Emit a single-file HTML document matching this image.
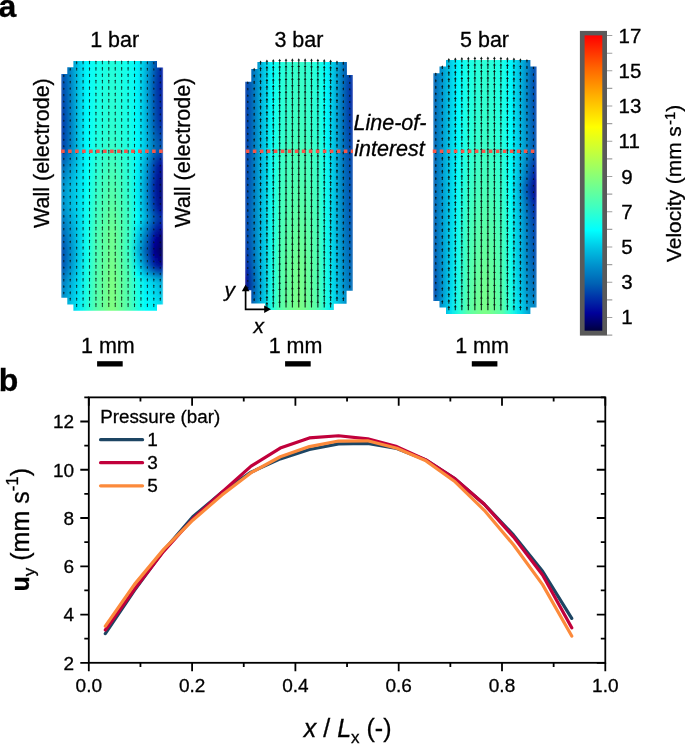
<!DOCTYPE html><html><head><meta charset="utf-8"><style>html,body{margin:0;padding:0;background:#fff;width:685px;height:744px;overflow:hidden}svg{display:block;will-change:transform}text{font-family:"Liberation Sans",sans-serif;fill:#000;stroke:#000;stroke-width:.3px}</style></head><body>
<svg width="685" height="744" viewBox="0 0 685 744">
<defs>
<clipPath id="cp1"><polygon points="73.4,61 157,61 157,67.4 163.2,67.4 163.2,304.4 157,304.4 157,310.8 73.4,310.8 73.4,304.5 67.3,304.5 67.3,297.8 61.1,297.8 61.1,74 67.3,74 67.3,67.2 73.4,67.2"/></clipPath>
<clipPath id="cp2"><polygon points="257.4,62.1 346.9,62.1 346.9,75 353,75 353,290.8 346.6,290.8 346.6,303.7 333.8,303.7 333.8,309.9 265,309.9 265,303.5 251.3,303.5 251.3,290.3 245,290.3 245,81.8 251.3,81.8 251.3,69 257.4,69"/></clipPath>
<clipPath id="cp3"><polygon points="446,60.1 530.4,60.1 530.4,66.5 536.8,66.5 536.8,307.6 530.4,307.6 530.4,314 446,314 446,307.6 439.5,307.6 439.5,300.9 433.1,300.9 433.1,73.2 439.5,73.2 439.5,66.5 446,66.5"/></clipPath>
<filter id="bl" x="-10%" y="-10%" width="120%" height="120%"><feGaussianBlur stdDeviation="1.2 2"/></filter>
<linearGradient id="gp10"><stop offset="0" stop-color="#004eaf"/><stop offset="0.08" stop-color="#0080c4"/><stop offset="0.17" stop-color="#00c7e5"/><stop offset="0.25" stop-color="#00f8fc"/><stop offset="0.33" stop-color="#0efff1"/><stop offset="0.42" stop-color="#1affe6"/><stop offset="0.5" stop-color="#24ffdc"/><stop offset="0.58" stop-color="#1affe6"/><stop offset="0.67" stop-color="#0dfff2"/><stop offset="0.75" stop-color="#00f4fa"/><stop offset="0.83" stop-color="#00b7de"/><stop offset="0.92" stop-color="#005cb3"/><stop offset="1" stop-color="#0018a1"/></linearGradient>
<linearGradient id="gp11"><stop offset="0" stop-color="#004eaf"/><stop offset="0.08" stop-color="#0080c4"/><stop offset="0.17" stop-color="#00c7e5"/><stop offset="0.25" stop-color="#00f8fc"/><stop offset="0.33" stop-color="#0efff1"/><stop offset="0.42" stop-color="#1affe5"/><stop offset="0.5" stop-color="#24ffdc"/><stop offset="0.58" stop-color="#1affe5"/><stop offset="0.67" stop-color="#0dfff2"/><stop offset="0.75" stop-color="#00f4fa"/><stop offset="0.83" stop-color="#00b7de"/><stop offset="0.92" stop-color="#005bb2"/><stop offset="1" stop-color="#0018a1"/></linearGradient>
<linearGradient id="gp12"><stop offset="0" stop-color="#004caf"/><stop offset="0.08" stop-color="#007fc3"/><stop offset="0.17" stop-color="#00c6e5"/><stop offset="0.25" stop-color="#00f8fc"/><stop offset="0.33" stop-color="#0ffff1"/><stop offset="0.42" stop-color="#1bffe5"/><stop offset="0.5" stop-color="#25ffdb"/><stop offset="0.58" stop-color="#1bffe5"/><stop offset="0.67" stop-color="#0efff1"/><stop offset="0.75" stop-color="#00f3fa"/><stop offset="0.83" stop-color="#00b6dd"/><stop offset="0.92" stop-color="#0059b2"/><stop offset="1" stop-color="#0017a1"/></linearGradient>
<linearGradient id="gp13"><stop offset="0" stop-color="#004aae"/><stop offset="0.08" stop-color="#007ec3"/><stop offset="0.17" stop-color="#00c6e5"/><stop offset="0.25" stop-color="#00f8fc"/><stop offset="0.33" stop-color="#0ffff0"/><stop offset="0.42" stop-color="#1bffe4"/><stop offset="0.5" stop-color="#25ffda"/><stop offset="0.58" stop-color="#1bffe4"/><stop offset="0.67" stop-color="#0efff1"/><stop offset="0.75" stop-color="#00f3fa"/><stop offset="0.83" stop-color="#00b5dd"/><stop offset="0.92" stop-color="#0057b1"/><stop offset="1" stop-color="#0016a1"/></linearGradient>
<linearGradient id="gp14"><stop offset="0" stop-color="#0048ae"/><stop offset="0.08" stop-color="#007dc2"/><stop offset="0.17" stop-color="#00c5e5"/><stop offset="0.25" stop-color="#00f9fc"/><stop offset="0.33" stop-color="#10fff0"/><stop offset="0.42" stop-color="#1cffe4"/><stop offset="0.5" stop-color="#26ffda"/><stop offset="0.58" stop-color="#1cffe4"/><stop offset="0.67" stop-color="#0ffff0"/><stop offset="0.75" stop-color="#00f3f9"/><stop offset="0.83" stop-color="#00b3dc"/><stop offset="0.92" stop-color="#0054b1"/><stop offset="1" stop-color="#0016a0"/></linearGradient>
<linearGradient id="gp15"><stop offset="0" stop-color="#0047ad"/><stop offset="0.08" stop-color="#007cc1"/><stop offset="0.17" stop-color="#00c5e4"/><stop offset="0.25" stop-color="#00f9fc"/><stop offset="0.33" stop-color="#10ffef"/><stop offset="0.42" stop-color="#1cffe3"/><stop offset="0.5" stop-color="#26ffd9"/><stop offset="0.58" stop-color="#1cffe3"/><stop offset="0.67" stop-color="#0ffff0"/><stop offset="0.75" stop-color="#00f3f9"/><stop offset="0.83" stop-color="#00b2dc"/><stop offset="0.92" stop-color="#0052b0"/><stop offset="1" stop-color="#0015a0"/></linearGradient>
<linearGradient id="gp16"><stop offset="0" stop-color="#0045ad"/><stop offset="0.08" stop-color="#007bc1"/><stop offset="0.17" stop-color="#00c5e4"/><stop offset="0.25" stop-color="#00f9fc"/><stop offset="0.33" stop-color="#11ffef"/><stop offset="0.42" stop-color="#1dffe2"/><stop offset="0.5" stop-color="#27ffd9"/><stop offset="0.58" stop-color="#1dffe2"/><stop offset="0.67" stop-color="#10ffef"/><stop offset="0.75" stop-color="#00f2f9"/><stop offset="0.83" stop-color="#00b1db"/><stop offset="0.92" stop-color="#0050b0"/><stop offset="1" stop-color="#0014a0"/></linearGradient>
<linearGradient id="gp17"><stop offset="0" stop-color="#0043ad"/><stop offset="0.08" stop-color="#007ac0"/><stop offset="0.17" stop-color="#00c4e4"/><stop offset="0.25" stop-color="#00f9fc"/><stop offset="0.33" stop-color="#11ffee"/><stop offset="0.42" stop-color="#1effe2"/><stop offset="0.5" stop-color="#28ffd8"/><stop offset="0.58" stop-color="#1effe2"/><stop offset="0.67" stop-color="#10ffef"/><stop offset="0.75" stop-color="#00f2f9"/><stop offset="0.83" stop-color="#00b0db"/><stop offset="0.92" stop-color="#004daf"/><stop offset="1" stop-color="#0014a0"/></linearGradient>
<linearGradient id="gp18"><stop offset="0" stop-color="#0041ac"/><stop offset="0.08" stop-color="#0078c0"/><stop offset="0.17" stop-color="#00c4e4"/><stop offset="0.25" stop-color="#00fafc"/><stop offset="0.33" stop-color="#12ffed"/><stop offset="0.42" stop-color="#1effe1"/><stop offset="0.5" stop-color="#28ffd7"/><stop offset="0.58" stop-color="#1effe1"/><stop offset="0.67" stop-color="#11ffee"/><stop offset="0.75" stop-color="#00f2f9"/><stop offset="0.83" stop-color="#00afda"/><stop offset="0.92" stop-color="#004bae"/><stop offset="1" stop-color="#00139f"/></linearGradient>
<linearGradient id="gp19"><stop offset="0" stop-color="#003fac"/><stop offset="0.08" stop-color="#0077bf"/><stop offset="0.17" stop-color="#00c3e4"/><stop offset="0.25" stop-color="#00fafd"/><stop offset="0.33" stop-color="#12ffed"/><stop offset="0.42" stop-color="#1fffe1"/><stop offset="0.5" stop-color="#29ffd7"/><stop offset="0.58" stop-color="#1fffe1"/><stop offset="0.67" stop-color="#11ffee"/><stop offset="0.75" stop-color="#00f2f9"/><stop offset="0.83" stop-color="#00aeda"/><stop offset="0.92" stop-color="#0049ae"/><stop offset="1" stop-color="#00129f"/></linearGradient>
<linearGradient id="gp110"><stop offset="0" stop-color="#003eab"/><stop offset="0.08" stop-color="#0077bf"/><stop offset="0.17" stop-color="#00c3e4"/><stop offset="0.25" stop-color="#00fafd"/><stop offset="0.33" stop-color="#13ffed"/><stop offset="0.42" stop-color="#1fffe0"/><stop offset="0.5" stop-color="#29ffd6"/><stop offset="0.58" stop-color="#1fffe0"/><stop offset="0.67" stop-color="#12ffee"/><stop offset="0.75" stop-color="#00f2f9"/><stop offset="0.83" stop-color="#00aeda"/><stop offset="0.92" stop-color="#0049ae"/><stop offset="1" stop-color="#00139f"/></linearGradient>
<linearGradient id="gp111"><stop offset="0" stop-color="#003dab"/><stop offset="0.08" stop-color="#0076be"/><stop offset="0.17" stop-color="#00c3e4"/><stop offset="0.25" stop-color="#00fafd"/><stop offset="0.33" stop-color="#13ffec"/><stop offset="0.42" stop-color="#20ffe0"/><stop offset="0.5" stop-color="#2affd6"/><stop offset="0.58" stop-color="#20ffe0"/><stop offset="0.67" stop-color="#12ffed"/><stop offset="0.75" stop-color="#00f2f9"/><stop offset="0.83" stop-color="#00aeda"/><stop offset="0.92" stop-color="#004aae"/><stop offset="1" stop-color="#0014a0"/></linearGradient>
<linearGradient id="gp112"><stop offset="0" stop-color="#003cab"/><stop offset="0.08" stop-color="#0075be"/><stop offset="0.17" stop-color="#00c3e3"/><stop offset="0.25" stop-color="#00fafd"/><stop offset="0.33" stop-color="#14ffec"/><stop offset="0.42" stop-color="#20ffdf"/><stop offset="0.5" stop-color="#2affd6"/><stop offset="0.58" stop-color="#20ffdf"/><stop offset="0.67" stop-color="#13ffed"/><stop offset="0.75" stop-color="#00f3f9"/><stop offset="0.83" stop-color="#00afda"/><stop offset="0.92" stop-color="#004aae"/><stop offset="1" stop-color="#0015a0"/></linearGradient>
<linearGradient id="gp113"><stop offset="0" stop-color="#003aaa"/><stop offset="0.08" stop-color="#0074be"/><stop offset="0.17" stop-color="#00c3e3"/><stop offset="0.25" stop-color="#00fafd"/><stop offset="0.33" stop-color="#14ffeb"/><stop offset="0.42" stop-color="#21ffdf"/><stop offset="0.5" stop-color="#2bffd5"/><stop offset="0.58" stop-color="#21ffdf"/><stop offset="0.67" stop-color="#13ffec"/><stop offset="0.75" stop-color="#00f3fa"/><stop offset="0.83" stop-color="#00b0db"/><stop offset="0.92" stop-color="#004baf"/><stop offset="1" stop-color="#0016a0"/></linearGradient>
<linearGradient id="gp114"><stop offset="0" stop-color="#0039aa"/><stop offset="0.08" stop-color="#0074bd"/><stop offset="0.17" stop-color="#00c2e3"/><stop offset="0.25" stop-color="#00fbfd"/><stop offset="0.33" stop-color="#14ffeb"/><stop offset="0.42" stop-color="#21ffdf"/><stop offset="0.5" stop-color="#2bffd5"/><stop offset="0.58" stop-color="#21ffdf"/><stop offset="0.67" stop-color="#13ffec"/><stop offset="0.75" stop-color="#00f4fa"/><stop offset="0.83" stop-color="#00b0db"/><stop offset="0.92" stop-color="#004caf"/><stop offset="1" stop-color="#0017a1"/></linearGradient>
<linearGradient id="gp115"><stop offset="0" stop-color="#0038aa"/><stop offset="0.08" stop-color="#0073bd"/><stop offset="0.17" stop-color="#00c2e3"/><stop offset="0.25" stop-color="#00fbfd"/><stop offset="0.33" stop-color="#15ffeb"/><stop offset="0.42" stop-color="#21ffde"/><stop offset="0.5" stop-color="#2bffd4"/><stop offset="0.58" stop-color="#21ffde"/><stop offset="0.67" stop-color="#14ffec"/><stop offset="0.75" stop-color="#00f4fa"/><stop offset="0.83" stop-color="#00b1db"/><stop offset="0.92" stop-color="#004daf"/><stop offset="1" stop-color="#0018a1"/></linearGradient>
<linearGradient id="gp116"><stop offset="0" stop-color="#0037aa"/><stop offset="0.08" stop-color="#0072bd"/><stop offset="0.17" stop-color="#00c2e3"/><stop offset="0.25" stop-color="#00fbfd"/><stop offset="0.33" stop-color="#15ffea"/><stop offset="0.42" stop-color="#22ffde"/><stop offset="0.5" stop-color="#2cffd4"/><stop offset="0.58" stop-color="#22ffde"/><stop offset="0.67" stop-color="#14ffeb"/><stop offset="0.75" stop-color="#00f5fa"/><stop offset="0.83" stop-color="#00b1db"/><stop offset="0.92" stop-color="#004eaf"/><stop offset="1" stop-color="#0019a1"/></linearGradient>
<linearGradient id="gp117"><stop offset="0" stop-color="#0036a9"/><stop offset="0.08" stop-color="#0072bc"/><stop offset="0.17" stop-color="#00c2e3"/><stop offset="0.25" stop-color="#00fbfd"/><stop offset="0.33" stop-color="#15ffea"/><stop offset="0.42" stop-color="#22ffdd"/><stop offset="0.5" stop-color="#2cffd4"/><stop offset="0.58" stop-color="#22ffdd"/><stop offset="0.67" stop-color="#15ffeb"/><stop offset="0.75" stop-color="#00f5fb"/><stop offset="0.83" stop-color="#00b2dc"/><stop offset="0.92" stop-color="#004eaf"/><stop offset="1" stop-color="#001aa1"/></linearGradient>
<linearGradient id="gp118"><stop offset="0" stop-color="#0034a9"/><stop offset="0.08" stop-color="#0071bc"/><stop offset="0.17" stop-color="#00c1e3"/><stop offset="0.25" stop-color="#00fbfd"/><stop offset="0.33" stop-color="#16ffea"/><stop offset="0.42" stop-color="#23ffdd"/><stop offset="0.5" stop-color="#2dffd3"/><stop offset="0.58" stop-color="#23ffdd"/><stop offset="0.67" stop-color="#15ffea"/><stop offset="0.75" stop-color="#00f6fb"/><stop offset="0.83" stop-color="#00b2dc"/><stop offset="0.92" stop-color="#004faf"/><stop offset="1" stop-color="#001aa2"/></linearGradient>
<linearGradient id="gp119"><stop offset="0" stop-color="#0033a9"/><stop offset="0.08" stop-color="#0070bb"/><stop offset="0.17" stop-color="#00c1e3"/><stop offset="0.25" stop-color="#00fbfd"/><stop offset="0.33" stop-color="#16ffe9"/><stop offset="0.42" stop-color="#23ffdd"/><stop offset="0.5" stop-color="#2dffd3"/><stop offset="0.58" stop-color="#23ffdd"/><stop offset="0.67" stop-color="#15ffea"/><stop offset="0.75" stop-color="#00f6fb"/><stop offset="0.83" stop-color="#00b3dc"/><stop offset="0.92" stop-color="#0050b0"/><stop offset="1" stop-color="#001ba2"/></linearGradient>
<linearGradient id="gp120"><stop offset="0" stop-color="#0032a8"/><stop offset="0.08" stop-color="#006fbb"/><stop offset="0.17" stop-color="#00c1e3"/><stop offset="0.25" stop-color="#00fcfd"/><stop offset="0.33" stop-color="#16ffe9"/><stop offset="0.42" stop-color="#23ffdc"/><stop offset="0.5" stop-color="#2dffd2"/><stop offset="0.58" stop-color="#23ffdc"/><stop offset="0.67" stop-color="#16ffea"/><stop offset="0.75" stop-color="#00f7fb"/><stop offset="0.83" stop-color="#00b3dc"/><stop offset="0.92" stop-color="#0051b0"/><stop offset="1" stop-color="#001ca2"/></linearGradient>
<linearGradient id="gp121"><stop offset="0" stop-color="#0031a8"/><stop offset="0.08" stop-color="#006fbb"/><stop offset="0.17" stop-color="#00c1e2"/><stop offset="0.25" stop-color="#00fcfe"/><stop offset="0.33" stop-color="#17ffe9"/><stop offset="0.42" stop-color="#24ffdc"/><stop offset="0.5" stop-color="#2effd2"/><stop offset="0.58" stop-color="#24ffdc"/><stop offset="0.67" stop-color="#16ffe9"/><stop offset="0.75" stop-color="#00f7fc"/><stop offset="0.83" stop-color="#00b4dd"/><stop offset="0.92" stop-color="#0052b0"/><stop offset="1" stop-color="#001da3"/></linearGradient>
<linearGradient id="gp122"><stop offset="0" stop-color="#0030a8"/><stop offset="0.08" stop-color="#006eba"/><stop offset="0.17" stop-color="#00c1e2"/><stop offset="0.25" stop-color="#00fcfe"/><stop offset="0.33" stop-color="#17ffe8"/><stop offset="0.42" stop-color="#24ffdb"/><stop offset="0.5" stop-color="#2effd1"/><stop offset="0.58" stop-color="#24ffdb"/><stop offset="0.67" stop-color="#17ffe9"/><stop offset="0.75" stop-color="#00f8fc"/><stop offset="0.83" stop-color="#00b5dd"/><stop offset="0.92" stop-color="#0053b0"/><stop offset="1" stop-color="#0020a3"/></linearGradient>
<linearGradient id="gp123"><stop offset="0" stop-color="#0031a8"/><stop offset="0.08" stop-color="#006fbb"/><stop offset="0.17" stop-color="#00c1e3"/><stop offset="0.25" stop-color="#00fcfe"/><stop offset="0.33" stop-color="#18ffe8"/><stop offset="0.42" stop-color="#25ffda"/><stop offset="0.5" stop-color="#30ffd0"/><stop offset="0.58" stop-color="#25ffda"/><stop offset="0.67" stop-color="#17ffe8"/><stop offset="0.75" stop-color="#00f9fc"/><stop offset="0.83" stop-color="#00b6de"/><stop offset="0.92" stop-color="#0057b1"/><stop offset="1" stop-color="#0027a5"/></linearGradient>
<linearGradient id="gp124"><stop offset="0" stop-color="#0031a8"/><stop offset="0.08" stop-color="#0070bb"/><stop offset="0.17" stop-color="#00c1e3"/><stop offset="0.25" stop-color="#00fcfe"/><stop offset="0.33" stop-color="#18ffe7"/><stop offset="0.42" stop-color="#26ffd9"/><stop offset="0.5" stop-color="#31ffcf"/><stop offset="0.58" stop-color="#26ffd9"/><stop offset="0.67" stop-color="#18ffe7"/><stop offset="0.75" stop-color="#00fafc"/><stop offset="0.83" stop-color="#00b8de"/><stop offset="0.92" stop-color="#005ab2"/><stop offset="1" stop-color="#002da7"/></linearGradient>
<linearGradient id="gp125"><stop offset="0" stop-color="#0032a8"/><stop offset="0.08" stop-color="#0070bb"/><stop offset="0.17" stop-color="#00c1e3"/><stop offset="0.25" stop-color="#00fdfe"/><stop offset="0.33" stop-color="#19ffe6"/><stop offset="0.42" stop-color="#27ffd8"/><stop offset="0.5" stop-color="#32ffce"/><stop offset="0.58" stop-color="#27ffd8"/><stop offset="0.67" stop-color="#19ffe7"/><stop offset="0.75" stop-color="#00fafd"/><stop offset="0.83" stop-color="#00b9df"/><stop offset="0.92" stop-color="#005eb3"/><stop offset="1" stop-color="#0033a9"/></linearGradient>
<linearGradient id="gp126"><stop offset="0" stop-color="#0033a9"/><stop offset="0.08" stop-color="#0071bc"/><stop offset="0.17" stop-color="#00c1e3"/><stop offset="0.25" stop-color="#00fdfe"/><stop offset="0.33" stop-color="#19ffe6"/><stop offset="0.42" stop-color="#28ffd8"/><stop offset="0.5" stop-color="#34ffcc"/><stop offset="0.58" stop-color="#28ffd8"/><stop offset="0.67" stop-color="#19ffe6"/><stop offset="0.75" stop-color="#00fbfd"/><stop offset="0.83" stop-color="#00bbe0"/><stop offset="0.92" stop-color="#0062b4"/><stop offset="1" stop-color="#0039aa"/></linearGradient>
<linearGradient id="gp127"><stop offset="0" stop-color="#0033a9"/><stop offset="0.08" stop-color="#0071bc"/><stop offset="0.17" stop-color="#00c1e3"/><stop offset="0.25" stop-color="#00fdfe"/><stop offset="0.33" stop-color="#1affe5"/><stop offset="0.42" stop-color="#29ffd7"/><stop offset="0.5" stop-color="#35ffcb"/><stop offset="0.58" stop-color="#29ffd7"/><stop offset="0.67" stop-color="#1affe6"/><stop offset="0.75" stop-color="#00fcfe"/><stop offset="0.83" stop-color="#00bce0"/><stop offset="0.92" stop-color="#0065b6"/><stop offset="1" stop-color="#003eab"/></linearGradient>
<linearGradient id="gp128"><stop offset="0" stop-color="#0034a9"/><stop offset="0.08" stop-color="#0072bc"/><stop offset="0.17" stop-color="#00c2e3"/><stop offset="0.25" stop-color="#00fdfe"/><stop offset="0.33" stop-color="#1bffe5"/><stop offset="0.42" stop-color="#2affd6"/><stop offset="0.5" stop-color="#36ffca"/><stop offset="0.58" stop-color="#2affd6"/><stop offset="0.67" stop-color="#1affe5"/><stop offset="0.75" stop-color="#00fdfe"/><stop offset="0.83" stop-color="#00bee1"/><stop offset="0.92" stop-color="#0068b7"/><stop offset="1" stop-color="#0044ad"/></linearGradient>
<linearGradient id="gp129"><stop offset="0" stop-color="#0034a9"/><stop offset="0.08" stop-color="#0072bc"/><stop offset="0.17" stop-color="#00c2e3"/><stop offset="0.25" stop-color="#00fefe"/><stop offset="0.33" stop-color="#1bffe4"/><stop offset="0.42" stop-color="#2bffd5"/><stop offset="0.5" stop-color="#37ffc9"/><stop offset="0.58" stop-color="#2bffd5"/><stop offset="0.67" stop-color="#1bffe4"/><stop offset="0.75" stop-color="#00fdfe"/><stop offset="0.83" stop-color="#00bfe2"/><stop offset="0.92" stop-color="#006cb9"/><stop offset="1" stop-color="#0049ae"/></linearGradient>
<linearGradient id="gp130"><stop offset="0" stop-color="#0036a9"/><stop offset="0.08" stop-color="#0074bd"/><stop offset="0.17" stop-color="#00c2e3"/><stop offset="0.25" stop-color="#00feff"/><stop offset="0.33" stop-color="#1cffe4"/><stop offset="0.42" stop-color="#2cffd4"/><stop offset="0.5" stop-color="#39ffc7"/><stop offset="0.58" stop-color="#2cffd4"/><stop offset="0.67" stop-color="#1cffe4"/><stop offset="0.75" stop-color="#00fefe"/><stop offset="0.83" stop-color="#00c0e2"/><stop offset="0.92" stop-color="#006dba"/><stop offset="1" stop-color="#004caf"/></linearGradient>
<linearGradient id="gp131"><stop offset="0" stop-color="#003eab"/><stop offset="0.08" stop-color="#0079c0"/><stop offset="0.17" stop-color="#00c4e4"/><stop offset="0.25" stop-color="#00ffff"/><stop offset="0.33" stop-color="#1dffe2"/><stop offset="0.42" stop-color="#2effd2"/><stop offset="0.5" stop-color="#3bffc5"/><stop offset="0.58" stop-color="#2effd2"/><stop offset="0.67" stop-color="#1dffe3"/><stop offset="0.75" stop-color="#00fcfd"/><stop offset="0.83" stop-color="#00badf"/><stop offset="0.92" stop-color="#0064b5"/><stop offset="1" stop-color="#003fac"/></linearGradient>
<linearGradient id="gp132"><stop offset="0" stop-color="#0045ad"/><stop offset="0.08" stop-color="#007ec3"/><stop offset="0.17" stop-color="#00c6e5"/><stop offset="0.25" stop-color="#00ffff"/><stop offset="0.33" stop-color="#1fffe1"/><stop offset="0.42" stop-color="#30ffd0"/><stop offset="0.5" stop-color="#3effc2"/><stop offset="0.58" stop-color="#30ffd0"/><stop offset="0.67" stop-color="#1effe1"/><stop offset="0.75" stop-color="#00f9fc"/><stop offset="0.83" stop-color="#00b5dd"/><stop offset="0.92" stop-color="#005ab2"/><stop offset="1" stop-color="#0033a9"/></linearGradient>
<linearGradient id="gp133"><stop offset="0" stop-color="#004daf"/><stop offset="0.08" stop-color="#0083c5"/><stop offset="0.17" stop-color="#00c8e6"/><stop offset="0.25" stop-color="#01fffe"/><stop offset="0.33" stop-color="#20ffdf"/><stop offset="0.42" stop-color="#32ffce"/><stop offset="0.5" stop-color="#40ffc0"/><stop offset="0.58" stop-color="#32ffce"/><stop offset="0.67" stop-color="#1fffe0"/><stop offset="0.75" stop-color="#00f7fc"/><stop offset="0.83" stop-color="#00afdb"/><stop offset="0.92" stop-color="#0050b0"/><stop offset="1" stop-color="#0024a5"/></linearGradient>
<linearGradient id="gp134"><stop offset="0" stop-color="#0054b1"/><stop offset="0.08" stop-color="#0088c8"/><stop offset="0.17" stop-color="#00cae7"/><stop offset="0.25" stop-color="#02fffe"/><stop offset="0.33" stop-color="#22ffde"/><stop offset="0.42" stop-color="#34ffcc"/><stop offset="0.5" stop-color="#42ffbe"/><stop offset="0.58" stop-color="#34ffcc"/><stop offset="0.67" stop-color="#20ffdf"/><stop offset="0.75" stop-color="#00f5fb"/><stop offset="0.83" stop-color="#00aad8"/><stop offset="0.92" stop-color="#0046ad"/><stop offset="1" stop-color="#0015a0"/></linearGradient>
<linearGradient id="gp135"><stop offset="0" stop-color="#005cb3"/><stop offset="0.08" stop-color="#008ecb"/><stop offset="0.17" stop-color="#00cce8"/><stop offset="0.25" stop-color="#02fffd"/><stop offset="0.33" stop-color="#23ffdc"/><stop offset="0.42" stop-color="#36ffca"/><stop offset="0.5" stop-color="#44ffbc"/><stop offset="0.58" stop-color="#36ffca"/><stop offset="0.67" stop-color="#21ffde"/><stop offset="0.75" stop-color="#00f3fa"/><stop offset="0.83" stop-color="#00a5d6"/><stop offset="0.92" stop-color="#003dab"/><stop offset="1" stop-color="#00069c"/></linearGradient>
<linearGradient id="gp136"><stop offset="0" stop-color="#0063b4"/><stop offset="0.08" stop-color="#0093cd"/><stop offset="0.17" stop-color="#00cee9"/><stop offset="0.25" stop-color="#03fffc"/><stop offset="0.33" stop-color="#25ffdb"/><stop offset="0.42" stop-color="#38ffc8"/><stop offset="0.5" stop-color="#46ffba"/><stop offset="0.58" stop-color="#38ffc8"/><stop offset="0.67" stop-color="#23ffdd"/><stop offset="0.75" stop-color="#00f1f9"/><stop offset="0.83" stop-color="#00a0d3"/><stop offset="0.92" stop-color="#0034a9"/><stop offset="1" stop-color="#000090"/></linearGradient>
<linearGradient id="gp137"><stop offset="0" stop-color="#0068b7"/><stop offset="0.08" stop-color="#0098d0"/><stop offset="0.17" stop-color="#00cfe9"/><stop offset="0.25" stop-color="#03fffc"/><stop offset="0.33" stop-color="#26ffd9"/><stop offset="0.42" stop-color="#3affc6"/><stop offset="0.5" stop-color="#48ffb8"/><stop offset="0.58" stop-color="#3affc6"/><stop offset="0.67" stop-color="#23ffdd"/><stop offset="0.75" stop-color="#00f0f8"/><stop offset="0.83" stop-color="#009ed2"/><stop offset="0.92" stop-color="#0031a8"/><stop offset="1" stop-color="#00008b"/></linearGradient>
<linearGradient id="gp138"><stop offset="0" stop-color="#006eba"/><stop offset="0.08" stop-color="#009cd2"/><stop offset="0.17" stop-color="#00d1ea"/><stop offset="0.25" stop-color="#04fffb"/><stop offset="0.33" stop-color="#28ffd8"/><stop offset="0.42" stop-color="#3cffc4"/><stop offset="0.5" stop-color="#4affb6"/><stop offset="0.58" stop-color="#3bffc5"/><stop offset="0.67" stop-color="#24ffdc"/><stop offset="0.75" stop-color="#00f0f8"/><stop offset="0.83" stop-color="#009cd1"/><stop offset="0.92" stop-color="#002ea7"/><stop offset="1" stop-color="#000087"/></linearGradient>
<linearGradient id="gp139"><stop offset="0" stop-color="#0073bd"/><stop offset="0.08" stop-color="#00a1d4"/><stop offset="0.17" stop-color="#00d3eb"/><stop offset="0.25" stop-color="#04fffb"/><stop offset="0.33" stop-color="#29ffd7"/><stop offset="0.42" stop-color="#3effc2"/><stop offset="0.5" stop-color="#4cffb4"/><stop offset="0.58" stop-color="#3dffc3"/><stop offset="0.67" stop-color="#24ffdc"/><stop offset="0.75" stop-color="#00eff7"/><stop offset="0.83" stop-color="#009ad1"/><stop offset="0.92" stop-color="#002aa6"/><stop offset="1" stop-color="#000083"/></linearGradient>
<linearGradient id="gp140"><stop offset="0" stop-color="#0079c0"/><stop offset="0.08" stop-color="#00a5d6"/><stop offset="0.17" stop-color="#00d4eb"/><stop offset="0.25" stop-color="#05fffa"/><stop offset="0.33" stop-color="#2affd5"/><stop offset="0.42" stop-color="#40ffc0"/><stop offset="0.5" stop-color="#4effb2"/><stop offset="0.58" stop-color="#3effc2"/><stop offset="0.67" stop-color="#25ffdb"/><stop offset="0.75" stop-color="#00eef7"/><stop offset="0.83" stop-color="#0098d0"/><stop offset="0.92" stop-color="#0027a5"/><stop offset="1" stop-color="#00007e"/></linearGradient>
<linearGradient id="gp141"><stop offset="0" stop-color="#007fc3"/><stop offset="0.08" stop-color="#00aad8"/><stop offset="0.17" stop-color="#00d6ec"/><stop offset="0.25" stop-color="#05fffa"/><stop offset="0.33" stop-color="#2cffd4"/><stop offset="0.42" stop-color="#41ffbf"/><stop offset="0.5" stop-color="#4fffb1"/><stop offset="0.58" stop-color="#40ffc0"/><stop offset="0.67" stop-color="#25ffdb"/><stop offset="0.75" stop-color="#00edf7"/><stop offset="0.83" stop-color="#0096cf"/><stop offset="0.92" stop-color="#0023a4"/><stop offset="1" stop-color="#00007a"/></linearGradient>
<linearGradient id="gp142"><stop offset="0" stop-color="#0084c6"/><stop offset="0.08" stop-color="#00aeda"/><stop offset="0.17" stop-color="#00d7ed"/><stop offset="0.25" stop-color="#06fff9"/><stop offset="0.33" stop-color="#2dffd3"/><stop offset="0.42" stop-color="#43ffbd"/><stop offset="0.5" stop-color="#51ffaf"/><stop offset="0.58" stop-color="#41ffbf"/><stop offset="0.67" stop-color="#26ffda"/><stop offset="0.75" stop-color="#00ecf6"/><stop offset="0.83" stop-color="#0094ce"/><stop offset="0.92" stop-color="#001fa3"/><stop offset="1" stop-color="#000076"/></linearGradient>
<linearGradient id="gp143"><stop offset="0" stop-color="#0087c7"/><stop offset="0.08" stop-color="#00b1db"/><stop offset="0.17" stop-color="#00d8ed"/><stop offset="0.25" stop-color="#06fff9"/><stop offset="0.33" stop-color="#2effd1"/><stop offset="0.42" stop-color="#44ffbc"/><stop offset="0.5" stop-color="#53ffad"/><stop offset="0.58" stop-color="#42ffbe"/><stop offset="0.67" stop-color="#27ffd9"/><stop offset="0.75" stop-color="#00ecf6"/><stop offset="0.83" stop-color="#0093ce"/><stop offset="0.92" stop-color="#001fa3"/><stop offset="1" stop-color="#000074"/></linearGradient>
<linearGradient id="gp144"><stop offset="0" stop-color="#0087c7"/><stop offset="0.08" stop-color="#00b1db"/><stop offset="0.17" stop-color="#00d8ed"/><stop offset="0.25" stop-color="#07fff8"/><stop offset="0.33" stop-color="#30ffd0"/><stop offset="0.42" stop-color="#46ffba"/><stop offset="0.5" stop-color="#55ffab"/><stop offset="0.58" stop-color="#44ffbc"/><stop offset="0.67" stop-color="#28ffd8"/><stop offset="0.75" stop-color="#00edf7"/><stop offset="0.83" stop-color="#0094ce"/><stop offset="0.92" stop-color="#0020a3"/><stop offset="1" stop-color="#000076"/></linearGradient>
<linearGradient id="gp145"><stop offset="0" stop-color="#0087c7"/><stop offset="0.08" stop-color="#00b1db"/><stop offset="0.17" stop-color="#00d8ed"/><stop offset="0.25" stop-color="#07fff8"/><stop offset="0.33" stop-color="#31ffcf"/><stop offset="0.42" stop-color="#47ffb9"/><stop offset="0.5" stop-color="#56ffaa"/><stop offset="0.58" stop-color="#45ffbb"/><stop offset="0.67" stop-color="#29ffd6"/><stop offset="0.75" stop-color="#00eef7"/><stop offset="0.83" stop-color="#0095ce"/><stop offset="0.92" stop-color="#0022a4"/><stop offset="1" stop-color="#000077"/></linearGradient>
<linearGradient id="gp146"><stop offset="0" stop-color="#0087c7"/><stop offset="0.08" stop-color="#00b1db"/><stop offset="0.17" stop-color="#00d8ed"/><stop offset="0.25" stop-color="#08fff7"/><stop offset="0.33" stop-color="#33ffcd"/><stop offset="0.42" stop-color="#49ffb7"/><stop offset="0.5" stop-color="#58ffa8"/><stop offset="0.58" stop-color="#46ffba"/><stop offset="0.67" stop-color="#2bffd5"/><stop offset="0.75" stop-color="#00f0f8"/><stop offset="0.83" stop-color="#0096cf"/><stop offset="0.92" stop-color="#0024a4"/><stop offset="1" stop-color="#000078"/></linearGradient>
<linearGradient id="gp147"><stop offset="0" stop-color="#0087c7"/><stop offset="0.08" stop-color="#00b1db"/><stop offset="0.17" stop-color="#00d8ed"/><stop offset="0.25" stop-color="#08fff7"/><stop offset="0.33" stop-color="#34ffcc"/><stop offset="0.42" stop-color="#4affb6"/><stop offset="0.5" stop-color="#5affa6"/><stop offset="0.58" stop-color="#48ffb8"/><stop offset="0.67" stop-color="#2cffd3"/><stop offset="0.75" stop-color="#00f1f9"/><stop offset="0.83" stop-color="#0097cf"/><stop offset="0.92" stop-color="#0026a5"/><stop offset="1" stop-color="#00007a"/></linearGradient>
<linearGradient id="gp148"><stop offset="0" stop-color="#0087c7"/><stop offset="0.08" stop-color="#00b1db"/><stop offset="0.17" stop-color="#00d8ed"/><stop offset="0.25" stop-color="#09fff6"/><stop offset="0.33" stop-color="#35ffcb"/><stop offset="0.42" stop-color="#4cffb4"/><stop offset="0.5" stop-color="#5cffa4"/><stop offset="0.58" stop-color="#49ffb7"/><stop offset="0.67" stop-color="#2effd2"/><stop offset="0.75" stop-color="#00f2f9"/><stop offset="0.83" stop-color="#0098d0"/><stop offset="0.92" stop-color="#0027a5"/><stop offset="1" stop-color="#00007b"/></linearGradient>
<linearGradient id="gp149"><stop offset="0" stop-color="#0087c7"/><stop offset="0.08" stop-color="#00b1db"/><stop offset="0.17" stop-color="#00d8ed"/><stop offset="0.25" stop-color="#09fff6"/><stop offset="0.33" stop-color="#37ffc9"/><stop offset="0.42" stop-color="#4dffb3"/><stop offset="0.5" stop-color="#5effa2"/><stop offset="0.58" stop-color="#4bffb5"/><stop offset="0.67" stop-color="#2fffd0"/><stop offset="0.75" stop-color="#00f3fa"/><stop offset="0.83" stop-color="#0099d0"/><stop offset="0.92" stop-color="#0029a6"/><stop offset="1" stop-color="#00007d"/></linearGradient>
<linearGradient id="gp150"><stop offset="0" stop-color="#0083c5"/><stop offset="0.08" stop-color="#00adda"/><stop offset="0.17" stop-color="#00d7ed"/><stop offset="0.25" stop-color="#0afff5"/><stop offset="0.33" stop-color="#38ffc8"/><stop offset="0.42" stop-color="#4fffb1"/><stop offset="0.5" stop-color="#60ffa0"/><stop offset="0.58" stop-color="#4cffb4"/><stop offset="0.67" stop-color="#31ffcf"/><stop offset="0.75" stop-color="#00f6fb"/><stop offset="0.83" stop-color="#009dd2"/><stop offset="0.92" stop-color="#0033a9"/><stop offset="1" stop-color="#00008f"/></linearGradient>
<linearGradient id="gp151"><stop offset="0" stop-color="#007ec3"/><stop offset="0.08" stop-color="#00aad8"/><stop offset="0.17" stop-color="#00d6ec"/><stop offset="0.25" stop-color="#0afff5"/><stop offset="0.33" stop-color="#39ffc7"/><stop offset="0.42" stop-color="#50ffb0"/><stop offset="0.5" stop-color="#62ff9e"/><stop offset="0.58" stop-color="#4effb2"/><stop offset="0.67" stop-color="#32ffce"/><stop offset="0.75" stop-color="#00f8fc"/><stop offset="0.83" stop-color="#00a2d4"/><stop offset="0.92" stop-color="#003dab"/><stop offset="1" stop-color="#00079c"/></linearGradient>
<linearGradient id="gp152"><stop offset="0" stop-color="#007ac0"/><stop offset="0.08" stop-color="#00a6d6"/><stop offset="0.17" stop-color="#00d4eb"/><stop offset="0.25" stop-color="#0bfff5"/><stop offset="0.33" stop-color="#3affc6"/><stop offset="0.42" stop-color="#51ffaf"/><stop offset="0.5" stop-color="#64ff9c"/><stop offset="0.58" stop-color="#4fffb1"/><stop offset="0.67" stop-color="#34ffcc"/><stop offset="0.75" stop-color="#00fbfd"/><stop offset="0.83" stop-color="#00a7d7"/><stop offset="0.92" stop-color="#0046ad"/><stop offset="1" stop-color="#0014a0"/></linearGradient>
<linearGradient id="gp153"><stop offset="0" stop-color="#0075be"/><stop offset="0.08" stop-color="#00a2d4"/><stop offset="0.17" stop-color="#00d3eb"/><stop offset="0.25" stop-color="#0bfff4"/><stop offset="0.33" stop-color="#3bffc5"/><stop offset="0.42" stop-color="#53ffad"/><stop offset="0.5" stop-color="#66ff9a"/><stop offset="0.58" stop-color="#51ffaf"/><stop offset="0.67" stop-color="#35ffcb"/><stop offset="0.75" stop-color="#00fefe"/><stop offset="0.83" stop-color="#00acd9"/><stop offset="0.92" stop-color="#0050b0"/><stop offset="1" stop-color="#0022a4"/></linearGradient>
<linearGradient id="gp154"><stop offset="0" stop-color="#0071bc"/><stop offset="0.08" stop-color="#009fd3"/><stop offset="0.17" stop-color="#00d2ea"/><stop offset="0.25" stop-color="#0cfff4"/><stop offset="0.33" stop-color="#3dffc3"/><stop offset="0.42" stop-color="#54ffac"/><stop offset="0.5" stop-color="#68ff98"/><stop offset="0.58" stop-color="#52ffae"/><stop offset="0.67" stop-color="#35ffcb"/><stop offset="0.75" stop-color="#00f8fc"/><stop offset="0.83" stop-color="#00a4d5"/><stop offset="0.92" stop-color="#0049ae"/><stop offset="1" stop-color="#001ba2"/></linearGradient>
<linearGradient id="gp155"><stop offset="0" stop-color="#006cb9"/><stop offset="0.08" stop-color="#009bd1"/><stop offset="0.17" stop-color="#00d1ea"/><stop offset="0.25" stop-color="#0cfff3"/><stop offset="0.33" stop-color="#3effc2"/><stop offset="0.42" stop-color="#56ffaa"/><stop offset="0.5" stop-color="#6aff96"/><stop offset="0.58" stop-color="#53ffad"/><stop offset="0.67" stop-color="#35ffcb"/><stop offset="0.75" stop-color="#00f1f8"/><stop offset="0.83" stop-color="#009ad1"/><stop offset="0.92" stop-color="#003eab"/><stop offset="1" stop-color="#00109f"/></linearGradient>
<linearGradient id="gp156"><stop offset="0" stop-color="#0067b7"/><stop offset="0.08" stop-color="#0098d0"/><stop offset="0.17" stop-color="#00d0e9"/><stop offset="0.25" stop-color="#0dfff2"/><stop offset="0.33" stop-color="#40ffc0"/><stop offset="0.42" stop-color="#58ffa8"/><stop offset="0.5" stop-color="#6cff94"/><stop offset="0.58" stop-color="#54ffac"/><stop offset="0.67" stop-color="#34ffcb"/><stop offset="0.75" stop-color="#00e9f5"/><stop offset="0.83" stop-color="#0090cc"/><stop offset="0.92" stop-color="#0033a9"/><stop offset="1" stop-color="#00059b"/></linearGradient>
<linearGradient id="gp157"><stop offset="0" stop-color="#0063b4"/><stop offset="0.08" stop-color="#0095ce"/><stop offset="0.17" stop-color="#00cee9"/><stop offset="0.25" stop-color="#0dfff2"/><stop offset="0.33" stop-color="#41ffbf"/><stop offset="0.42" stop-color="#59ffa7"/><stop offset="0.5" stop-color="#6eff92"/><stop offset="0.58" stop-color="#56ffaa"/><stop offset="0.67" stop-color="#34ffcc"/><stop offset="0.75" stop-color="#00e2f2"/><stop offset="0.83" stop-color="#0087c7"/><stop offset="0.92" stop-color="#0027a5"/><stop offset="1" stop-color="#000090"/></linearGradient>
<linearGradient id="gp158"><stop offset="0" stop-color="#005eb3"/><stop offset="0.08" stop-color="#0091cd"/><stop offset="0.17" stop-color="#00cde8"/><stop offset="0.25" stop-color="#0efff1"/><stop offset="0.33" stop-color="#42ffbe"/><stop offset="0.42" stop-color="#5bffa5"/><stop offset="0.5" stop-color="#70ff90"/><stop offset="0.58" stop-color="#57ffa9"/><stop offset="0.67" stop-color="#34ffcc"/><stop offset="0.75" stop-color="#00dbef"/><stop offset="0.83" stop-color="#007fc3"/><stop offset="0.92" stop-color="#001aa2"/><stop offset="1" stop-color="#00007e"/></linearGradient>
<linearGradient id="gp159"><stop offset="0" stop-color="#0059b2"/><stop offset="0.08" stop-color="#008ecb"/><stop offset="0.17" stop-color="#00cce8"/><stop offset="0.25" stop-color="#0efff1"/><stop offset="0.33" stop-color="#43ffbd"/><stop offset="0.42" stop-color="#5dffa3"/><stop offset="0.5" stop-color="#72ff8e"/><stop offset="0.58" stop-color="#58ffa8"/><stop offset="0.67" stop-color="#34ffcc"/><stop offset="0.75" stop-color="#00d4eb"/><stop offset="0.83" stop-color="#0076be"/><stop offset="0.92" stop-color="#000d9e"/><stop offset="1" stop-color="#00006d"/></linearGradient>
<linearGradient id="gp160"><stop offset="0" stop-color="#0055b1"/><stop offset="0.08" stop-color="#008bca"/><stop offset="0.17" stop-color="#00cbe7"/><stop offset="0.25" stop-color="#0ffff1"/><stop offset="0.33" stop-color="#44ffbc"/><stop offset="0.42" stop-color="#5dffa3"/><stop offset="0.5" stop-color="#72ff8e"/><stop offset="0.58" stop-color="#58ffa8"/><stop offset="0.67" stop-color="#33ffcd"/><stop offset="0.75" stop-color="#00cee9"/><stop offset="0.83" stop-color="#0070bb"/><stop offset="0.92" stop-color="#00079c"/><stop offset="1" stop-color="#000066"/></linearGradient>
<linearGradient id="gp161"><stop offset="0" stop-color="#0051b0"/><stop offset="0.08" stop-color="#0089c8"/><stop offset="0.17" stop-color="#00cae7"/><stop offset="0.25" stop-color="#0ffff1"/><stop offset="0.33" stop-color="#44ffbc"/><stop offset="0.42" stop-color="#5dffa3"/><stop offset="0.5" stop-color="#72ff8e"/><stop offset="0.58" stop-color="#58ffa8"/><stop offset="0.67" stop-color="#32ffce"/><stop offset="0.75" stop-color="#00c9e6"/><stop offset="0.83" stop-color="#006bb9"/><stop offset="0.92" stop-color="#00029b"/><stop offset="1" stop-color="#000061"/></linearGradient>
<linearGradient id="gp162"><stop offset="0" stop-color="#004daf"/><stop offset="0.08" stop-color="#0086c7"/><stop offset="0.17" stop-color="#00c9e6"/><stop offset="0.25" stop-color="#0ffff1"/><stop offset="0.33" stop-color="#44ffbc"/><stop offset="0.42" stop-color="#5dffa3"/><stop offset="0.5" stop-color="#72ff8e"/><stop offset="0.58" stop-color="#58ffa8"/><stop offset="0.67" stop-color="#32ffce"/><stop offset="0.75" stop-color="#00c4e4"/><stop offset="0.83" stop-color="#0066b6"/><stop offset="0.92" stop-color="#000095"/><stop offset="1" stop-color="#00005c"/></linearGradient>
<linearGradient id="gp163"><stop offset="0" stop-color="#0049ae"/><stop offset="0.08" stop-color="#0083c5"/><stop offset="0.17" stop-color="#00c8e6"/><stop offset="0.25" stop-color="#0ffff1"/><stop offset="0.33" stop-color="#44ffbc"/><stop offset="0.42" stop-color="#5dffa3"/><stop offset="0.5" stop-color="#72ff8e"/><stop offset="0.58" stop-color="#58ffa8"/><stop offset="0.67" stop-color="#31ffcf"/><stop offset="0.75" stop-color="#00c0e2"/><stop offset="0.83" stop-color="#0061b4"/><stop offset="0.92" stop-color="#00008d"/><stop offset="1" stop-color="#000057"/></linearGradient>
<linearGradient id="gp164"><stop offset="0" stop-color="#0045ad"/><stop offset="0.08" stop-color="#0081c4"/><stop offset="0.17" stop-color="#00c7e5"/><stop offset="0.25" stop-color="#0ffff1"/><stop offset="0.33" stop-color="#44ffbc"/><stop offset="0.42" stop-color="#5dffa3"/><stop offset="0.5" stop-color="#72ff8e"/><stop offset="0.58" stop-color="#58ffa8"/><stop offset="0.67" stop-color="#30ffd0"/><stop offset="0.75" stop-color="#00bce0"/><stop offset="0.83" stop-color="#005bb2"/><stop offset="0.92" stop-color="#000086"/><stop offset="1" stop-color="#000053"/></linearGradient>
<linearGradient id="gp165"><stop offset="0" stop-color="#0045ad"/><stop offset="0.08" stop-color="#0081c4"/><stop offset="0.17" stop-color="#00c8e6"/><stop offset="0.25" stop-color="#0ffff0"/><stop offset="0.33" stop-color="#44ffbc"/><stop offset="0.42" stop-color="#5effa2"/><stop offset="0.5" stop-color="#73ff8d"/><stop offset="0.58" stop-color="#5affa6"/><stop offset="0.67" stop-color="#32ffcd"/><stop offset="0.75" stop-color="#00c1e2"/><stop offset="0.83" stop-color="#0061b4"/><stop offset="0.92" stop-color="#000090"/><stop offset="1" stop-color="#00005b"/></linearGradient>
<linearGradient id="gp166"><stop offset="0" stop-color="#0046ad"/><stop offset="0.08" stop-color="#0082c5"/><stop offset="0.17" stop-color="#00c9e6"/><stop offset="0.25" stop-color="#10ffef"/><stop offset="0.33" stop-color="#45ffbb"/><stop offset="0.42" stop-color="#5fffa1"/><stop offset="0.5" stop-color="#74ff8c"/><stop offset="0.58" stop-color="#5bffa5"/><stop offset="0.67" stop-color="#35ffcb"/><stop offset="0.75" stop-color="#00c7e6"/><stop offset="0.83" stop-color="#0068b7"/><stop offset="0.92" stop-color="#00029b"/><stop offset="1" stop-color="#000065"/></linearGradient>
<linearGradient id="gp167"><stop offset="0" stop-color="#0047ad"/><stop offset="0.08" stop-color="#0083c5"/><stop offset="0.17" stop-color="#00cae7"/><stop offset="0.25" stop-color="#11ffee"/><stop offset="0.33" stop-color="#46ffba"/><stop offset="0.42" stop-color="#60ffa0"/><stop offset="0.5" stop-color="#75ff8b"/><stop offset="0.58" stop-color="#5cffa4"/><stop offset="0.67" stop-color="#38ffc8"/><stop offset="0.75" stop-color="#00cfe9"/><stop offset="0.83" stop-color="#006fbb"/><stop offset="0.92" stop-color="#000a9d"/><stop offset="1" stop-color="#000070"/></linearGradient>
<linearGradient id="gp168"><stop offset="0" stop-color="#0048ae"/><stop offset="0.08" stop-color="#0084c6"/><stop offset="0.17" stop-color="#00cce7"/><stop offset="0.25" stop-color="#12ffed"/><stop offset="0.33" stop-color="#47ffb9"/><stop offset="0.42" stop-color="#61ff9f"/><stop offset="0.5" stop-color="#77ff89"/><stop offset="0.58" stop-color="#5effa2"/><stop offset="0.67" stop-color="#3bffc5"/><stop offset="0.75" stop-color="#00d6ec"/><stop offset="0.83" stop-color="#0076bf"/><stop offset="0.92" stop-color="#00139f"/><stop offset="1" stop-color="#00007a"/></linearGradient>
<linearGradient id="gp169"><stop offset="0" stop-color="#0049ae"/><stop offset="0.08" stop-color="#0085c6"/><stop offset="0.17" stop-color="#00cde8"/><stop offset="0.25" stop-color="#13ffec"/><stop offset="0.33" stop-color="#47ffb9"/><stop offset="0.42" stop-color="#62ff9e"/><stop offset="0.5" stop-color="#78ff88"/><stop offset="0.58" stop-color="#5fffa1"/><stop offset="0.67" stop-color="#3dffc3"/><stop offset="0.75" stop-color="#00def0"/><stop offset="0.83" stop-color="#007dc2"/><stop offset="0.92" stop-color="#001ba2"/><stop offset="1" stop-color="#000085"/></linearGradient>
<linearGradient id="gp170"><stop offset="0" stop-color="#0050b0"/><stop offset="0.08" stop-color="#0089c8"/><stop offset="0.17" stop-color="#00cfe9"/><stop offset="0.25" stop-color="#14ffeb"/><stop offset="0.33" stop-color="#48ffb8"/><stop offset="0.42" stop-color="#63ff9d"/><stop offset="0.5" stop-color="#79ff87"/><stop offset="0.58" stop-color="#60ffa0"/><stop offset="0.67" stop-color="#40ffc0"/><stop offset="0.75" stop-color="#00e9f5"/><stop offset="0.83" stop-color="#008ecb"/><stop offset="0.92" stop-color="#003cab"/><stop offset="1" stop-color="#0016a0"/></linearGradient>
<linearGradient id="gp171"><stop offset="0" stop-color="#0058b2"/><stop offset="0.08" stop-color="#008fcb"/><stop offset="0.17" stop-color="#00d2eb"/><stop offset="0.25" stop-color="#16ffea"/><stop offset="0.33" stop-color="#49ffb7"/><stop offset="0.42" stop-color="#64ff9c"/><stop offset="0.5" stop-color="#7aff86"/><stop offset="0.58" stop-color="#61ff9f"/><stop offset="0.67" stop-color="#42ffbe"/><stop offset="0.75" stop-color="#00f5fa"/><stop offset="0.83" stop-color="#00a2d4"/><stop offset="0.92" stop-color="#005db3"/><stop offset="1" stop-color="#003cab"/></linearGradient>
<linearGradient id="gp172"><stop offset="0" stop-color="#0060b3"/><stop offset="0.08" stop-color="#0095ce"/><stop offset="0.17" stop-color="#00d5ec"/><stop offset="0.25" stop-color="#17ffe9"/><stop offset="0.33" stop-color="#4affb6"/><stop offset="0.42" stop-color="#65ff9b"/><stop offset="0.5" stop-color="#7bff85"/><stop offset="0.58" stop-color="#62ff9e"/><stop offset="0.67" stop-color="#44ffbc"/><stop offset="0.75" stop-color="#02fffd"/><stop offset="0.83" stop-color="#00b6de"/><stop offset="0.92" stop-color="#007cc2"/><stop offset="1" stop-color="#005eb3"/></linearGradient>
<linearGradient id="gp173"><stop offset="0" stop-color="#0067b7"/><stop offset="0.08" stop-color="#009bd1"/><stop offset="0.17" stop-color="#00d8ed"/><stop offset="0.25" stop-color="#18ffe8"/><stop offset="0.33" stop-color="#4bffb5"/><stop offset="0.42" stop-color="#66ff9a"/><stop offset="0.5" stop-color="#7dff83"/><stop offset="0.58" stop-color="#63ff9d"/><stop offset="0.67" stop-color="#46ffba"/><stop offset="0.75" stop-color="#0bfff4"/><stop offset="0.83" stop-color="#00cce7"/><stop offset="0.92" stop-color="#009dd2"/><stop offset="1" stop-color="#007ec3"/></linearGradient>
<linearGradient id="gp174"><stop offset="0" stop-color="#006fbb"/><stop offset="0.08" stop-color="#00a1d4"/><stop offset="0.17" stop-color="#00dbef"/><stop offset="0.25" stop-color="#19ffe7"/><stop offset="0.33" stop-color="#4bffb5"/><stop offset="0.42" stop-color="#67ff99"/><stop offset="0.5" stop-color="#7eff82"/><stop offset="0.58" stop-color="#64ff9c"/><stop offset="0.67" stop-color="#48ffb8"/><stop offset="0.75" stop-color="#15ffea"/><stop offset="0.83" stop-color="#00e4f3"/><stop offset="0.92" stop-color="#00bfe2"/><stop offset="1" stop-color="#009fd3"/></linearGradient>
<linearGradient id="gp175"><stop offset="0" stop-color="#0072bd"/><stop offset="0.08" stop-color="#00a4d5"/><stop offset="0.17" stop-color="#00ddf0"/><stop offset="0.25" stop-color="#19ffe6"/><stop offset="0.33" stop-color="#4cffb4"/><stop offset="0.42" stop-color="#67ff99"/><stop offset="0.5" stop-color="#7eff82"/><stop offset="0.58" stop-color="#65ff9b"/><stop offset="0.67" stop-color="#48ffb8"/><stop offset="0.75" stop-color="#18ffe7"/><stop offset="0.83" stop-color="#00eaf5"/><stop offset="0.92" stop-color="#00c9e6"/><stop offset="1" stop-color="#00aad8"/></linearGradient>
<linearGradient id="gp176"><stop offset="0" stop-color="#0076be"/><stop offset="0.08" stop-color="#00a7d7"/><stop offset="0.17" stop-color="#00dff1"/><stop offset="0.25" stop-color="#1affe5"/><stop offset="0.33" stop-color="#4cffb4"/><stop offset="0.42" stop-color="#67ff99"/><stop offset="0.5" stop-color="#7fff81"/><stop offset="0.58" stop-color="#65ff9b"/><stop offset="0.67" stop-color="#49ffb7"/><stop offset="0.75" stop-color="#19ffe6"/><stop offset="0.83" stop-color="#00edf7"/><stop offset="0.92" stop-color="#00cee9"/><stop offset="1" stop-color="#00afda"/></linearGradient>
<linearGradient id="gp177"><stop offset="0" stop-color="#0079c0"/><stop offset="0.08" stop-color="#00aad8"/><stop offset="0.17" stop-color="#00e1f1"/><stop offset="0.25" stop-color="#1bffe4"/><stop offset="0.33" stop-color="#4dffb3"/><stop offset="0.42" stop-color="#68ff98"/><stop offset="0.5" stop-color="#7fff81"/><stop offset="0.58" stop-color="#66ff9a"/><stop offset="0.67" stop-color="#49ffb7"/><stop offset="0.75" stop-color="#1affe5"/><stop offset="0.83" stop-color="#00f0f8"/><stop offset="0.92" stop-color="#00d3eb"/><stop offset="1" stop-color="#00b5dd"/></linearGradient>
<linearGradient id="gp178"><stop offset="0" stop-color="#007cc2"/><stop offset="0.08" stop-color="#00aeda"/><stop offset="0.17" stop-color="#00e3f2"/><stop offset="0.25" stop-color="#1cffe3"/><stop offset="0.33" stop-color="#4dffb3"/><stop offset="0.42" stop-color="#68ff98"/><stop offset="0.5" stop-color="#80ff80"/><stop offset="0.58" stop-color="#66ff9a"/><stop offset="0.67" stop-color="#4affb6"/><stop offset="0.75" stop-color="#1cffe4"/><stop offset="0.83" stop-color="#00f2f9"/><stop offset="0.92" stop-color="#00d8ed"/><stop offset="1" stop-color="#00bbe0"/></linearGradient>
<linearGradient id="gp179"><stop offset="0" stop-color="#007fc3"/><stop offset="0.08" stop-color="#00b1db"/><stop offset="0.17" stop-color="#00e5f3"/><stop offset="0.25" stop-color="#1dffe3"/><stop offset="0.33" stop-color="#4effb2"/><stop offset="0.42" stop-color="#69ff97"/><stop offset="0.5" stop-color="#80ff80"/><stop offset="0.58" stop-color="#66ff9a"/><stop offset="0.67" stop-color="#4affb6"/><stop offset="0.75" stop-color="#1dffe3"/><stop offset="0.83" stop-color="#00f5fa"/><stop offset="0.92" stop-color="#00ddef"/><stop offset="1" stop-color="#00c0e2"/></linearGradient>
<linearGradient id="gp180"><stop offset="0" stop-color="#0083c5"/><stop offset="0.08" stop-color="#00b4dc"/><stop offset="0.17" stop-color="#00e7f4"/><stop offset="0.25" stop-color="#1effe2"/><stop offset="0.33" stop-color="#4effb2"/><stop offset="0.42" stop-color="#69ff97"/><stop offset="0.5" stop-color="#80ff80"/><stop offset="0.58" stop-color="#67ff99"/><stop offset="0.67" stop-color="#4bffb5"/><stop offset="0.75" stop-color="#1effe1"/><stop offset="0.83" stop-color="#00f8fc"/><stop offset="0.92" stop-color="#00e2f2"/><stop offset="1" stop-color="#00c7e5"/></linearGradient>
<linearGradient id="gp181"><stop offset="0" stop-color="#0086c7"/><stop offset="0.08" stop-color="#00b7de"/><stop offset="0.17" stop-color="#00e9f5"/><stop offset="0.25" stop-color="#1fffe1"/><stop offset="0.33" stop-color="#4fffb1"/><stop offset="0.42" stop-color="#69ff97"/><stop offset="0.5" stop-color="#81ff7f"/><stop offset="0.58" stop-color="#67ff99"/><stop offset="0.67" stop-color="#4bffb5"/><stop offset="0.75" stop-color="#1fffe0"/><stop offset="0.83" stop-color="#00fbfd"/><stop offset="0.92" stop-color="#00e7f4"/><stop offset="1" stop-color="#00cde8"/></linearGradient>
<linearGradient id="gp182"><stop offset="0" stop-color="#0089c8"/><stop offset="0.08" stop-color="#00badf"/><stop offset="0.17" stop-color="#00ebf6"/><stop offset="0.25" stop-color="#1fffe0"/><stop offset="0.33" stop-color="#4fffb1"/><stop offset="0.42" stop-color="#6aff96"/><stop offset="0.5" stop-color="#81ff7f"/><stop offset="0.58" stop-color="#68ff98"/><stop offset="0.67" stop-color="#4cffb4"/><stop offset="0.75" stop-color="#20ffdf"/><stop offset="0.83" stop-color="#00fdfe"/><stop offset="0.92" stop-color="#00ecf6"/><stop offset="1" stop-color="#00d4eb"/></linearGradient>
<linearGradient id="gp183"><stop offset="0" stop-color="#008cca"/><stop offset="0.08" stop-color="#00bde1"/><stop offset="0.17" stop-color="#00edf7"/><stop offset="0.25" stop-color="#20ffdf"/><stop offset="0.33" stop-color="#4fffb1"/><stop offset="0.42" stop-color="#6aff96"/><stop offset="0.5" stop-color="#82ff7e"/><stop offset="0.58" stop-color="#68ff98"/><stop offset="0.67" stop-color="#4cffb4"/><stop offset="0.75" stop-color="#22ffde"/><stop offset="0.83" stop-color="#01fffe"/><stop offset="0.92" stop-color="#00f1f8"/><stop offset="1" stop-color="#00dbef"/></linearGradient>
<linearGradient id="gp184"><stop offset="0" stop-color="#008fcc"/><stop offset="0.08" stop-color="#00c0e2"/><stop offset="0.17" stop-color="#00eff8"/><stop offset="0.25" stop-color="#21ffde"/><stop offset="0.33" stop-color="#50ffb0"/><stop offset="0.42" stop-color="#6bff95"/><stop offset="0.5" stop-color="#82ff7e"/><stop offset="0.58" stop-color="#68ff98"/><stop offset="0.67" stop-color="#4dffb3"/><stop offset="0.75" stop-color="#23ffdd"/><stop offset="0.83" stop-color="#03fffc"/><stop offset="0.92" stop-color="#00f5fb"/><stop offset="1" stop-color="#00e2f2"/></linearGradient>
<linearGradient id="gp185"><stop offset="0" stop-color="#0090cc"/><stop offset="0.08" stop-color="#00c0e2"/><stop offset="0.17" stop-color="#00eff8"/><stop offset="0.25" stop-color="#21ffde"/><stop offset="0.33" stop-color="#50ffb0"/><stop offset="0.42" stop-color="#6bff95"/><stop offset="0.5" stop-color="#82ff7e"/><stop offset="0.58" stop-color="#68ff98"/><stop offset="0.67" stop-color="#4dffb3"/><stop offset="0.75" stop-color="#23ffdd"/><stop offset="0.83" stop-color="#03fffc"/><stop offset="0.92" stop-color="#00f6fb"/><stop offset="1" stop-color="#00e3f2"/></linearGradient>
<linearGradient id="gp20"><stop offset="0" stop-color="#0044ad"/><stop offset="0.08" stop-color="#0077bf"/><stop offset="0.17" stop-color="#00c3e4"/><stop offset="0.25" stop-color="#01fffe"/><stop offset="0.33" stop-color="#20ffdf"/><stop offset="0.42" stop-color="#2dffd2"/><stop offset="0.5" stop-color="#36ffca"/><stop offset="0.58" stop-color="#2dffd2"/><stop offset="0.67" stop-color="#20ffe0"/><stop offset="0.75" stop-color="#00fcfe"/><stop offset="0.83" stop-color="#00bde1"/><stop offset="0.92" stop-color="#006eba"/><stop offset="1" stop-color="#003aaa"/></linearGradient>
<linearGradient id="gp21"><stop offset="0" stop-color="#0044ad"/><stop offset="0.08" stop-color="#0077bf"/><stop offset="0.17" stop-color="#00c3e4"/><stop offset="0.25" stop-color="#01fffe"/><stop offset="0.33" stop-color="#20ffdf"/><stop offset="0.42" stop-color="#2dffd2"/><stop offset="0.5" stop-color="#36ffca"/><stop offset="0.58" stop-color="#2dffd2"/><stop offset="0.67" stop-color="#20ffe0"/><stop offset="0.75" stop-color="#00fcfe"/><stop offset="0.83" stop-color="#00bde1"/><stop offset="0.92" stop-color="#006eba"/><stop offset="1" stop-color="#0039aa"/></linearGradient>
<linearGradient id="gp22"><stop offset="0" stop-color="#0042ac"/><stop offset="0.08" stop-color="#0077bf"/><stop offset="0.17" stop-color="#00c3e4"/><stop offset="0.25" stop-color="#01fffe"/><stop offset="0.33" stop-color="#21ffdf"/><stop offset="0.42" stop-color="#2effd2"/><stop offset="0.5" stop-color="#36ffc9"/><stop offset="0.58" stop-color="#2effd2"/><stop offset="0.67" stop-color="#20ffdf"/><stop offset="0.75" stop-color="#00fcfe"/><stop offset="0.83" stop-color="#00bce0"/><stop offset="0.92" stop-color="#006cb9"/><stop offset="1" stop-color="#0037aa"/></linearGradient>
<linearGradient id="gp23"><stop offset="0" stop-color="#0040ac"/><stop offset="0.08" stop-color="#0076bf"/><stop offset="0.17" stop-color="#00c3e4"/><stop offset="0.25" stop-color="#01fffe"/><stop offset="0.33" stop-color="#21ffde"/><stop offset="0.42" stop-color="#2effd1"/><stop offset="0.5" stop-color="#37ffc9"/><stop offset="0.58" stop-color="#2effd1"/><stop offset="0.67" stop-color="#21ffdf"/><stop offset="0.75" stop-color="#00fcfe"/><stop offset="0.83" stop-color="#00bce0"/><stop offset="0.92" stop-color="#006bb9"/><stop offset="1" stop-color="#0034a9"/></linearGradient>
<linearGradient id="gp24"><stop offset="0" stop-color="#003fac"/><stop offset="0.08" stop-color="#0076be"/><stop offset="0.17" stop-color="#00c3e4"/><stop offset="0.25" stop-color="#01fffe"/><stop offset="0.33" stop-color="#22ffde"/><stop offset="0.42" stop-color="#2fffd1"/><stop offset="0.5" stop-color="#38ffc8"/><stop offset="0.58" stop-color="#2fffd1"/><stop offset="0.67" stop-color="#21ffde"/><stop offset="0.75" stop-color="#00fdfe"/><stop offset="0.83" stop-color="#00bbe0"/><stop offset="0.92" stop-color="#006ab8"/><stop offset="1" stop-color="#0031a8"/></linearGradient>
<linearGradient id="gp25"><stop offset="0" stop-color="#003dab"/><stop offset="0.08" stop-color="#0075be"/><stop offset="0.17" stop-color="#00c3e3"/><stop offset="0.25" stop-color="#02fffd"/><stop offset="0.33" stop-color="#22ffdd"/><stop offset="0.42" stop-color="#30ffd0"/><stop offset="0.5" stop-color="#38ffc8"/><stop offset="0.58" stop-color="#30ffd0"/><stop offset="0.67" stop-color="#22ffde"/><stop offset="0.75" stop-color="#00fdfe"/><stop offset="0.83" stop-color="#00bbe0"/><stop offset="0.92" stop-color="#0068b7"/><stop offset="1" stop-color="#002fa8"/></linearGradient>
<linearGradient id="gp26"><stop offset="0" stop-color="#003cab"/><stop offset="0.08" stop-color="#0075be"/><stop offset="0.17" stop-color="#00c3e3"/><stop offset="0.25" stop-color="#02fffd"/><stop offset="0.33" stop-color="#23ffdd"/><stop offset="0.42" stop-color="#30ffd0"/><stop offset="0.5" stop-color="#39ffc7"/><stop offset="0.58" stop-color="#30ffd0"/><stop offset="0.67" stop-color="#22ffdd"/><stop offset="0.75" stop-color="#00fdfe"/><stop offset="0.83" stop-color="#00bae0"/><stop offset="0.92" stop-color="#0067b6"/><stop offset="1" stop-color="#002ba7"/></linearGradient>
<linearGradient id="gp27"><stop offset="0" stop-color="#003aaa"/><stop offset="0.08" stop-color="#0074be"/><stop offset="0.17" stop-color="#00c2e3"/><stop offset="0.25" stop-color="#02fffd"/><stop offset="0.33" stop-color="#23ffdc"/><stop offset="0.42" stop-color="#31ffcf"/><stop offset="0.5" stop-color="#39ffc7"/><stop offset="0.58" stop-color="#31ffcf"/><stop offset="0.67" stop-color="#23ffdd"/><stop offset="0.75" stop-color="#00fdfe"/><stop offset="0.83" stop-color="#00badf"/><stop offset="0.92" stop-color="#0065b6"/><stop offset="1" stop-color="#0028a6"/></linearGradient>
<linearGradient id="gp28"><stop offset="0" stop-color="#0038aa"/><stop offset="0.08" stop-color="#0074bd"/><stop offset="0.17" stop-color="#00c2e3"/><stop offset="0.25" stop-color="#02fffd"/><stop offset="0.33" stop-color="#24ffdc"/><stop offset="0.42" stop-color="#31ffcf"/><stop offset="0.5" stop-color="#3affc6"/><stop offset="0.58" stop-color="#31ffcf"/><stop offset="0.67" stop-color="#23ffdc"/><stop offset="0.75" stop-color="#00fdfe"/><stop offset="0.83" stop-color="#00b9df"/><stop offset="0.92" stop-color="#0064b5"/><stop offset="1" stop-color="#0025a5"/></linearGradient>
<linearGradient id="gp29"><stop offset="0" stop-color="#0037aa"/><stop offset="0.08" stop-color="#0073bd"/><stop offset="0.17" stop-color="#00c2e3"/><stop offset="0.25" stop-color="#02fffd"/><stop offset="0.33" stop-color="#24ffdb"/><stop offset="0.42" stop-color="#32ffce"/><stop offset="0.5" stop-color="#3affc6"/><stop offset="0.58" stop-color="#32ffce"/><stop offset="0.67" stop-color="#24ffdc"/><stop offset="0.75" stop-color="#00fefe"/><stop offset="0.83" stop-color="#00b9df"/><stop offset="0.92" stop-color="#0062b4"/><stop offset="1" stop-color="#0022a4"/></linearGradient>
<linearGradient id="gp210"><stop offset="0" stop-color="#0035a9"/><stop offset="0.08" stop-color="#0073bd"/><stop offset="0.17" stop-color="#00c2e3"/><stop offset="0.25" stop-color="#03fffd"/><stop offset="0.33" stop-color="#25ffdb"/><stop offset="0.42" stop-color="#32ffce"/><stop offset="0.5" stop-color="#3bffc5"/><stop offset="0.58" stop-color="#32ffce"/><stop offset="0.67" stop-color="#24ffdc"/><stop offset="0.75" stop-color="#00feff"/><stop offset="0.83" stop-color="#00b9df"/><stop offset="0.92" stop-color="#0061b4"/><stop offset="1" stop-color="#001ea3"/></linearGradient>
<linearGradient id="gp211"><stop offset="0" stop-color="#0035a9"/><stop offset="0.08" stop-color="#0073bd"/><stop offset="0.17" stop-color="#00c2e3"/><stop offset="0.25" stop-color="#03fffc"/><stop offset="0.33" stop-color="#25ffda"/><stop offset="0.42" stop-color="#33ffcd"/><stop offset="0.5" stop-color="#3bffc5"/><stop offset="0.58" stop-color="#33ffcd"/><stop offset="0.67" stop-color="#25ffdb"/><stop offset="0.75" stop-color="#00feff"/><stop offset="0.83" stop-color="#00b8df"/><stop offset="0.92" stop-color="#0061b4"/><stop offset="1" stop-color="#001fa3"/></linearGradient>
<linearGradient id="gp212"><stop offset="0" stop-color="#0034a9"/><stop offset="0.08" stop-color="#0073bd"/><stop offset="0.17" stop-color="#00c2e3"/><stop offset="0.25" stop-color="#03fffc"/><stop offset="0.33" stop-color="#26ffda"/><stop offset="0.42" stop-color="#33ffcc"/><stop offset="0.5" stop-color="#3cffc4"/><stop offset="0.58" stop-color="#33ffcc"/><stop offset="0.67" stop-color="#25ffdb"/><stop offset="0.75" stop-color="#00feff"/><stop offset="0.83" stop-color="#00b8df"/><stop offset="0.92" stop-color="#0061b4"/><stop offset="1" stop-color="#001fa3"/></linearGradient>
<linearGradient id="gp213"><stop offset="0" stop-color="#0034a9"/><stop offset="0.08" stop-color="#0073bd"/><stop offset="0.17" stop-color="#00c2e3"/><stop offset="0.25" stop-color="#03fffc"/><stop offset="0.33" stop-color="#26ffda"/><stop offset="0.42" stop-color="#34ffcc"/><stop offset="0.5" stop-color="#3cffc4"/><stop offset="0.58" stop-color="#34ffcc"/><stop offset="0.67" stop-color="#25ffda"/><stop offset="0.75" stop-color="#00ffff"/><stop offset="0.83" stop-color="#00b8df"/><stop offset="0.92" stop-color="#0061b4"/><stop offset="1" stop-color="#0020a3"/></linearGradient>
<linearGradient id="gp214"><stop offset="0" stop-color="#0033a9"/><stop offset="0.08" stop-color="#0073bd"/><stop offset="0.17" stop-color="#00c2e3"/><stop offset="0.25" stop-color="#03fffc"/><stop offset="0.33" stop-color="#26ffd9"/><stop offset="0.42" stop-color="#34ffcb"/><stop offset="0.5" stop-color="#3dffc3"/><stop offset="0.58" stop-color="#34ffcb"/><stop offset="0.67" stop-color="#26ffda"/><stop offset="0.75" stop-color="#00ffff"/><stop offset="0.83" stop-color="#00b8df"/><stop offset="0.92" stop-color="#0061b4"/><stop offset="1" stop-color="#0020a3"/></linearGradient>
<linearGradient id="gp215"><stop offset="0" stop-color="#0033a9"/><stop offset="0.08" stop-color="#0073bd"/><stop offset="0.17" stop-color="#00c2e3"/><stop offset="0.25" stop-color="#03fffc"/><stop offset="0.33" stop-color="#27ffd9"/><stop offset="0.42" stop-color="#35ffcb"/><stop offset="0.5" stop-color="#3dffc3"/><stop offset="0.58" stop-color="#35ffcb"/><stop offset="0.67" stop-color="#26ffd9"/><stop offset="0.75" stop-color="#00ffff"/><stop offset="0.83" stop-color="#00b8df"/><stop offset="0.92" stop-color="#0061b4"/><stop offset="1" stop-color="#0021a4"/></linearGradient>
<linearGradient id="gp216"><stop offset="0" stop-color="#0032a8"/><stop offset="0.08" stop-color="#0073bd"/><stop offset="0.17" stop-color="#00c2e3"/><stop offset="0.25" stop-color="#04fffb"/><stop offset="0.33" stop-color="#27ffd8"/><stop offset="0.42" stop-color="#35ffca"/><stop offset="0.5" stop-color="#3effc2"/><stop offset="0.58" stop-color="#35ffca"/><stop offset="0.67" stop-color="#27ffd9"/><stop offset="0.75" stop-color="#00ffff"/><stop offset="0.83" stop-color="#00b8df"/><stop offset="0.92" stop-color="#0061b4"/><stop offset="1" stop-color="#0022a4"/></linearGradient>
<linearGradient id="gp217"><stop offset="0" stop-color="#0032a8"/><stop offset="0.08" stop-color="#0073bd"/><stop offset="0.17" stop-color="#00c2e3"/><stop offset="0.25" stop-color="#04fffb"/><stop offset="0.33" stop-color="#28ffd8"/><stop offset="0.42" stop-color="#36ffca"/><stop offset="0.5" stop-color="#3effc2"/><stop offset="0.58" stop-color="#36ffca"/><stop offset="0.67" stop-color="#27ffd8"/><stop offset="0.75" stop-color="#00ffff"/><stop offset="0.83" stop-color="#00b8df"/><stop offset="0.92" stop-color="#0061b4"/><stop offset="1" stop-color="#0022a4"/></linearGradient>
<linearGradient id="gp218"><stop offset="0" stop-color="#0031a8"/><stop offset="0.08" stop-color="#0073bd"/><stop offset="0.17" stop-color="#00c2e3"/><stop offset="0.25" stop-color="#04fffb"/><stop offset="0.33" stop-color="#28ffd7"/><stop offset="0.42" stop-color="#36ffc9"/><stop offset="0.5" stop-color="#3fffc1"/><stop offset="0.58" stop-color="#36ffc9"/><stop offset="0.67" stop-color="#28ffd8"/><stop offset="0.75" stop-color="#00ffff"/><stop offset="0.83" stop-color="#00b8df"/><stop offset="0.92" stop-color="#0061b4"/><stop offset="1" stop-color="#0023a4"/></linearGradient>
<linearGradient id="gp219"><stop offset="0" stop-color="#0031a8"/><stop offset="0.08" stop-color="#0073bd"/><stop offset="0.17" stop-color="#00c2e3"/><stop offset="0.25" stop-color="#04fffb"/><stop offset="0.33" stop-color="#29ffd7"/><stop offset="0.42" stop-color="#37ffc9"/><stop offset="0.5" stop-color="#3fffc1"/><stop offset="0.58" stop-color="#37ffc9"/><stop offset="0.67" stop-color="#28ffd7"/><stop offset="0.75" stop-color="#01fffe"/><stop offset="0.83" stop-color="#00b8df"/><stop offset="0.92" stop-color="#0061b4"/><stop offset="1" stop-color="#0023a4"/></linearGradient>
<linearGradient id="gp220"><stop offset="0" stop-color="#0030a8"/><stop offset="0.08" stop-color="#0073bd"/><stop offset="0.17" stop-color="#00c2e3"/><stop offset="0.25" stop-color="#04fffb"/><stop offset="0.33" stop-color="#29ffd6"/><stop offset="0.42" stop-color="#37ffc8"/><stop offset="0.5" stop-color="#40ffc0"/><stop offset="0.58" stop-color="#37ffc8"/><stop offset="0.67" stop-color="#29ffd7"/><stop offset="0.75" stop-color="#01fffe"/><stop offset="0.83" stop-color="#00b8df"/><stop offset="0.92" stop-color="#0061b4"/><stop offset="1" stop-color="#0024a4"/></linearGradient>
<linearGradient id="gp221"><stop offset="0" stop-color="#0030a8"/><stop offset="0.08" stop-color="#0073bd"/><stop offset="0.17" stop-color="#00c2e3"/><stop offset="0.25" stop-color="#05fffb"/><stop offset="0.33" stop-color="#2affd6"/><stop offset="0.42" stop-color="#38ffc8"/><stop offset="0.5" stop-color="#41ffbf"/><stop offset="0.58" stop-color="#38ffc8"/><stop offset="0.67" stop-color="#2affd6"/><stop offset="0.75" stop-color="#01fffe"/><stop offset="0.83" stop-color="#00b9df"/><stop offset="0.92" stop-color="#0061b4"/><stop offset="1" stop-color="#0026a5"/></linearGradient>
<linearGradient id="gp222"><stop offset="0" stop-color="#0031a8"/><stop offset="0.08" stop-color="#0074bd"/><stop offset="0.17" stop-color="#00c2e3"/><stop offset="0.25" stop-color="#05fffa"/><stop offset="0.33" stop-color="#2bffd5"/><stop offset="0.42" stop-color="#39ffc7"/><stop offset="0.5" stop-color="#41ffbf"/><stop offset="0.58" stop-color="#39ffc7"/><stop offset="0.67" stop-color="#2affd5"/><stop offset="0.75" stop-color="#02fffd"/><stop offset="0.83" stop-color="#00badf"/><stop offset="0.92" stop-color="#0062b4"/><stop offset="1" stop-color="#0028a6"/></linearGradient>
<linearGradient id="gp223"><stop offset="0" stop-color="#0031a8"/><stop offset="0.08" stop-color="#0074bd"/><stop offset="0.17" stop-color="#00c2e3"/><stop offset="0.25" stop-color="#05fffa"/><stop offset="0.33" stop-color="#2cffd4"/><stop offset="0.42" stop-color="#3affc6"/><stop offset="0.5" stop-color="#42ffbe"/><stop offset="0.58" stop-color="#3affc6"/><stop offset="0.67" stop-color="#2bffd4"/><stop offset="0.75" stop-color="#03fffc"/><stop offset="0.83" stop-color="#00bae0"/><stop offset="0.92" stop-color="#0063b5"/><stop offset="1" stop-color="#002ba7"/></linearGradient>
<linearGradient id="gp224"><stop offset="0" stop-color="#0032a8"/><stop offset="0.08" stop-color="#0074be"/><stop offset="0.17" stop-color="#00c3e3"/><stop offset="0.25" stop-color="#06fffa"/><stop offset="0.33" stop-color="#2dffd3"/><stop offset="0.42" stop-color="#3bffc5"/><stop offset="0.5" stop-color="#43ffbd"/><stop offset="0.58" stop-color="#3bffc5"/><stop offset="0.67" stop-color="#2cffd3"/><stop offset="0.75" stop-color="#03fffc"/><stop offset="0.83" stop-color="#00bbe0"/><stop offset="0.92" stop-color="#0064b5"/><stop offset="1" stop-color="#002da7"/></linearGradient>
<linearGradient id="gp225"><stop offset="0" stop-color="#0032a9"/><stop offset="0.08" stop-color="#0075be"/><stop offset="0.17" stop-color="#00c3e3"/><stop offset="0.25" stop-color="#06fff9"/><stop offset="0.33" stop-color="#2effd2"/><stop offset="0.42" stop-color="#3cffc3"/><stop offset="0.5" stop-color="#44ffbc"/><stop offset="0.58" stop-color="#3cffc3"/><stop offset="0.67" stop-color="#2dffd2"/><stop offset="0.75" stop-color="#04fffb"/><stop offset="0.83" stop-color="#00bce0"/><stop offset="0.92" stop-color="#0065b6"/><stop offset="1" stop-color="#0030a8"/></linearGradient>
<linearGradient id="gp226"><stop offset="0" stop-color="#0033a9"/><stop offset="0.08" stop-color="#0075be"/><stop offset="0.17" stop-color="#00c3e3"/><stop offset="0.25" stop-color="#06fff9"/><stop offset="0.33" stop-color="#2fffd1"/><stop offset="0.42" stop-color="#3dffc2"/><stop offset="0.5" stop-color="#45ffbb"/><stop offset="0.58" stop-color="#3dffc2"/><stop offset="0.67" stop-color="#2effd1"/><stop offset="0.75" stop-color="#05fffa"/><stop offset="0.83" stop-color="#00bce0"/><stop offset="0.92" stop-color="#0066b6"/><stop offset="1" stop-color="#0032a8"/></linearGradient>
<linearGradient id="gp227"><stop offset="0" stop-color="#0033a9"/><stop offset="0.08" stop-color="#0076be"/><stop offset="0.17" stop-color="#00c3e4"/><stop offset="0.25" stop-color="#07fff8"/><stop offset="0.33" stop-color="#2fffd0"/><stop offset="0.42" stop-color="#3effc1"/><stop offset="0.5" stop-color="#45ffbb"/><stop offset="0.58" stop-color="#3effc1"/><stop offset="0.67" stop-color="#2fffd0"/><stop offset="0.75" stop-color="#06fffa"/><stop offset="0.83" stop-color="#00bde1"/><stop offset="0.92" stop-color="#0067b7"/><stop offset="1" stop-color="#0034a9"/></linearGradient>
<linearGradient id="gp228"><stop offset="0" stop-color="#0034a9"/><stop offset="0.08" stop-color="#0076bf"/><stop offset="0.17" stop-color="#00c3e4"/><stop offset="0.25" stop-color="#07fff8"/><stop offset="0.33" stop-color="#30ffcf"/><stop offset="0.42" stop-color="#40ffc0"/><stop offset="0.5" stop-color="#46ffba"/><stop offset="0.58" stop-color="#40ffc0"/><stop offset="0.67" stop-color="#30ffcf"/><stop offset="0.75" stop-color="#06fff9"/><stop offset="0.83" stop-color="#00bee1"/><stop offset="0.92" stop-color="#0068b7"/><stop offset="1" stop-color="#0036a9"/></linearGradient>
<linearGradient id="gp229"><stop offset="0" stop-color="#0034a9"/><stop offset="0.08" stop-color="#0077bf"/><stop offset="0.17" stop-color="#00c3e4"/><stop offset="0.25" stop-color="#07fff8"/><stop offset="0.33" stop-color="#31ffce"/><stop offset="0.42" stop-color="#40ffc0"/><stop offset="0.5" stop-color="#47ffb9"/><stop offset="0.58" stop-color="#40ffc0"/><stop offset="0.67" stop-color="#31ffcf"/><stop offset="0.75" stop-color="#07fff8"/><stop offset="0.83" stop-color="#00bee1"/><stop offset="0.92" stop-color="#0069b8"/><stop offset="1" stop-color="#0038aa"/></linearGradient>
<linearGradient id="gp230"><stop offset="0" stop-color="#0035a9"/><stop offset="0.08" stop-color="#0077bf"/><stop offset="0.17" stop-color="#00c3e4"/><stop offset="0.25" stop-color="#08fff7"/><stop offset="0.33" stop-color="#32ffce"/><stop offset="0.42" stop-color="#41ffbf"/><stop offset="0.5" stop-color="#48ffb8"/><stop offset="0.58" stop-color="#41ffbf"/><stop offset="0.67" stop-color="#32ffce"/><stop offset="0.75" stop-color="#08fff8"/><stop offset="0.83" stop-color="#00bfe2"/><stop offset="0.92" stop-color="#006ab8"/><stop offset="1" stop-color="#003aaa"/></linearGradient>
<linearGradient id="gp231"><stop offset="0" stop-color="#0035a9"/><stop offset="0.08" stop-color="#0077bf"/><stop offset="0.17" stop-color="#00c3e4"/><stop offset="0.25" stop-color="#08fff7"/><stop offset="0.33" stop-color="#33ffcd"/><stop offset="0.42" stop-color="#42ffbe"/><stop offset="0.5" stop-color="#49ffb7"/><stop offset="0.58" stop-color="#42ffbe"/><stop offset="0.67" stop-color="#33ffcd"/><stop offset="0.75" stop-color="#08fff7"/><stop offset="0.83" stop-color="#00bfe2"/><stop offset="0.92" stop-color="#006ab8"/><stop offset="1" stop-color="#003bab"/></linearGradient>
<linearGradient id="gp232"><stop offset="0" stop-color="#0035a9"/><stop offset="0.08" stop-color="#0077bf"/><stop offset="0.17" stop-color="#00c3e4"/><stop offset="0.25" stop-color="#08fff7"/><stop offset="0.33" stop-color="#34ffcc"/><stop offset="0.42" stop-color="#43ffbd"/><stop offset="0.5" stop-color="#49ffb7"/><stop offset="0.58" stop-color="#43ffbd"/><stop offset="0.67" stop-color="#34ffcc"/><stop offset="0.75" stop-color="#08fff7"/><stop offset="0.83" stop-color="#00bfe2"/><stop offset="0.92" stop-color="#006bb9"/><stop offset="1" stop-color="#003cab"/></linearGradient>
<linearGradient id="gp233"><stop offset="0" stop-color="#0035a9"/><stop offset="0.08" stop-color="#0077bf"/><stop offset="0.17" stop-color="#00c3e4"/><stop offset="0.25" stop-color="#09fff6"/><stop offset="0.33" stop-color="#35ffcb"/><stop offset="0.42" stop-color="#44ffbc"/><stop offset="0.5" stop-color="#4affb6"/><stop offset="0.58" stop-color="#44ffbc"/><stop offset="0.67" stop-color="#35ffcb"/><stop offset="0.75" stop-color="#09fff6"/><stop offset="0.83" stop-color="#00c0e2"/><stop offset="0.92" stop-color="#006bb9"/><stop offset="1" stop-color="#003dab"/></linearGradient>
<linearGradient id="gp234"><stop offset="0" stop-color="#0035a9"/><stop offset="0.08" stop-color="#0077bf"/><stop offset="0.17" stop-color="#00c3e4"/><stop offset="0.25" stop-color="#09fff6"/><stop offset="0.33" stop-color="#36ffca"/><stop offset="0.42" stop-color="#44ffbc"/><stop offset="0.5" stop-color="#4bffb5"/><stop offset="0.58" stop-color="#44ffbc"/><stop offset="0.67" stop-color="#36ffca"/><stop offset="0.75" stop-color="#09fff6"/><stop offset="0.83" stop-color="#00c0e2"/><stop offset="0.92" stop-color="#006cb9"/><stop offset="1" stop-color="#003eab"/></linearGradient>
<linearGradient id="gp235"><stop offset="0" stop-color="#0035a9"/><stop offset="0.08" stop-color="#0077bf"/><stop offset="0.17" stop-color="#00c3e4"/><stop offset="0.25" stop-color="#09fff6"/><stop offset="0.33" stop-color="#37ffc9"/><stop offset="0.42" stop-color="#45ffbb"/><stop offset="0.5" stop-color="#4cffb4"/><stop offset="0.58" stop-color="#45ffbb"/><stop offset="0.67" stop-color="#37ffc9"/><stop offset="0.75" stop-color="#09fff6"/><stop offset="0.83" stop-color="#00c0e2"/><stop offset="0.92" stop-color="#006cb9"/><stop offset="1" stop-color="#003fac"/></linearGradient>
<linearGradient id="gp236"><stop offset="0" stop-color="#0035a9"/><stop offset="0.08" stop-color="#0077bf"/><stop offset="0.17" stop-color="#00c3e4"/><stop offset="0.25" stop-color="#0afff5"/><stop offset="0.33" stop-color="#38ffc8"/><stop offset="0.42" stop-color="#46ffba"/><stop offset="0.5" stop-color="#4dffb3"/><stop offset="0.58" stop-color="#46ffba"/><stop offset="0.67" stop-color="#38ffc8"/><stop offset="0.75" stop-color="#0afff5"/><stop offset="0.83" stop-color="#00c0e2"/><stop offset="0.92" stop-color="#006cb9"/><stop offset="1" stop-color="#0040ac"/></linearGradient>
<linearGradient id="gp237"><stop offset="0" stop-color="#0035a9"/><stop offset="0.08" stop-color="#0077bf"/><stop offset="0.17" stop-color="#00c3e4"/><stop offset="0.25" stop-color="#0afff5"/><stop offset="0.33" stop-color="#39ffc7"/><stop offset="0.42" stop-color="#47ffb9"/><stop offset="0.5" stop-color="#4dffb3"/><stop offset="0.58" stop-color="#47ffb9"/><stop offset="0.67" stop-color="#39ffc7"/><stop offset="0.75" stop-color="#0afff5"/><stop offset="0.83" stop-color="#00c0e2"/><stop offset="0.92" stop-color="#006dba"/><stop offset="1" stop-color="#0041ac"/></linearGradient>
<linearGradient id="gp238"><stop offset="0" stop-color="#0035a9"/><stop offset="0.08" stop-color="#0077bf"/><stop offset="0.17" stop-color="#00c3e4"/><stop offset="0.25" stop-color="#0afff5"/><stop offset="0.33" stop-color="#3affc6"/><stop offset="0.42" stop-color="#48ffb8"/><stop offset="0.5" stop-color="#4effb2"/><stop offset="0.58" stop-color="#48ffb8"/><stop offset="0.67" stop-color="#3affc6"/><stop offset="0.75" stop-color="#0afff5"/><stop offset="0.83" stop-color="#00c0e2"/><stop offset="0.92" stop-color="#006dba"/><stop offset="1" stop-color="#0042ac"/></linearGradient>
<linearGradient id="gp239"><stop offset="0" stop-color="#0035a9"/><stop offset="0.08" stop-color="#0077bf"/><stop offset="0.17" stop-color="#00c3e4"/><stop offset="0.25" stop-color="#0bfff4"/><stop offset="0.33" stop-color="#3affc5"/><stop offset="0.42" stop-color="#48ffb8"/><stop offset="0.5" stop-color="#4fffb1"/><stop offset="0.58" stop-color="#48ffb8"/><stop offset="0.67" stop-color="#3affc5"/><stop offset="0.75" stop-color="#0bfff4"/><stop offset="0.83" stop-color="#00c0e2"/><stop offset="0.92" stop-color="#006eba"/><stop offset="1" stop-color="#0043ad"/></linearGradient>
<linearGradient id="gp240"><stop offset="0" stop-color="#0035a9"/><stop offset="0.08" stop-color="#0077bf"/><stop offset="0.17" stop-color="#00c3e4"/><stop offset="0.25" stop-color="#0bfff4"/><stop offset="0.33" stop-color="#3bffc5"/><stop offset="0.42" stop-color="#49ffb7"/><stop offset="0.5" stop-color="#50ffb0"/><stop offset="0.58" stop-color="#49ffb7"/><stop offset="0.67" stop-color="#3bffc5"/><stop offset="0.75" stop-color="#0bfff4"/><stop offset="0.83" stop-color="#00c1e2"/><stop offset="0.92" stop-color="#006eba"/><stop offset="1" stop-color="#0044ad"/></linearGradient>
<linearGradient id="gp241"><stop offset="0" stop-color="#0035a9"/><stop offset="0.08" stop-color="#0078bf"/><stop offset="0.17" stop-color="#00c4e4"/><stop offset="0.25" stop-color="#0bfff4"/><stop offset="0.33" stop-color="#3cffc4"/><stop offset="0.42" stop-color="#4affb6"/><stop offset="0.5" stop-color="#51ffaf"/><stop offset="0.58" stop-color="#4affb6"/><stop offset="0.67" stop-color="#3cffc4"/><stop offset="0.75" stop-color="#0bfff4"/><stop offset="0.83" stop-color="#00c1e2"/><stop offset="0.92" stop-color="#006fbb"/><stop offset="1" stop-color="#0044ad"/></linearGradient>
<linearGradient id="gp242"><stop offset="0" stop-color="#0036a9"/><stop offset="0.08" stop-color="#0078c0"/><stop offset="0.17" stop-color="#00c4e4"/><stop offset="0.25" stop-color="#0cfff3"/><stop offset="0.33" stop-color="#3dffc3"/><stop offset="0.42" stop-color="#4bffb5"/><stop offset="0.5" stop-color="#52ffae"/><stop offset="0.58" stop-color="#4bffb5"/><stop offset="0.67" stop-color="#3dffc3"/><stop offset="0.75" stop-color="#0cfff3"/><stop offset="0.83" stop-color="#00c1e3"/><stop offset="0.92" stop-color="#006fbb"/><stop offset="1" stop-color="#0045ad"/></linearGradient>
<linearGradient id="gp243"><stop offset="0" stop-color="#0036aa"/><stop offset="0.08" stop-color="#0078c0"/><stop offset="0.17" stop-color="#00c4e4"/><stop offset="0.25" stop-color="#0cfff3"/><stop offset="0.33" stop-color="#3effc2"/><stop offset="0.42" stop-color="#4cffb4"/><stop offset="0.5" stop-color="#53ffad"/><stop offset="0.58" stop-color="#4cffb4"/><stop offset="0.67" stop-color="#3effc2"/><stop offset="0.75" stop-color="#0cfff3"/><stop offset="0.83" stop-color="#00c1e3"/><stop offset="0.92" stop-color="#0070bb"/><stop offset="1" stop-color="#0045ad"/></linearGradient>
<linearGradient id="gp244"><stop offset="0" stop-color="#0037aa"/><stop offset="0.08" stop-color="#0079c0"/><stop offset="0.17" stop-color="#00c4e4"/><stop offset="0.25" stop-color="#0cfff3"/><stop offset="0.33" stop-color="#3fffc1"/><stop offset="0.42" stop-color="#4dffb3"/><stop offset="0.5" stop-color="#55ffab"/><stop offset="0.58" stop-color="#4dffb3"/><stop offset="0.67" stop-color="#3fffc1"/><stop offset="0.75" stop-color="#0cfff3"/><stop offset="0.83" stop-color="#00c1e3"/><stop offset="0.92" stop-color="#0070bb"/><stop offset="1" stop-color="#0046ad"/></linearGradient>
<linearGradient id="gp245"><stop offset="0" stop-color="#0037aa"/><stop offset="0.08" stop-color="#0079c0"/><stop offset="0.17" stop-color="#00c4e4"/><stop offset="0.25" stop-color="#0dfff2"/><stop offset="0.33" stop-color="#40ffc0"/><stop offset="0.42" stop-color="#4effb2"/><stop offset="0.5" stop-color="#56ffaa"/><stop offset="0.58" stop-color="#4effb2"/><stop offset="0.67" stop-color="#40ffc0"/><stop offset="0.75" stop-color="#0dfff2"/><stop offset="0.83" stop-color="#00c1e3"/><stop offset="0.92" stop-color="#0070bc"/><stop offset="1" stop-color="#0046ad"/></linearGradient>
<linearGradient id="gp246"><stop offset="0" stop-color="#0038aa"/><stop offset="0.08" stop-color="#007ac0"/><stop offset="0.17" stop-color="#00c4e4"/><stop offset="0.25" stop-color="#0dfff2"/><stop offset="0.33" stop-color="#41ffbf"/><stop offset="0.42" stop-color="#4fffb1"/><stop offset="0.5" stop-color="#57ffa9"/><stop offset="0.58" stop-color="#4fffb1"/><stop offset="0.67" stop-color="#41ffbf"/><stop offset="0.75" stop-color="#0dfff2"/><stop offset="0.83" stop-color="#00c1e3"/><stop offset="0.92" stop-color="#0071bc"/><stop offset="1" stop-color="#0047ae"/></linearGradient>
<linearGradient id="gp247"><stop offset="0" stop-color="#0038aa"/><stop offset="0.08" stop-color="#007ac1"/><stop offset="0.17" stop-color="#00c4e4"/><stop offset="0.25" stop-color="#0dfff2"/><stop offset="0.33" stop-color="#41ffbf"/><stop offset="0.42" stop-color="#50ffb0"/><stop offset="0.5" stop-color="#58ffa8"/><stop offset="0.58" stop-color="#50ffb0"/><stop offset="0.67" stop-color="#41ffbf"/><stop offset="0.75" stop-color="#0dfff2"/><stop offset="0.83" stop-color="#00c2e3"/><stop offset="0.92" stop-color="#0071bc"/><stop offset="1" stop-color="#0047ae"/></linearGradient>
<linearGradient id="gp248"><stop offset="0" stop-color="#0039aa"/><stop offset="0.08" stop-color="#007bc1"/><stop offset="0.17" stop-color="#00c5e4"/><stop offset="0.25" stop-color="#0efff1"/><stop offset="0.33" stop-color="#42ffbe"/><stop offset="0.42" stop-color="#51ffaf"/><stop offset="0.5" stop-color="#59ffa7"/><stop offset="0.58" stop-color="#51ffaf"/><stop offset="0.67" stop-color="#42ffbe"/><stop offset="0.75" stop-color="#0efff1"/><stop offset="0.83" stop-color="#00c2e3"/><stop offset="0.92" stop-color="#0072bc"/><stop offset="1" stop-color="#0048ae"/></linearGradient>
<linearGradient id="gp249"><stop offset="0" stop-color="#0039aa"/><stop offset="0.08" stop-color="#007bc1"/><stop offset="0.17" stop-color="#00c5e4"/><stop offset="0.25" stop-color="#0efff1"/><stop offset="0.33" stop-color="#43ffbd"/><stop offset="0.42" stop-color="#52ffae"/><stop offset="0.5" stop-color="#5bffa5"/><stop offset="0.58" stop-color="#52ffae"/><stop offset="0.67" stop-color="#43ffbd"/><stop offset="0.75" stop-color="#0efff1"/><stop offset="0.83" stop-color="#00c2e3"/><stop offset="0.92" stop-color="#0072bc"/><stop offset="1" stop-color="#0048ae"/></linearGradient>
<linearGradient id="gp250"><stop offset="0" stop-color="#003aaa"/><stop offset="0.08" stop-color="#007cc1"/><stop offset="0.17" stop-color="#00c5e4"/><stop offset="0.25" stop-color="#0efff1"/><stop offset="0.33" stop-color="#43ffbd"/><stop offset="0.42" stop-color="#53ffad"/><stop offset="0.5" stop-color="#5cffa4"/><stop offset="0.58" stop-color="#53ffad"/><stop offset="0.67" stop-color="#43ffbd"/><stop offset="0.75" stop-color="#0efff1"/><stop offset="0.83" stop-color="#00c2e3"/><stop offset="0.92" stop-color="#0073bd"/><stop offset="1" stop-color="#0049ae"/></linearGradient>
<linearGradient id="gp251"><stop offset="0" stop-color="#003aaa"/><stop offset="0.08" stop-color="#007bc1"/><stop offset="0.17" stop-color="#00c5e4"/><stop offset="0.25" stop-color="#0ffff0"/><stop offset="0.33" stop-color="#44ffbc"/><stop offset="0.42" stop-color="#54ffac"/><stop offset="0.5" stop-color="#5dffa3"/><stop offset="0.58" stop-color="#54ffac"/><stop offset="0.67" stop-color="#44ffbc"/><stop offset="0.75" stop-color="#0ffff0"/><stop offset="0.83" stop-color="#00c2e3"/><stop offset="0.92" stop-color="#0074bd"/><stop offset="1" stop-color="#004aae"/></linearGradient>
<linearGradient id="gp252"><stop offset="0" stop-color="#0039aa"/><stop offset="0.08" stop-color="#007bc1"/><stop offset="0.17" stop-color="#00c5e4"/><stop offset="0.25" stop-color="#0ffff0"/><stop offset="0.33" stop-color="#45ffbb"/><stop offset="0.42" stop-color="#55ffab"/><stop offset="0.5" stop-color="#5effa2"/><stop offset="0.58" stop-color="#55ffab"/><stop offset="0.67" stop-color="#45ffbb"/><stop offset="0.75" stop-color="#0ffff0"/><stop offset="0.83" stop-color="#00c3e3"/><stop offset="0.92" stop-color="#0074be"/><stop offset="1" stop-color="#004bae"/></linearGradient>
<linearGradient id="gp253"><stop offset="0" stop-color="#0039aa"/><stop offset="0.08" stop-color="#007ac1"/><stop offset="0.17" stop-color="#00c5e4"/><stop offset="0.25" stop-color="#0ffff0"/><stop offset="0.33" stop-color="#46ffba"/><stop offset="0.42" stop-color="#56ffaa"/><stop offset="0.5" stop-color="#5fffa1"/><stop offset="0.58" stop-color="#56ffaa"/><stop offset="0.67" stop-color="#46ffba"/><stop offset="0.75" stop-color="#0ffff0"/><stop offset="0.83" stop-color="#00c3e3"/><stop offset="0.92" stop-color="#0075be"/><stop offset="1" stop-color="#004caf"/></linearGradient>
<linearGradient id="gp254"><stop offset="0" stop-color="#0038aa"/><stop offset="0.08" stop-color="#007ac0"/><stop offset="0.17" stop-color="#00c4e4"/><stop offset="0.25" stop-color="#10ffef"/><stop offset="0.33" stop-color="#46ffba"/><stop offset="0.42" stop-color="#57ffa9"/><stop offset="0.5" stop-color="#61ff9f"/><stop offset="0.58" stop-color="#57ffa9"/><stop offset="0.67" stop-color="#46ffba"/><stop offset="0.75" stop-color="#10ffef"/><stop offset="0.83" stop-color="#00c3e4"/><stop offset="0.92" stop-color="#0076bf"/><stop offset="1" stop-color="#004daf"/></linearGradient>
<linearGradient id="gp255"><stop offset="0" stop-color="#0038aa"/><stop offset="0.08" stop-color="#007ac0"/><stop offset="0.17" stop-color="#00c4e4"/><stop offset="0.25" stop-color="#10ffef"/><stop offset="0.33" stop-color="#47ffb9"/><stop offset="0.42" stop-color="#58ffa8"/><stop offset="0.5" stop-color="#62ff9e"/><stop offset="0.58" stop-color="#58ffa8"/><stop offset="0.67" stop-color="#47ffb9"/><stop offset="0.75" stop-color="#10ffef"/><stop offset="0.83" stop-color="#00c3e4"/><stop offset="0.92" stop-color="#0077bf"/><stop offset="1" stop-color="#004eaf"/></linearGradient>
<linearGradient id="gp256"><stop offset="0" stop-color="#0037aa"/><stop offset="0.08" stop-color="#0079c0"/><stop offset="0.17" stop-color="#00c4e4"/><stop offset="0.25" stop-color="#11ffef"/><stop offset="0.33" stop-color="#48ffb8"/><stop offset="0.42" stop-color="#59ffa7"/><stop offset="0.5" stop-color="#63ff9d"/><stop offset="0.58" stop-color="#59ffa7"/><stop offset="0.67" stop-color="#48ffb8"/><stop offset="0.75" stop-color="#11ffef"/><stop offset="0.83" stop-color="#00c4e4"/><stop offset="0.92" stop-color="#0078bf"/><stop offset="1" stop-color="#004faf"/></linearGradient>
<linearGradient id="gp257"><stop offset="0" stop-color="#0037aa"/><stop offset="0.08" stop-color="#0079c0"/><stop offset="0.17" stop-color="#00c4e4"/><stop offset="0.25" stop-color="#11ffee"/><stop offset="0.33" stop-color="#48ffb8"/><stop offset="0.42" stop-color="#5affa6"/><stop offset="0.5" stop-color="#64ff9c"/><stop offset="0.58" stop-color="#5affa6"/><stop offset="0.67" stop-color="#48ffb8"/><stop offset="0.75" stop-color="#11ffee"/><stop offset="0.83" stop-color="#00c4e4"/><stop offset="0.92" stop-color="#0079c0"/><stop offset="1" stop-color="#0050b0"/></linearGradient>
<linearGradient id="gp258"><stop offset="0" stop-color="#0036a9"/><stop offset="0.08" stop-color="#0078c0"/><stop offset="0.17" stop-color="#00c4e4"/><stop offset="0.25" stop-color="#11ffee"/><stop offset="0.33" stop-color="#49ffb7"/><stop offset="0.42" stop-color="#5bffa5"/><stop offset="0.5" stop-color="#65ff9b"/><stop offset="0.58" stop-color="#5bffa5"/><stop offset="0.67" stop-color="#49ffb7"/><stop offset="0.75" stop-color="#11ffee"/><stop offset="0.83" stop-color="#00c4e4"/><stop offset="0.92" stop-color="#007ac0"/><stop offset="1" stop-color="#0051b0"/></linearGradient>
<linearGradient id="gp259"><stop offset="0" stop-color="#0036a9"/><stop offset="0.08" stop-color="#0078bf"/><stop offset="0.17" stop-color="#00c4e4"/><stop offset="0.25" stop-color="#12ffee"/><stop offset="0.33" stop-color="#4affb6"/><stop offset="0.42" stop-color="#5cffa4"/><stop offset="0.5" stop-color="#67ff99"/><stop offset="0.58" stop-color="#5cffa4"/><stop offset="0.67" stop-color="#4affb6"/><stop offset="0.75" stop-color="#12ffee"/><stop offset="0.83" stop-color="#00c5e4"/><stop offset="0.92" stop-color="#007bc1"/><stop offset="1" stop-color="#0052b0"/></linearGradient>
<linearGradient id="gp260"><stop offset="0" stop-color="#0035a9"/><stop offset="0.08" stop-color="#0077bf"/><stop offset="0.17" stop-color="#00c3e4"/><stop offset="0.25" stop-color="#12ffed"/><stop offset="0.33" stop-color="#4bffb5"/><stop offset="0.42" stop-color="#5dffa3"/><stop offset="0.5" stop-color="#68ff98"/><stop offset="0.58" stop-color="#5dffa3"/><stop offset="0.67" stop-color="#4bffb5"/><stop offset="0.75" stop-color="#12ffed"/><stop offset="0.83" stop-color="#00c5e4"/><stop offset="0.92" stop-color="#007cc1"/><stop offset="1" stop-color="#0053b0"/></linearGradient>
<linearGradient id="gp261"><stop offset="0" stop-color="#0032a9"/><stop offset="0.08" stop-color="#0076bf"/><stop offset="0.17" stop-color="#00c3e4"/><stop offset="0.25" stop-color="#12ffed"/><stop offset="0.33" stop-color="#4bffb5"/><stop offset="0.42" stop-color="#5effa2"/><stop offset="0.5" stop-color="#69ff97"/><stop offset="0.58" stop-color="#5effa2"/><stop offset="0.67" stop-color="#4bffb5"/><stop offset="0.75" stop-color="#12ffed"/><stop offset="0.83" stop-color="#00c6e5"/><stop offset="0.92" stop-color="#007dc2"/><stop offset="1" stop-color="#0054b1"/></linearGradient>
<linearGradient id="gp262"><stop offset="0" stop-color="#002fa8"/><stop offset="0.08" stop-color="#0075be"/><stop offset="0.17" stop-color="#00c3e3"/><stop offset="0.25" stop-color="#13ffed"/><stop offset="0.33" stop-color="#4cffb4"/><stop offset="0.42" stop-color="#5fffa1"/><stop offset="0.5" stop-color="#6bff95"/><stop offset="0.58" stop-color="#5fffa1"/><stop offset="0.67" stop-color="#4cffb4"/><stop offset="0.75" stop-color="#13ffec"/><stop offset="0.83" stop-color="#00c7e5"/><stop offset="0.92" stop-color="#007ec2"/><stop offset="1" stop-color="#0055b1"/></linearGradient>
<linearGradient id="gp263"><stop offset="0" stop-color="#002ca7"/><stop offset="0.08" stop-color="#0074bd"/><stop offset="0.17" stop-color="#00c2e3"/><stop offset="0.25" stop-color="#13ffec"/><stop offset="0.33" stop-color="#4dffb3"/><stop offset="0.42" stop-color="#60ffa0"/><stop offset="0.5" stop-color="#6cff94"/><stop offset="0.58" stop-color="#5fffa1"/><stop offset="0.67" stop-color="#4cffb4"/><stop offset="0.75" stop-color="#14ffec"/><stop offset="0.83" stop-color="#00c8e6"/><stop offset="0.92" stop-color="#007fc3"/><stop offset="1" stop-color="#0056b1"/></linearGradient>
<linearGradient id="gp264"><stop offset="0" stop-color="#0028a6"/><stop offset="0.08" stop-color="#0073bd"/><stop offset="0.17" stop-color="#00c2e3"/><stop offset="0.25" stop-color="#14ffec"/><stop offset="0.33" stop-color="#4effb2"/><stop offset="0.42" stop-color="#61ff9f"/><stop offset="0.5" stop-color="#6eff92"/><stop offset="0.58" stop-color="#60ffa0"/><stop offset="0.67" stop-color="#4dffb3"/><stop offset="0.75" stop-color="#14ffeb"/><stop offset="0.83" stop-color="#00c9e6"/><stop offset="0.92" stop-color="#0080c4"/><stop offset="1" stop-color="#0058b2"/></linearGradient>
<linearGradient id="gp265"><stop offset="0" stop-color="#0024a5"/><stop offset="0.08" stop-color="#0072bc"/><stop offset="0.17" stop-color="#00c2e3"/><stop offset="0.25" stop-color="#14ffeb"/><stop offset="0.33" stop-color="#4fffb1"/><stop offset="0.42" stop-color="#63ff9d"/><stop offset="0.5" stop-color="#6fff91"/><stop offset="0.58" stop-color="#61ff9f"/><stop offset="0.67" stop-color="#4dffb3"/><stop offset="0.75" stop-color="#15ffea"/><stop offset="0.83" stop-color="#00cae7"/><stop offset="0.92" stop-color="#0081c4"/><stop offset="1" stop-color="#0059b2"/></linearGradient>
<linearGradient id="gp266"><stop offset="0" stop-color="#0021a4"/><stop offset="0.08" stop-color="#0071bc"/><stop offset="0.17" stop-color="#00c1e3"/><stop offset="0.25" stop-color="#14ffeb"/><stop offset="0.33" stop-color="#50ffb0"/><stop offset="0.42" stop-color="#64ff9c"/><stop offset="0.5" stop-color="#70ff90"/><stop offset="0.58" stop-color="#62ff9e"/><stop offset="0.67" stop-color="#4dffb3"/><stop offset="0.75" stop-color="#16ffea"/><stop offset="0.83" stop-color="#00cbe7"/><stop offset="0.92" stop-color="#0082c5"/><stop offset="1" stop-color="#005ab2"/></linearGradient>
<linearGradient id="gp267"><stop offset="0" stop-color="#001da3"/><stop offset="0.08" stop-color="#0070bb"/><stop offset="0.17" stop-color="#00c1e3"/><stop offset="0.25" stop-color="#15ffeb"/><stop offset="0.33" stop-color="#51ffaf"/><stop offset="0.42" stop-color="#65ff9b"/><stop offset="0.5" stop-color="#72ff8e"/><stop offset="0.58" stop-color="#63ff9d"/><stop offset="0.67" stop-color="#4effb2"/><stop offset="0.75" stop-color="#16ffe9"/><stop offset="0.83" stop-color="#00cce7"/><stop offset="0.92" stop-color="#0083c5"/><stop offset="1" stop-color="#005bb2"/></linearGradient>
<linearGradient id="gp268"><stop offset="0" stop-color="#001aa1"/><stop offset="0.08" stop-color="#006fbb"/><stop offset="0.17" stop-color="#00c1e2"/><stop offset="0.25" stop-color="#15ffea"/><stop offset="0.33" stop-color="#51ffaf"/><stop offset="0.42" stop-color="#66ff9a"/><stop offset="0.5" stop-color="#73ff8d"/><stop offset="0.58" stop-color="#64ff9c"/><stop offset="0.67" stop-color="#4effb2"/><stop offset="0.75" stop-color="#17ffe9"/><stop offset="0.83" stop-color="#00cde8"/><stop offset="0.92" stop-color="#0084c6"/><stop offset="1" stop-color="#005cb3"/></linearGradient>
<linearGradient id="gp269"><stop offset="0" stop-color="#0015a0"/><stop offset="0.08" stop-color="#006dba"/><stop offset="0.17" stop-color="#00c0e2"/><stop offset="0.25" stop-color="#15ffea"/><stop offset="0.33" stop-color="#52ffae"/><stop offset="0.42" stop-color="#67ff99"/><stop offset="0.5" stop-color="#74ff8c"/><stop offset="0.58" stop-color="#65ff9b"/><stop offset="0.67" stop-color="#4fffb1"/><stop offset="0.75" stop-color="#17ffe8"/><stop offset="0.83" stop-color="#00cde8"/><stop offset="0.92" stop-color="#0085c7"/><stop offset="1" stop-color="#005eb3"/></linearGradient>
<linearGradient id="gp270"><stop offset="0" stop-color="#000e9e"/><stop offset="0.08" stop-color="#006ab8"/><stop offset="0.17" stop-color="#00bfe2"/><stop offset="0.25" stop-color="#15ffea"/><stop offset="0.33" stop-color="#52ffae"/><stop offset="0.42" stop-color="#67ff99"/><stop offset="0.5" stop-color="#75ff8b"/><stop offset="0.58" stop-color="#65ff9b"/><stop offset="0.67" stop-color="#4fffb1"/><stop offset="0.75" stop-color="#17ffe8"/><stop offset="0.83" stop-color="#00cee8"/><stop offset="0.92" stop-color="#0087c7"/><stop offset="1" stop-color="#005fb3"/></linearGradient>
<linearGradient id="gp271"><stop offset="0" stop-color="#00089c"/><stop offset="0.08" stop-color="#0067b7"/><stop offset="0.17" stop-color="#00bee1"/><stop offset="0.25" stop-color="#15ffea"/><stop offset="0.33" stop-color="#52ffae"/><stop offset="0.42" stop-color="#67ff99"/><stop offset="0.5" stop-color="#76ff8a"/><stop offset="0.58" stop-color="#65ff9b"/><stop offset="0.67" stop-color="#4fffb1"/><stop offset="0.75" stop-color="#17ffe8"/><stop offset="0.83" stop-color="#00cee9"/><stop offset="0.92" stop-color="#0088c8"/><stop offset="1" stop-color="#0061b4"/></linearGradient>
<linearGradient id="gp272"><stop offset="0" stop-color="#00029b"/><stop offset="0.08" stop-color="#0065b5"/><stop offset="0.17" stop-color="#00bde1"/><stop offset="0.25" stop-color="#15ffea"/><stop offset="0.33" stop-color="#52ffae"/><stop offset="0.42" stop-color="#68ff98"/><stop offset="0.5" stop-color="#76ff8a"/><stop offset="0.58" stop-color="#65ff9b"/><stop offset="0.67" stop-color="#4fffb1"/><stop offset="0.75" stop-color="#17ffe8"/><stop offset="0.83" stop-color="#00cfe9"/><stop offset="0.92" stop-color="#0089c9"/><stop offset="1" stop-color="#0062b4"/></linearGradient>
<linearGradient id="gp273"><stop offset="0" stop-color="#000093"/><stop offset="0.08" stop-color="#0062b4"/><stop offset="0.17" stop-color="#00bde1"/><stop offset="0.25" stop-color="#15ffea"/><stop offset="0.33" stop-color="#52ffae"/><stop offset="0.42" stop-color="#68ff98"/><stop offset="0.5" stop-color="#77ff89"/><stop offset="0.58" stop-color="#66ff9a"/><stop offset="0.67" stop-color="#4fffb1"/><stop offset="0.75" stop-color="#17ffe8"/><stop offset="0.83" stop-color="#00cfe9"/><stop offset="0.92" stop-color="#008bc9"/><stop offset="1" stop-color="#0064b5"/></linearGradient>
<linearGradient id="gp274"><stop offset="0" stop-color="#000088"/><stop offset="0.08" stop-color="#005fb3"/><stop offset="0.17" stop-color="#00bce0"/><stop offset="0.25" stop-color="#15ffea"/><stop offset="0.33" stop-color="#52ffae"/><stop offset="0.42" stop-color="#68ff98"/><stop offset="0.5" stop-color="#77ff89"/><stop offset="0.58" stop-color="#66ff9a"/><stop offset="0.67" stop-color="#4fffb1"/><stop offset="0.75" stop-color="#17ffe8"/><stop offset="0.83" stop-color="#00d0e9"/><stop offset="0.92" stop-color="#008cca"/><stop offset="1" stop-color="#0065b6"/></linearGradient>
<linearGradient id="gp275"><stop offset="0" stop-color="#00007e"/><stop offset="0.08" stop-color="#005cb3"/><stop offset="0.17" stop-color="#00bbe0"/><stop offset="0.25" stop-color="#15ffea"/><stop offset="0.33" stop-color="#52ffae"/><stop offset="0.42" stop-color="#68ff98"/><stop offset="0.5" stop-color="#78ff88"/><stop offset="0.58" stop-color="#66ff9a"/><stop offset="0.67" stop-color="#4fffb1"/><stop offset="0.75" stop-color="#17ffe8"/><stop offset="0.83" stop-color="#00d0ea"/><stop offset="0.92" stop-color="#008ecb"/><stop offset="1" stop-color="#0066b6"/></linearGradient>
<linearGradient id="gp276"><stop offset="0" stop-color="#000085"/><stop offset="0.08" stop-color="#005eb3"/><stop offset="0.17" stop-color="#00bce0"/><stop offset="0.25" stop-color="#16ffe9"/><stop offset="0.33" stop-color="#52ffae"/><stop offset="0.42" stop-color="#69ff97"/><stop offset="0.5" stop-color="#79ff87"/><stop offset="0.58" stop-color="#67ff99"/><stop offset="0.67" stop-color="#4fffb1"/><stop offset="0.75" stop-color="#18ffe7"/><stop offset="0.83" stop-color="#00d2ea"/><stop offset="0.92" stop-color="#008fcc"/><stop offset="1" stop-color="#0069b8"/></linearGradient>
<linearGradient id="gp277"><stop offset="0" stop-color="#00008f"/><stop offset="0.08" stop-color="#0060b3"/><stop offset="0.17" stop-color="#00bde1"/><stop offset="0.25" stop-color="#17ffe8"/><stop offset="0.33" stop-color="#53ffad"/><stop offset="0.42" stop-color="#6aff96"/><stop offset="0.5" stop-color="#79ff87"/><stop offset="0.58" stop-color="#68ff98"/><stop offset="0.67" stop-color="#50ffb0"/><stop offset="0.75" stop-color="#19ffe6"/><stop offset="0.83" stop-color="#00d3eb"/><stop offset="0.92" stop-color="#0091cd"/><stop offset="1" stop-color="#006cb9"/></linearGradient>
<linearGradient id="gp278"><stop offset="0" stop-color="#000099"/><stop offset="0.08" stop-color="#0062b4"/><stop offset="0.17" stop-color="#00bfe1"/><stop offset="0.25" stop-color="#18ffe7"/><stop offset="0.33" stop-color="#54ffac"/><stop offset="0.42" stop-color="#6bff95"/><stop offset="0.5" stop-color="#7aff86"/><stop offset="0.58" stop-color="#69ff97"/><stop offset="0.67" stop-color="#51ffaf"/><stop offset="0.75" stop-color="#1affe5"/><stop offset="0.83" stop-color="#00d5ec"/><stop offset="0.92" stop-color="#0093ce"/><stop offset="1" stop-color="#006fbb"/></linearGradient>
<linearGradient id="gp279"><stop offset="0" stop-color="#00059c"/><stop offset="0.08" stop-color="#0063b5"/><stop offset="0.17" stop-color="#00c0e2"/><stop offset="0.25" stop-color="#19ffe6"/><stop offset="0.33" stop-color="#55ffab"/><stop offset="0.42" stop-color="#6cff94"/><stop offset="0.5" stop-color="#7bff85"/><stop offset="0.58" stop-color="#69ff97"/><stop offset="0.67" stop-color="#52ffae"/><stop offset="0.75" stop-color="#1bffe4"/><stop offset="0.83" stop-color="#00d7ec"/><stop offset="0.92" stop-color="#0095ce"/><stop offset="1" stop-color="#0071bc"/></linearGradient>
<linearGradient id="gp280"><stop offset="0" stop-color="#000b9d"/><stop offset="0.08" stop-color="#0065b6"/><stop offset="0.17" stop-color="#00c1e3"/><stop offset="0.25" stop-color="#1affe5"/><stop offset="0.33" stop-color="#56ffaa"/><stop offset="0.42" stop-color="#6cff94"/><stop offset="0.5" stop-color="#7cff84"/><stop offset="0.58" stop-color="#6aff96"/><stop offset="0.67" stop-color="#53ffad"/><stop offset="0.75" stop-color="#1cffe3"/><stop offset="0.83" stop-color="#00d8ed"/><stop offset="0.92" stop-color="#0097cf"/><stop offset="1" stop-color="#0074bd"/></linearGradient>
<linearGradient id="gp281"><stop offset="0" stop-color="#001ca2"/><stop offset="0.08" stop-color="#006cb9"/><stop offset="0.17" stop-color="#00c5e4"/><stop offset="0.25" stop-color="#1bffe4"/><stop offset="0.33" stop-color="#56ffaa"/><stop offset="0.42" stop-color="#6cff94"/><stop offset="0.5" stop-color="#7cff84"/><stop offset="0.58" stop-color="#6aff96"/><stop offset="0.67" stop-color="#53ffad"/><stop offset="0.75" stop-color="#1cffe3"/><stop offset="0.83" stop-color="#00d9ee"/><stop offset="0.92" stop-color="#009ad1"/><stop offset="1" stop-color="#0077bf"/></linearGradient>
<linearGradient id="gp282"><stop offset="0" stop-color="#002ea7"/><stop offset="0.08" stop-color="#0075be"/><stop offset="0.17" stop-color="#00c9e6"/><stop offset="0.25" stop-color="#1cffe3"/><stop offset="0.33" stop-color="#56ffaa"/><stop offset="0.42" stop-color="#6cff94"/><stop offset="0.5" stop-color="#7cff84"/><stop offset="0.58" stop-color="#6aff96"/><stop offset="0.67" stop-color="#53ffad"/><stop offset="0.75" stop-color="#1cffe3"/><stop offset="0.83" stop-color="#00daee"/><stop offset="0.92" stop-color="#009dd2"/><stop offset="1" stop-color="#007ac0"/></linearGradient>
<linearGradient id="gp283"><stop offset="0" stop-color="#003dab"/><stop offset="0.08" stop-color="#007dc2"/><stop offset="0.17" stop-color="#00cee8"/><stop offset="0.25" stop-color="#1dffe2"/><stop offset="0.33" stop-color="#56ffaa"/><stop offset="0.42" stop-color="#6cff94"/><stop offset="0.5" stop-color="#7cff84"/><stop offset="0.58" stop-color="#6aff96"/><stop offset="0.67" stop-color="#53ffad"/><stop offset="0.75" stop-color="#1cffe3"/><stop offset="0.83" stop-color="#00dbef"/><stop offset="0.92" stop-color="#00a0d4"/><stop offset="1" stop-color="#007cc2"/></linearGradient>
<linearGradient id="gp284"><stop offset="0" stop-color="#0044ad"/><stop offset="0.08" stop-color="#0080c4"/><stop offset="0.17" stop-color="#00d0e9"/><stop offset="0.25" stop-color="#1effe2"/><stop offset="0.33" stop-color="#56ffaa"/><stop offset="0.42" stop-color="#6cff94"/><stop offset="0.5" stop-color="#7cff84"/><stop offset="0.58" stop-color="#6aff96"/><stop offset="0.67" stop-color="#53ffad"/><stop offset="0.75" stop-color="#1cffe3"/><stop offset="0.83" stop-color="#00dcef"/><stop offset="0.92" stop-color="#00a2d4"/><stop offset="1" stop-color="#007ec2"/></linearGradient>
<linearGradient id="gp285"><stop offset="0" stop-color="#0044ad"/><stop offset="0.08" stop-color="#0080c4"/><stop offset="0.17" stop-color="#00d0e9"/><stop offset="0.25" stop-color="#1effe2"/><stop offset="0.33" stop-color="#56ffaa"/><stop offset="0.42" stop-color="#6cff94"/><stop offset="0.5" stop-color="#7cff84"/><stop offset="0.58" stop-color="#6aff96"/><stop offset="0.67" stop-color="#53ffad"/><stop offset="0.75" stop-color="#1cffe3"/><stop offset="0.83" stop-color="#00dcef"/><stop offset="0.92" stop-color="#00a2d4"/><stop offset="1" stop-color="#007ec2"/></linearGradient>
<linearGradient id="gp30"><stop offset="0" stop-color="#005db3"/><stop offset="0.08" stop-color="#0092cd"/><stop offset="0.17" stop-color="#00cee8"/><stop offset="0.25" stop-color="#00fcfe"/><stop offset="0.33" stop-color="#17ffe8"/><stop offset="0.42" stop-color="#23ffdd"/><stop offset="0.5" stop-color="#2cffd4"/><stop offset="0.58" stop-color="#23ffdd"/><stop offset="0.67" stop-color="#16ffe9"/><stop offset="0.75" stop-color="#00f8fc"/><stop offset="0.83" stop-color="#00c3e3"/><stop offset="0.92" stop-color="#0080c4"/><stop offset="1" stop-color="#003fac"/></linearGradient>
<linearGradient id="gp31"><stop offset="0" stop-color="#005db3"/><stop offset="0.08" stop-color="#0092cd"/><stop offset="0.17" stop-color="#00cee8"/><stop offset="0.25" stop-color="#00fcfe"/><stop offset="0.33" stop-color="#17ffe8"/><stop offset="0.42" stop-color="#23ffdc"/><stop offset="0.5" stop-color="#2cffd4"/><stop offset="0.58" stop-color="#23ffdc"/><stop offset="0.67" stop-color="#17ffe9"/><stop offset="0.75" stop-color="#00f8fc"/><stop offset="0.83" stop-color="#00c3e3"/><stop offset="0.92" stop-color="#0080c4"/><stop offset="1" stop-color="#003fac"/></linearGradient>
<linearGradient id="gp32"><stop offset="0" stop-color="#005db3"/><stop offset="0.08" stop-color="#0092cd"/><stop offset="0.17" stop-color="#00cee8"/><stop offset="0.25" stop-color="#00fcfe"/><stop offset="0.33" stop-color="#17ffe8"/><stop offset="0.42" stop-color="#23ffdc"/><stop offset="0.5" stop-color="#2cffd4"/><stop offset="0.58" stop-color="#23ffdc"/><stop offset="0.67" stop-color="#17ffe8"/><stop offset="0.75" stop-color="#00f8fc"/><stop offset="0.83" stop-color="#00c2e3"/><stop offset="0.92" stop-color="#007fc3"/><stop offset="1" stop-color="#003fab"/></linearGradient>
<linearGradient id="gp33"><stop offset="0" stop-color="#005db3"/><stop offset="0.08" stop-color="#0092cd"/><stop offset="0.17" stop-color="#00cee8"/><stop offset="0.25" stop-color="#00fcfe"/><stop offset="0.33" stop-color="#18ffe8"/><stop offset="0.42" stop-color="#24ffdc"/><stop offset="0.5" stop-color="#2cffd3"/><stop offset="0.58" stop-color="#24ffdc"/><stop offset="0.67" stop-color="#17ffe8"/><stop offset="0.75" stop-color="#00f8fc"/><stop offset="0.83" stop-color="#00c2e3"/><stop offset="0.92" stop-color="#007fc3"/><stop offset="1" stop-color="#003eab"/></linearGradient>
<linearGradient id="gp34"><stop offset="0" stop-color="#005db3"/><stop offset="0.08" stop-color="#0092cd"/><stop offset="0.17" stop-color="#00cee8"/><stop offset="0.25" stop-color="#00fcfe"/><stop offset="0.33" stop-color="#18ffe7"/><stop offset="0.42" stop-color="#24ffdb"/><stop offset="0.5" stop-color="#2dffd3"/><stop offset="0.58" stop-color="#24ffdb"/><stop offset="0.67" stop-color="#18ffe8"/><stop offset="0.75" stop-color="#00f8fc"/><stop offset="0.83" stop-color="#00c2e3"/><stop offset="0.92" stop-color="#007ec3"/><stop offset="1" stop-color="#003eab"/></linearGradient>
<linearGradient id="gp35"><stop offset="0" stop-color="#005db3"/><stop offset="0.08" stop-color="#0092cd"/><stop offset="0.17" stop-color="#00cee8"/><stop offset="0.25" stop-color="#00fdfe"/><stop offset="0.33" stop-color="#18ffe7"/><stop offset="0.42" stop-color="#25ffdb"/><stop offset="0.5" stop-color="#2dffd3"/><stop offset="0.58" stop-color="#25ffdb"/><stop offset="0.67" stop-color="#18ffe7"/><stop offset="0.75" stop-color="#00f8fc"/><stop offset="0.83" stop-color="#00c2e3"/><stop offset="0.92" stop-color="#007dc2"/><stop offset="1" stop-color="#003dab"/></linearGradient>
<linearGradient id="gp36"><stop offset="0" stop-color="#005db3"/><stop offset="0.08" stop-color="#0092cd"/><stop offset="0.17" stop-color="#00cee8"/><stop offset="0.25" stop-color="#00fdfe"/><stop offset="0.33" stop-color="#19ffe7"/><stop offset="0.42" stop-color="#25ffdb"/><stop offset="0.5" stop-color="#2effd2"/><stop offset="0.58" stop-color="#25ffdb"/><stop offset="0.67" stop-color="#18ffe7"/><stop offset="0.75" stop-color="#00f9fc"/><stop offset="0.83" stop-color="#00c1e3"/><stop offset="0.92" stop-color="#007dc2"/><stop offset="1" stop-color="#003dab"/></linearGradient>
<linearGradient id="gp37"><stop offset="0" stop-color="#005db3"/><stop offset="0.08" stop-color="#0092cd"/><stop offset="0.17" stop-color="#00cee8"/><stop offset="0.25" stop-color="#00fdfe"/><stop offset="0.33" stop-color="#19ffe6"/><stop offset="0.42" stop-color="#25ffda"/><stop offset="0.5" stop-color="#2effd2"/><stop offset="0.58" stop-color="#25ffda"/><stop offset="0.67" stop-color="#19ffe7"/><stop offset="0.75" stop-color="#00f9fc"/><stop offset="0.83" stop-color="#00c1e3"/><stop offset="0.92" stop-color="#007cc1"/><stop offset="1" stop-color="#003dab"/></linearGradient>
<linearGradient id="gp38"><stop offset="0" stop-color="#005db3"/><stop offset="0.08" stop-color="#0092cd"/><stop offset="0.17" stop-color="#00cee8"/><stop offset="0.25" stop-color="#00fdfe"/><stop offset="0.33" stop-color="#19ffe6"/><stop offset="0.42" stop-color="#26ffda"/><stop offset="0.5" stop-color="#2effd1"/><stop offset="0.58" stop-color="#26ffda"/><stop offset="0.67" stop-color="#19ffe6"/><stop offset="0.75" stop-color="#00f9fc"/><stop offset="0.83" stop-color="#00c1e3"/><stop offset="0.92" stop-color="#007bc1"/><stop offset="1" stop-color="#003cab"/></linearGradient>
<linearGradient id="gp39"><stop offset="0" stop-color="#005db3"/><stop offset="0.08" stop-color="#0092cd"/><stop offset="0.17" stop-color="#00cee8"/><stop offset="0.25" stop-color="#00fdfe"/><stop offset="0.33" stop-color="#1affe6"/><stop offset="0.42" stop-color="#26ffd9"/><stop offset="0.5" stop-color="#2fffd1"/><stop offset="0.58" stop-color="#26ffd9"/><stop offset="0.67" stop-color="#19ffe6"/><stop offset="0.75" stop-color="#00f9fc"/><stop offset="0.83" stop-color="#00c1e3"/><stop offset="0.92" stop-color="#007bc1"/><stop offset="1" stop-color="#003cab"/></linearGradient>
<linearGradient id="gp310"><stop offset="0" stop-color="#005db3"/><stop offset="0.08" stop-color="#0092cd"/><stop offset="0.17" stop-color="#00cee8"/><stop offset="0.25" stop-color="#00fdfe"/><stop offset="0.33" stop-color="#1affe5"/><stop offset="0.42" stop-color="#27ffd9"/><stop offset="0.5" stop-color="#2fffd1"/><stop offset="0.58" stop-color="#27ffd9"/><stop offset="0.67" stop-color="#1affe6"/><stop offset="0.75" stop-color="#00f9fc"/><stop offset="0.83" stop-color="#00c1e2"/><stop offset="0.92" stop-color="#007ac0"/><stop offset="1" stop-color="#003cab"/></linearGradient>
<linearGradient id="gp311"><stop offset="0" stop-color="#005db3"/><stop offset="0.08" stop-color="#0092cd"/><stop offset="0.17" stop-color="#00cee8"/><stop offset="0.25" stop-color="#00fdfe"/><stop offset="0.33" stop-color="#1bffe5"/><stop offset="0.42" stop-color="#27ffd9"/><stop offset="0.5" stop-color="#2fffd0"/><stop offset="0.58" stop-color="#27ffd9"/><stop offset="0.67" stop-color="#1affe5"/><stop offset="0.75" stop-color="#00f9fc"/><stop offset="0.83" stop-color="#00c0e2"/><stop offset="0.92" stop-color="#0079c0"/><stop offset="1" stop-color="#003bab"/></linearGradient>
<linearGradient id="gp312"><stop offset="0" stop-color="#005db3"/><stop offset="0.08" stop-color="#0092cd"/><stop offset="0.17" stop-color="#00cee8"/><stop offset="0.25" stop-color="#00fefe"/><stop offset="0.33" stop-color="#1bffe5"/><stop offset="0.42" stop-color="#27ffd8"/><stop offset="0.5" stop-color="#30ffd0"/><stop offset="0.58" stop-color="#27ffd8"/><stop offset="0.67" stop-color="#1affe5"/><stop offset="0.75" stop-color="#00f9fc"/><stop offset="0.83" stop-color="#00c0e2"/><stop offset="0.92" stop-color="#0079c0"/><stop offset="1" stop-color="#003bab"/></linearGradient>
<linearGradient id="gp313"><stop offset="0" stop-color="#005db3"/><stop offset="0.08" stop-color="#0092cd"/><stop offset="0.17" stop-color="#00cee8"/><stop offset="0.25" stop-color="#00fefe"/><stop offset="0.33" stop-color="#1bffe4"/><stop offset="0.42" stop-color="#28ffd8"/><stop offset="0.5" stop-color="#30ffd0"/><stop offset="0.58" stop-color="#28ffd8"/><stop offset="0.67" stop-color="#1bffe5"/><stop offset="0.75" stop-color="#00fafd"/><stop offset="0.83" stop-color="#00c0e2"/><stop offset="0.92" stop-color="#0078bf"/><stop offset="1" stop-color="#003aab"/></linearGradient>
<linearGradient id="gp314"><stop offset="0" stop-color="#005db3"/><stop offset="0.08" stop-color="#0092cd"/><stop offset="0.17" stop-color="#00cee8"/><stop offset="0.25" stop-color="#00feff"/><stop offset="0.33" stop-color="#1cffe4"/><stop offset="0.42" stop-color="#28ffd8"/><stop offset="0.5" stop-color="#31ffcf"/><stop offset="0.58" stop-color="#28ffd8"/><stop offset="0.67" stop-color="#1bffe4"/><stop offset="0.75" stop-color="#00fafd"/><stop offset="0.83" stop-color="#00c0e2"/><stop offset="0.92" stop-color="#0077bf"/><stop offset="1" stop-color="#003aaa"/></linearGradient>
<linearGradient id="gp315"><stop offset="0" stop-color="#005db3"/><stop offset="0.08" stop-color="#0092cd"/><stop offset="0.17" stop-color="#00cee9"/><stop offset="0.25" stop-color="#00feff"/><stop offset="0.33" stop-color="#1cffe3"/><stop offset="0.42" stop-color="#29ffd7"/><stop offset="0.5" stop-color="#31ffcf"/><stop offset="0.58" stop-color="#29ffd7"/><stop offset="0.67" stop-color="#1cffe4"/><stop offset="0.75" stop-color="#00fafd"/><stop offset="0.83" stop-color="#00c0e2"/><stop offset="0.92" stop-color="#0078bf"/><stop offset="1" stop-color="#003bab"/></linearGradient>
<linearGradient id="gp316"><stop offset="0" stop-color="#005db3"/><stop offset="0.08" stop-color="#0092cd"/><stop offset="0.17" stop-color="#00cee9"/><stop offset="0.25" stop-color="#00ffff"/><stop offset="0.33" stop-color="#1dffe3"/><stop offset="0.42" stop-color="#29ffd6"/><stop offset="0.5" stop-color="#32ffce"/><stop offset="0.58" stop-color="#29ffd6"/><stop offset="0.67" stop-color="#1cffe3"/><stop offset="0.75" stop-color="#00fbfd"/><stop offset="0.83" stop-color="#00c0e2"/><stop offset="0.92" stop-color="#0078c0"/><stop offset="1" stop-color="#003cab"/></linearGradient>
<linearGradient id="gp317"><stop offset="0" stop-color="#005db3"/><stop offset="0.08" stop-color="#0092cd"/><stop offset="0.17" stop-color="#00cee9"/><stop offset="0.25" stop-color="#00ffff"/><stop offset="0.33" stop-color="#1dffe2"/><stop offset="0.42" stop-color="#2affd6"/><stop offset="0.5" stop-color="#32ffcd"/><stop offset="0.58" stop-color="#2affd6"/><stop offset="0.67" stop-color="#1dffe3"/><stop offset="0.75" stop-color="#00fbfd"/><stop offset="0.83" stop-color="#00c1e3"/><stop offset="0.92" stop-color="#0079c0"/><stop offset="1" stop-color="#003dab"/></linearGradient>
<linearGradient id="gp318"><stop offset="0" stop-color="#005db3"/><stop offset="0.08" stop-color="#0092cd"/><stop offset="0.17" stop-color="#00cfe9"/><stop offset="0.25" stop-color="#01fffe"/><stop offset="0.33" stop-color="#1effe2"/><stop offset="0.42" stop-color="#2affd5"/><stop offset="0.5" stop-color="#33ffcd"/><stop offset="0.58" stop-color="#2affd5"/><stop offset="0.67" stop-color="#1dffe2"/><stop offset="0.75" stop-color="#00fcfe"/><stop offset="0.83" stop-color="#00c1e3"/><stop offset="0.92" stop-color="#0079c0"/><stop offset="1" stop-color="#003dab"/></linearGradient>
<linearGradient id="gp319"><stop offset="0" stop-color="#005db3"/><stop offset="0.08" stop-color="#0092cd"/><stop offset="0.17" stop-color="#00cfe9"/><stop offset="0.25" stop-color="#01fffe"/><stop offset="0.33" stop-color="#1effe1"/><stop offset="0.42" stop-color="#2bffd5"/><stop offset="0.5" stop-color="#34ffcc"/><stop offset="0.58" stop-color="#2bffd5"/><stop offset="0.67" stop-color="#1effe2"/><stop offset="0.75" stop-color="#00fcfe"/><stop offset="0.83" stop-color="#00c2e3"/><stop offset="0.92" stop-color="#007ac0"/><stop offset="1" stop-color="#003eab"/></linearGradient>
<linearGradient id="gp320"><stop offset="0" stop-color="#005db3"/><stop offset="0.08" stop-color="#0092cd"/><stop offset="0.17" stop-color="#00cfe9"/><stop offset="0.25" stop-color="#02fffd"/><stop offset="0.33" stop-color="#1fffe0"/><stop offset="0.42" stop-color="#2cffd4"/><stop offset="0.5" stop-color="#34ffcc"/><stop offset="0.58" stop-color="#2cffd4"/><stop offset="0.67" stop-color="#1effe1"/><stop offset="0.75" stop-color="#00fdfe"/><stop offset="0.83" stop-color="#00c2e3"/><stop offset="0.92" stop-color="#007ac1"/><stop offset="1" stop-color="#003fac"/></linearGradient>
<linearGradient id="gp321"><stop offset="0" stop-color="#005db3"/><stop offset="0.08" stop-color="#0092cd"/><stop offset="0.17" stop-color="#00d0e9"/><stop offset="0.25" stop-color="#02fffd"/><stop offset="0.33" stop-color="#20ffe0"/><stop offset="0.42" stop-color="#2cffd3"/><stop offset="0.5" stop-color="#35ffcb"/><stop offset="0.58" stop-color="#2cffd3"/><stop offset="0.67" stop-color="#1fffe0"/><stop offset="0.75" stop-color="#00fdfe"/><stop offset="0.83" stop-color="#00c2e3"/><stop offset="0.92" stop-color="#007bc1"/><stop offset="1" stop-color="#0040ac"/></linearGradient>
<linearGradient id="gp322"><stop offset="0" stop-color="#005db3"/><stop offset="0.08" stop-color="#0092cd"/><stop offset="0.17" stop-color="#00d0e9"/><stop offset="0.25" stop-color="#02fffd"/><stop offset="0.33" stop-color="#20ffdf"/><stop offset="0.42" stop-color="#2dffd3"/><stop offset="0.5" stop-color="#35ffca"/><stop offset="0.58" stop-color="#2dffd3"/><stop offset="0.67" stop-color="#20ffe0"/><stop offset="0.75" stop-color="#00fefe"/><stop offset="0.83" stop-color="#00c3e3"/><stop offset="0.92" stop-color="#007bc1"/><stop offset="1" stop-color="#0041ac"/></linearGradient>
<linearGradient id="gp323"><stop offset="0" stop-color="#005db3"/><stop offset="0.08" stop-color="#0092cd"/><stop offset="0.17" stop-color="#00d0ea"/><stop offset="0.25" stop-color="#03fffc"/><stop offset="0.33" stop-color="#21ffdf"/><stop offset="0.42" stop-color="#2effd2"/><stop offset="0.5" stop-color="#36ffca"/><stop offset="0.58" stop-color="#2effd2"/><stop offset="0.67" stop-color="#20ffdf"/><stop offset="0.75" stop-color="#00feff"/><stop offset="0.83" stop-color="#00c3e4"/><stop offset="0.92" stop-color="#007cc2"/><stop offset="1" stop-color="#0042ac"/></linearGradient>
<linearGradient id="gp324"><stop offset="0" stop-color="#005db3"/><stop offset="0.08" stop-color="#0092cd"/><stop offset="0.17" stop-color="#00d0ea"/><stop offset="0.25" stop-color="#03fffc"/><stop offset="0.33" stop-color="#21ffde"/><stop offset="0.42" stop-color="#2effd2"/><stop offset="0.5" stop-color="#37ffc9"/><stop offset="0.58" stop-color="#2effd2"/><stop offset="0.67" stop-color="#21ffdf"/><stop offset="0.75" stop-color="#00ffff"/><stop offset="0.83" stop-color="#00c4e4"/><stop offset="0.92" stop-color="#007cc2"/><stop offset="1" stop-color="#0043ad"/></linearGradient>
<linearGradient id="gp325"><stop offset="0" stop-color="#005db3"/><stop offset="0.08" stop-color="#0092cd"/><stop offset="0.17" stop-color="#00d1ea"/><stop offset="0.25" stop-color="#04fffb"/><stop offset="0.33" stop-color="#22ffde"/><stop offset="0.42" stop-color="#2fffd1"/><stop offset="0.5" stop-color="#37ffc9"/><stop offset="0.58" stop-color="#2fffd1"/><stop offset="0.67" stop-color="#21ffde"/><stop offset="0.75" stop-color="#00ffff"/><stop offset="0.83" stop-color="#00c4e4"/><stop offset="0.92" stop-color="#007dc2"/><stop offset="1" stop-color="#0044ad"/></linearGradient>
<linearGradient id="gp326"><stop offset="0" stop-color="#005db3"/><stop offset="0.08" stop-color="#0092cd"/><stop offset="0.17" stop-color="#00d1ea"/><stop offset="0.25" stop-color="#04fffb"/><stop offset="0.33" stop-color="#22ffdd"/><stop offset="0.42" stop-color="#2fffd0"/><stop offset="0.5" stop-color="#38ffc8"/><stop offset="0.58" stop-color="#2fffd0"/><stop offset="0.67" stop-color="#22ffde"/><stop offset="0.75" stop-color="#01fffe"/><stop offset="0.83" stop-color="#00c4e4"/><stop offset="0.92" stop-color="#007ec2"/><stop offset="1" stop-color="#0045ad"/></linearGradient>
<linearGradient id="gp327"><stop offset="0" stop-color="#005db3"/><stop offset="0.08" stop-color="#0092cd"/><stop offset="0.17" stop-color="#00d1ea"/><stop offset="0.25" stop-color="#04fffb"/><stop offset="0.33" stop-color="#23ffdc"/><stop offset="0.42" stop-color="#30ffd0"/><stop offset="0.5" stop-color="#39ffc7"/><stop offset="0.58" stop-color="#30ffd0"/><stop offset="0.67" stop-color="#22ffdd"/><stop offset="0.75" stop-color="#01fffe"/><stop offset="0.83" stop-color="#00c5e4"/><stop offset="0.92" stop-color="#007ec3"/><stop offset="1" stop-color="#0046ad"/></linearGradient>
<linearGradient id="gp328"><stop offset="0" stop-color="#005db3"/><stop offset="0.08" stop-color="#0092cd"/><stop offset="0.17" stop-color="#00d1ea"/><stop offset="0.25" stop-color="#05fffa"/><stop offset="0.33" stop-color="#24ffdc"/><stop offset="0.42" stop-color="#31ffcf"/><stop offset="0.5" stop-color="#39ffc7"/><stop offset="0.58" stop-color="#31ffcf"/><stop offset="0.67" stop-color="#23ffdc"/><stop offset="0.75" stop-color="#01fffe"/><stop offset="0.83" stop-color="#00c5e5"/><stop offset="0.92" stop-color="#007fc3"/><stop offset="1" stop-color="#0046ad"/></linearGradient>
<linearGradient id="gp329"><stop offset="0" stop-color="#005db3"/><stop offset="0.08" stop-color="#0092cd"/><stop offset="0.17" stop-color="#00d2ea"/><stop offset="0.25" stop-color="#05fffa"/><stop offset="0.33" stop-color="#24ffdb"/><stop offset="0.42" stop-color="#31ffcf"/><stop offset="0.5" stop-color="#3affc6"/><stop offset="0.58" stop-color="#31ffcf"/><stop offset="0.67" stop-color="#24ffdc"/><stop offset="0.75" stop-color="#02fffd"/><stop offset="0.83" stop-color="#00c6e5"/><stop offset="0.92" stop-color="#007fc3"/><stop offset="1" stop-color="#0047ae"/></linearGradient>
<linearGradient id="gp330"><stop offset="0" stop-color="#005db3"/><stop offset="0.08" stop-color="#0092cd"/><stop offset="0.17" stop-color="#00d2ea"/><stop offset="0.25" stop-color="#06fff9"/><stop offset="0.33" stop-color="#25ffdb"/><stop offset="0.42" stop-color="#32ffce"/><stop offset="0.5" stop-color="#3affc6"/><stop offset="0.58" stop-color="#32ffce"/><stop offset="0.67" stop-color="#24ffdb"/><stop offset="0.75" stop-color="#02fffd"/><stop offset="0.83" stop-color="#00c6e5"/><stop offset="0.92" stop-color="#0080c4"/><stop offset="1" stop-color="#0048ae"/></linearGradient>
<linearGradient id="gp331"><stop offset="0" stop-color="#005db3"/><stop offset="0.08" stop-color="#0092cd"/><stop offset="0.17" stop-color="#00d2ea"/><stop offset="0.25" stop-color="#06fff9"/><stop offset="0.33" stop-color="#25ffda"/><stop offset="0.42" stop-color="#33ffcd"/><stop offset="0.5" stop-color="#3bffc5"/><stop offset="0.58" stop-color="#33ffcd"/><stop offset="0.67" stop-color="#25ffdb"/><stop offset="0.75" stop-color="#03fffc"/><stop offset="0.83" stop-color="#00c6e5"/><stop offset="0.92" stop-color="#007fc3"/><stop offset="1" stop-color="#0048ae"/></linearGradient>
<linearGradient id="gp332"><stop offset="0" stop-color="#005db3"/><stop offset="0.08" stop-color="#0092cd"/><stop offset="0.17" stop-color="#00d2ea"/><stop offset="0.25" stop-color="#06fff9"/><stop offset="0.33" stop-color="#27ffd9"/><stop offset="0.42" stop-color="#34ffcc"/><stop offset="0.5" stop-color="#3cffc4"/><stop offset="0.58" stop-color="#34ffcc"/><stop offset="0.67" stop-color="#26ffda"/><stop offset="0.75" stop-color="#03fffc"/><stop offset="0.83" stop-color="#00c4e4"/><stop offset="0.92" stop-color="#007bc1"/><stop offset="1" stop-color="#0041ac"/></linearGradient>
<linearGradient id="gp333"><stop offset="0" stop-color="#005db3"/><stop offset="0.08" stop-color="#0092cd"/><stop offset="0.17" stop-color="#00d2ea"/><stop offset="0.25" stop-color="#07fff8"/><stop offset="0.33" stop-color="#28ffd8"/><stop offset="0.42" stop-color="#35ffcb"/><stop offset="0.5" stop-color="#3effc2"/><stop offset="0.58" stop-color="#35ffcb"/><stop offset="0.67" stop-color="#27ffd9"/><stop offset="0.75" stop-color="#03fffc"/><stop offset="0.83" stop-color="#00c2e3"/><stop offset="0.92" stop-color="#0077bf"/><stop offset="1" stop-color="#003aab"/></linearGradient>
<linearGradient id="gp334"><stop offset="0" stop-color="#005db3"/><stop offset="0.08" stop-color="#0092cd"/><stop offset="0.17" stop-color="#00d2ea"/><stop offset="0.25" stop-color="#07fff8"/><stop offset="0.33" stop-color="#29ffd7"/><stop offset="0.42" stop-color="#36ffca"/><stop offset="0.5" stop-color="#3fffc1"/><stop offset="0.58" stop-color="#36ffca"/><stop offset="0.67" stop-color="#28ffd8"/><stop offset="0.75" stop-color="#03fffc"/><stop offset="0.83" stop-color="#00c0e2"/><stop offset="0.92" stop-color="#0072bd"/><stop offset="1" stop-color="#0034a9"/></linearGradient>
<linearGradient id="gp335"><stop offset="0" stop-color="#005db3"/><stop offset="0.08" stop-color="#0092cd"/><stop offset="0.17" stop-color="#00d2ea"/><stop offset="0.25" stop-color="#08fff7"/><stop offset="0.33" stop-color="#2affd6"/><stop offset="0.42" stop-color="#38ffc8"/><stop offset="0.5" stop-color="#40ffc0"/><stop offset="0.58" stop-color="#38ffc8"/><stop offset="0.67" stop-color="#29ffd7"/><stop offset="0.75" stop-color="#03fffc"/><stop offset="0.83" stop-color="#00bfe2"/><stop offset="0.92" stop-color="#006eba"/><stop offset="1" stop-color="#002da7"/></linearGradient>
<linearGradient id="gp336"><stop offset="0" stop-color="#005db3"/><stop offset="0.08" stop-color="#0092cd"/><stop offset="0.17" stop-color="#00d2ea"/><stop offset="0.25" stop-color="#08fff7"/><stop offset="0.33" stop-color="#2bffd5"/><stop offset="0.42" stop-color="#39ffc7"/><stop offset="0.5" stop-color="#41ffbf"/><stop offset="0.58" stop-color="#39ffc7"/><stop offset="0.67" stop-color="#2affd6"/><stop offset="0.75" stop-color="#03fffc"/><stop offset="0.83" stop-color="#00bde1"/><stop offset="0.92" stop-color="#006ab8"/><stop offset="1" stop-color="#0025a5"/></linearGradient>
<linearGradient id="gp337"><stop offset="0" stop-color="#005db3"/><stop offset="0.08" stop-color="#0092cd"/><stop offset="0.17" stop-color="#00d2ea"/><stop offset="0.25" stop-color="#09fff7"/><stop offset="0.33" stop-color="#2cffd4"/><stop offset="0.42" stop-color="#3affc6"/><stop offset="0.5" stop-color="#42ffbe"/><stop offset="0.58" stop-color="#3affc6"/><stop offset="0.67" stop-color="#2bffd5"/><stop offset="0.75" stop-color="#03fffc"/><stop offset="0.83" stop-color="#00bbe0"/><stop offset="0.92" stop-color="#0065b6"/><stop offset="1" stop-color="#001da2"/></linearGradient>
<linearGradient id="gp338"><stop offset="0" stop-color="#005db3"/><stop offset="0.08" stop-color="#0092cd"/><stop offset="0.17" stop-color="#00d2ea"/><stop offset="0.25" stop-color="#09fff6"/><stop offset="0.33" stop-color="#2dffd3"/><stop offset="0.42" stop-color="#3bffc5"/><stop offset="0.5" stop-color="#43ffbd"/><stop offset="0.58" stop-color="#3bffc5"/><stop offset="0.67" stop-color="#2cffd4"/><stop offset="0.75" stop-color="#03fffc"/><stop offset="0.83" stop-color="#00b9df"/><stop offset="0.92" stop-color="#0061b4"/><stop offset="1" stop-color="#0015a0"/></linearGradient>
<linearGradient id="gp339"><stop offset="0" stop-color="#005db3"/><stop offset="0.08" stop-color="#0092cd"/><stop offset="0.17" stop-color="#00d2ea"/><stop offset="0.25" stop-color="#09fff6"/><stop offset="0.33" stop-color="#2effd1"/><stop offset="0.42" stop-color="#3cffc4"/><stop offset="0.5" stop-color="#44ffbc"/><stop offset="0.58" stop-color="#3cffc4"/><stop offset="0.67" stop-color="#2dffd3"/><stop offset="0.75" stop-color="#03fffc"/><stop offset="0.83" stop-color="#00b7de"/><stop offset="0.92" stop-color="#005cb3"/><stop offset="1" stop-color="#000d9e"/></linearGradient>
<linearGradient id="gp340"><stop offset="0" stop-color="#005db3"/><stop offset="0.08" stop-color="#0092cd"/><stop offset="0.17" stop-color="#00d2ea"/><stop offset="0.25" stop-color="#0afff5"/><stop offset="0.33" stop-color="#2fffd1"/><stop offset="0.42" stop-color="#3dffc2"/><stop offset="0.5" stop-color="#45ffbb"/><stop offset="0.58" stop-color="#3dffc2"/><stop offset="0.67" stop-color="#2effd2"/><stop offset="0.75" stop-color="#02fffd"/><stop offset="0.83" stop-color="#00b5dd"/><stop offset="0.92" stop-color="#0057b1"/><stop offset="1" stop-color="#00079c"/></linearGradient>
<linearGradient id="gp341"><stop offset="0" stop-color="#005db3"/><stop offset="0.08" stop-color="#0092cd"/><stop offset="0.17" stop-color="#00d2ea"/><stop offset="0.25" stop-color="#0afff5"/><stop offset="0.33" stop-color="#30ffd0"/><stop offset="0.42" stop-color="#3fffc1"/><stop offset="0.5" stop-color="#45ffbb"/><stop offset="0.58" stop-color="#3fffc1"/><stop offset="0.67" stop-color="#2fffd1"/><stop offset="0.75" stop-color="#02fffd"/><stop offset="0.83" stop-color="#00b2dc"/><stop offset="0.92" stop-color="#0051b0"/><stop offset="1" stop-color="#00019a"/></linearGradient>
<linearGradient id="gp342"><stop offset="0" stop-color="#005db3"/><stop offset="0.08" stop-color="#0092cd"/><stop offset="0.17" stop-color="#00d2ea"/><stop offset="0.25" stop-color="#0afff5"/><stop offset="0.33" stop-color="#31ffcf"/><stop offset="0.42" stop-color="#40ffc0"/><stop offset="0.5" stop-color="#46ffba"/><stop offset="0.58" stop-color="#40ffc0"/><stop offset="0.67" stop-color="#30ffd0"/><stop offset="0.75" stop-color="#02fffd"/><stop offset="0.83" stop-color="#00b0db"/><stop offset="0.92" stop-color="#004bae"/><stop offset="1" stop-color="#000092"/></linearGradient>
<linearGradient id="gp343"><stop offset="0" stop-color="#005db3"/><stop offset="0.08" stop-color="#0092cd"/><stop offset="0.17" stop-color="#00d2ea"/><stop offset="0.25" stop-color="#0bfff4"/><stop offset="0.33" stop-color="#32ffce"/><stop offset="0.42" stop-color="#40ffc0"/><stop offset="0.5" stop-color="#47ffb9"/><stop offset="0.58" stop-color="#40ffc0"/><stop offset="0.67" stop-color="#30ffcf"/><stop offset="0.75" stop-color="#01fffe"/><stop offset="0.83" stop-color="#00adda"/><stop offset="0.92" stop-color="#0045ad"/><stop offset="1" stop-color="#000088"/></linearGradient>
<linearGradient id="gp344"><stop offset="0" stop-color="#005db3"/><stop offset="0.08" stop-color="#0092cd"/><stop offset="0.17" stop-color="#00d2ea"/><stop offset="0.25" stop-color="#0bfff4"/><stop offset="0.33" stop-color="#33ffcd"/><stop offset="0.42" stop-color="#41ffbf"/><stop offset="0.5" stop-color="#48ffb8"/><stop offset="0.58" stop-color="#41ffbf"/><stop offset="0.67" stop-color="#31ffcf"/><stop offset="0.75" stop-color="#01fffe"/><stop offset="0.83" stop-color="#00abd8"/><stop offset="0.92" stop-color="#003fac"/><stop offset="1" stop-color="#00007e"/></linearGradient>
<linearGradient id="gp345"><stop offset="0" stop-color="#005db3"/><stop offset="0.08" stop-color="#0092cd"/><stop offset="0.17" stop-color="#00d2ea"/><stop offset="0.25" stop-color="#0bfff4"/><stop offset="0.33" stop-color="#34ffcc"/><stop offset="0.42" stop-color="#42ffbe"/><stop offset="0.5" stop-color="#49ffb7"/><stop offset="0.58" stop-color="#42ffbe"/><stop offset="0.67" stop-color="#32ffce"/><stop offset="0.75" stop-color="#02fffd"/><stop offset="0.83" stop-color="#00add9"/><stop offset="0.92" stop-color="#0044ad"/><stop offset="1" stop-color="#000089"/></linearGradient>
<linearGradient id="gp346"><stop offset="0" stop-color="#005db3"/><stop offset="0.08" stop-color="#0092cd"/><stop offset="0.17" stop-color="#00d2ea"/><stop offset="0.25" stop-color="#0cfff3"/><stop offset="0.33" stop-color="#35ffcb"/><stop offset="0.42" stop-color="#43ffbd"/><stop offset="0.5" stop-color="#4bffb5"/><stop offset="0.58" stop-color="#43ffbd"/><stop offset="0.67" stop-color="#33ffcd"/><stop offset="0.75" stop-color="#03fffc"/><stop offset="0.83" stop-color="#00afda"/><stop offset="0.92" stop-color="#0049ae"/><stop offset="1" stop-color="#000096"/></linearGradient>
<linearGradient id="gp347"><stop offset="0" stop-color="#005db3"/><stop offset="0.08" stop-color="#0092cd"/><stop offset="0.17" stop-color="#00d2ea"/><stop offset="0.25" stop-color="#0cfff3"/><stop offset="0.33" stop-color="#36ffca"/><stop offset="0.42" stop-color="#45ffbb"/><stop offset="0.5" stop-color="#4dffb3"/><stop offset="0.58" stop-color="#45ffbb"/><stop offset="0.67" stop-color="#34ffcc"/><stop offset="0.75" stop-color="#04fffb"/><stop offset="0.83" stop-color="#00b2dc"/><stop offset="0.92" stop-color="#004faf"/><stop offset="1" stop-color="#00069c"/></linearGradient>
<linearGradient id="gp348"><stop offset="0" stop-color="#005db3"/><stop offset="0.08" stop-color="#0092cd"/><stop offset="0.17" stop-color="#00d2ea"/><stop offset="0.25" stop-color="#0cfff3"/><stop offset="0.33" stop-color="#36ffc9"/><stop offset="0.42" stop-color="#46ffba"/><stop offset="0.5" stop-color="#4effb2"/><stop offset="0.58" stop-color="#46ffba"/><stop offset="0.67" stop-color="#35ffcb"/><stop offset="0.75" stop-color="#05fffa"/><stop offset="0.83" stop-color="#00b4dd"/><stop offset="0.92" stop-color="#0055b1"/><stop offset="1" stop-color="#000e9e"/></linearGradient>
<linearGradient id="gp349"><stop offset="0" stop-color="#005db3"/><stop offset="0.08" stop-color="#0092cd"/><stop offset="0.17" stop-color="#00d2ea"/><stop offset="0.25" stop-color="#0dfff2"/><stop offset="0.33" stop-color="#37ffc9"/><stop offset="0.42" stop-color="#47ffb9"/><stop offset="0.5" stop-color="#50ffb0"/><stop offset="0.58" stop-color="#47ffb9"/><stop offset="0.67" stop-color="#36ffca"/><stop offset="0.75" stop-color="#06fff9"/><stop offset="0.83" stop-color="#00b7de"/><stop offset="0.92" stop-color="#005bb2"/><stop offset="1" stop-color="#0017a1"/></linearGradient>
<linearGradient id="gp350"><stop offset="0" stop-color="#005cb3"/><stop offset="0.08" stop-color="#0092cd"/><stop offset="0.17" stop-color="#00d3eb"/><stop offset="0.25" stop-color="#0efff2"/><stop offset="0.33" stop-color="#38ffc7"/><stop offset="0.42" stop-color="#48ffb8"/><stop offset="0.5" stop-color="#51ffaf"/><stop offset="0.58" stop-color="#48ffb8"/><stop offset="0.67" stop-color="#37ffc9"/><stop offset="0.75" stop-color="#07fff8"/><stop offset="0.83" stop-color="#00b8de"/><stop offset="0.92" stop-color="#005eb3"/><stop offset="1" stop-color="#001ca2"/></linearGradient>
<linearGradient id="gp351"><stop offset="0" stop-color="#005cb3"/><stop offset="0.08" stop-color="#0092cd"/><stop offset="0.17" stop-color="#00d3eb"/><stop offset="0.25" stop-color="#0efff1"/><stop offset="0.33" stop-color="#3affc6"/><stop offset="0.42" stop-color="#49ffb7"/><stop offset="0.5" stop-color="#53ffad"/><stop offset="0.58" stop-color="#49ffb7"/><stop offset="0.67" stop-color="#38ffc7"/><stop offset="0.75" stop-color="#08fff8"/><stop offset="0.83" stop-color="#00b9df"/><stop offset="0.92" stop-color="#0060b4"/><stop offset="1" stop-color="#0020a3"/></linearGradient>
<linearGradient id="gp352"><stop offset="0" stop-color="#005bb2"/><stop offset="0.08" stop-color="#0093cd"/><stop offset="0.17" stop-color="#00d4eb"/><stop offset="0.25" stop-color="#0ffff0"/><stop offset="0.33" stop-color="#3bffc5"/><stop offset="0.42" stop-color="#4affb6"/><stop offset="0.5" stop-color="#54ffac"/><stop offset="0.58" stop-color="#4affb6"/><stop offset="0.67" stop-color="#3affc6"/><stop offset="0.75" stop-color="#08fff7"/><stop offset="0.83" stop-color="#00bae0"/><stop offset="0.92" stop-color="#0062b4"/><stop offset="1" stop-color="#0024a5"/></linearGradient>
<linearGradient id="gp353"><stop offset="0" stop-color="#005bb2"/><stop offset="0.08" stop-color="#0093cd"/><stop offset="0.17" stop-color="#00d4eb"/><stop offset="0.25" stop-color="#10ffef"/><stop offset="0.33" stop-color="#3cffc4"/><stop offset="0.42" stop-color="#4cffb4"/><stop offset="0.5" stop-color="#56ffaa"/><stop offset="0.58" stop-color="#4cffb4"/><stop offset="0.67" stop-color="#3bffc5"/><stop offset="0.75" stop-color="#09fff6"/><stop offset="0.83" stop-color="#00bbe0"/><stop offset="0.92" stop-color="#0065b5"/><stop offset="1" stop-color="#0029a6"/></linearGradient>
<linearGradient id="gp354"><stop offset="0" stop-color="#005ab2"/><stop offset="0.08" stop-color="#0093cd"/><stop offset="0.17" stop-color="#00d5ec"/><stop offset="0.25" stop-color="#11ffee"/><stop offset="0.33" stop-color="#3dffc3"/><stop offset="0.42" stop-color="#4dffb3"/><stop offset="0.5" stop-color="#57ffa9"/><stop offset="0.58" stop-color="#4dffb3"/><stop offset="0.67" stop-color="#3cffc4"/><stop offset="0.75" stop-color="#0afff5"/><stop offset="0.83" stop-color="#00bde1"/><stop offset="0.92" stop-color="#0067b6"/><stop offset="1" stop-color="#002da7"/></linearGradient>
<linearGradient id="gp355"><stop offset="0" stop-color="#0059b2"/><stop offset="0.08" stop-color="#0093cd"/><stop offset="0.17" stop-color="#00d5ec"/><stop offset="0.25" stop-color="#12ffee"/><stop offset="0.33" stop-color="#3effc2"/><stop offset="0.42" stop-color="#4effb2"/><stop offset="0.5" stop-color="#58ffa8"/><stop offset="0.58" stop-color="#4effb2"/><stop offset="0.67" stop-color="#3dffc3"/><stop offset="0.75" stop-color="#0bfff4"/><stop offset="0.83" stop-color="#00bee1"/><stop offset="0.92" stop-color="#0069b8"/><stop offset="1" stop-color="#0031a8"/></linearGradient>
<linearGradient id="gp356"><stop offset="0" stop-color="#0059b2"/><stop offset="0.08" stop-color="#0093cd"/><stop offset="0.17" stop-color="#00d6ec"/><stop offset="0.25" stop-color="#12ffed"/><stop offset="0.33" stop-color="#3fffc1"/><stop offset="0.42" stop-color="#4fffb1"/><stop offset="0.5" stop-color="#5affa6"/><stop offset="0.58" stop-color="#4fffb1"/><stop offset="0.67" stop-color="#3effc2"/><stop offset="0.75" stop-color="#0cfff4"/><stop offset="0.83" stop-color="#00bfe2"/><stop offset="0.92" stop-color="#006bb9"/><stop offset="1" stop-color="#0035a9"/></linearGradient>
<linearGradient id="gp357"><stop offset="0" stop-color="#0058b2"/><stop offset="0.08" stop-color="#0093cd"/><stop offset="0.17" stop-color="#00d6ec"/><stop offset="0.25" stop-color="#13ffec"/><stop offset="0.33" stop-color="#40ffc0"/><stop offset="0.42" stop-color="#50ffb0"/><stop offset="0.5" stop-color="#5bffa5"/><stop offset="0.58" stop-color="#50ffb0"/><stop offset="0.67" stop-color="#3fffc1"/><stop offset="0.75" stop-color="#0cfff3"/><stop offset="0.83" stop-color="#00c0e2"/><stop offset="0.92" stop-color="#006dba"/><stop offset="1" stop-color="#0038aa"/></linearGradient>
<linearGradient id="gp358"><stop offset="0" stop-color="#0058b2"/><stop offset="0.08" stop-color="#0092cd"/><stop offset="0.17" stop-color="#00d7ec"/><stop offset="0.25" stop-color="#14ffec"/><stop offset="0.33" stop-color="#41ffbf"/><stop offset="0.42" stop-color="#51ffaf"/><stop offset="0.5" stop-color="#5dffa3"/><stop offset="0.58" stop-color="#51ffaf"/><stop offset="0.67" stop-color="#40ffc0"/><stop offset="0.75" stop-color="#0dfff2"/><stop offset="0.83" stop-color="#00c1e2"/><stop offset="0.92" stop-color="#006fbb"/><stop offset="1" stop-color="#003bab"/></linearGradient>
<linearGradient id="gp359"><stop offset="0" stop-color="#0057b1"/><stop offset="0.08" stop-color="#0092cd"/><stop offset="0.17" stop-color="#00d6ec"/><stop offset="0.25" stop-color="#14ffeb"/><stop offset="0.33" stop-color="#42ffbe"/><stop offset="0.42" stop-color="#52ffae"/><stop offset="0.5" stop-color="#5effa2"/><stop offset="0.58" stop-color="#52ffae"/><stop offset="0.67" stop-color="#41ffbf"/><stop offset="0.75" stop-color="#0dfff2"/><stop offset="0.83" stop-color="#00c1e3"/><stop offset="0.92" stop-color="#0070bb"/><stop offset="1" stop-color="#003cab"/></linearGradient>
<linearGradient id="gp360"><stop offset="0" stop-color="#0057b1"/><stop offset="0.08" stop-color="#0091cd"/><stop offset="0.17" stop-color="#00d6ec"/><stop offset="0.25" stop-color="#14ffeb"/><stop offset="0.33" stop-color="#43ffbd"/><stop offset="0.42" stop-color="#53ffad"/><stop offset="0.5" stop-color="#5fffa1"/><stop offset="0.58" stop-color="#53ffad"/><stop offset="0.67" stop-color="#42ffbe"/><stop offset="0.75" stop-color="#0efff2"/><stop offset="0.83" stop-color="#00c1e3"/><stop offset="0.92" stop-color="#0071bc"/><stop offset="1" stop-color="#003eab"/></linearGradient>
<linearGradient id="gp361"><stop offset="0" stop-color="#0056b1"/><stop offset="0.08" stop-color="#0091cc"/><stop offset="0.17" stop-color="#00d6ec"/><stop offset="0.25" stop-color="#15ffea"/><stop offset="0.33" stop-color="#43ffbd"/><stop offset="0.42" stop-color="#54ffac"/><stop offset="0.5" stop-color="#60ffa0"/><stop offset="0.58" stop-color="#54ffac"/><stop offset="0.67" stop-color="#43ffbd"/><stop offset="0.75" stop-color="#0efff1"/><stop offset="0.83" stop-color="#00c2e3"/><stop offset="0.92" stop-color="#0071bc"/><stop offset="1" stop-color="#003fac"/></linearGradient>
<linearGradient id="gp362"><stop offset="0" stop-color="#0056b1"/><stop offset="0.08" stop-color="#0090cc"/><stop offset="0.17" stop-color="#00d6ec"/><stop offset="0.25" stop-color="#15ffea"/><stop offset="0.33" stop-color="#44ffbc"/><stop offset="0.42" stop-color="#55ffab"/><stop offset="0.5" stop-color="#61ff9f"/><stop offset="0.58" stop-color="#55ffab"/><stop offset="0.67" stop-color="#43ffbd"/><stop offset="0.75" stop-color="#0efff1"/><stop offset="0.83" stop-color="#00c2e3"/><stop offset="0.92" stop-color="#0072bd"/><stop offset="1" stop-color="#0041ac"/></linearGradient>
<linearGradient id="gp363"><stop offset="0" stop-color="#0055b1"/><stop offset="0.08" stop-color="#0090cc"/><stop offset="0.17" stop-color="#00d6ec"/><stop offset="0.25" stop-color="#16ffea"/><stop offset="0.33" stop-color="#45ffbb"/><stop offset="0.42" stop-color="#56ffaa"/><stop offset="0.5" stop-color="#63ff9d"/><stop offset="0.58" stop-color="#56ffaa"/><stop offset="0.67" stop-color="#44ffbc"/><stop offset="0.75" stop-color="#0ffff1"/><stop offset="0.83" stop-color="#00c2e3"/><stop offset="0.92" stop-color="#0073bd"/><stop offset="1" stop-color="#0042ac"/></linearGradient>
<linearGradient id="gp364"><stop offset="0" stop-color="#0055b1"/><stop offset="0.08" stop-color="#008fcc"/><stop offset="0.17" stop-color="#00d6ec"/><stop offset="0.25" stop-color="#16ffe9"/><stop offset="0.33" stop-color="#46ffba"/><stop offset="0.42" stop-color="#57ffa9"/><stop offset="0.5" stop-color="#64ff9c"/><stop offset="0.58" stop-color="#57ffa9"/><stop offset="0.67" stop-color="#45ffbb"/><stop offset="0.75" stop-color="#0ffff0"/><stop offset="0.83" stop-color="#00c2e3"/><stop offset="0.92" stop-color="#0074bd"/><stop offset="1" stop-color="#0044ad"/></linearGradient>
<linearGradient id="gp365"><stop offset="0" stop-color="#0054b1"/><stop offset="0.08" stop-color="#008fcb"/><stop offset="0.17" stop-color="#00d5ec"/><stop offset="0.25" stop-color="#16ffe9"/><stop offset="0.33" stop-color="#46ffba"/><stop offset="0.42" stop-color="#58ffa8"/><stop offset="0.5" stop-color="#65ff9b"/><stop offset="0.58" stop-color="#58ffa8"/><stop offset="0.67" stop-color="#45ffbb"/><stop offset="0.75" stop-color="#0ffff0"/><stop offset="0.83" stop-color="#00c3e3"/><stop offset="0.92" stop-color="#0075be"/><stop offset="1" stop-color="#0045ad"/></linearGradient>
<linearGradient id="gp366"><stop offset="0" stop-color="#0054b1"/><stop offset="0.08" stop-color="#008ecb"/><stop offset="0.17" stop-color="#00d5ec"/><stop offset="0.25" stop-color="#17ffe9"/><stop offset="0.33" stop-color="#47ffb9"/><stop offset="0.42" stop-color="#59ffa7"/><stop offset="0.5" stop-color="#66ff9a"/><stop offset="0.58" stop-color="#59ffa7"/><stop offset="0.67" stop-color="#46ffba"/><stop offset="0.75" stop-color="#10fff0"/><stop offset="0.83" stop-color="#00c3e4"/><stop offset="0.92" stop-color="#0076be"/><stop offset="1" stop-color="#0047ad"/></linearGradient>
<linearGradient id="gp367"><stop offset="0" stop-color="#0053b0"/><stop offset="0.08" stop-color="#008ecb"/><stop offset="0.17" stop-color="#00d5ec"/><stop offset="0.25" stop-color="#17ffe8"/><stop offset="0.33" stop-color="#48ffb8"/><stop offset="0.42" stop-color="#5affa6"/><stop offset="0.5" stop-color="#67ff99"/><stop offset="0.58" stop-color="#5affa6"/><stop offset="0.67" stop-color="#47ffb9"/><stop offset="0.75" stop-color="#10ffef"/><stop offset="0.83" stop-color="#00c3e4"/><stop offset="0.92" stop-color="#0077bf"/><stop offset="1" stop-color="#0048ae"/></linearGradient>
<linearGradient id="gp368"><stop offset="0" stop-color="#0052b0"/><stop offset="0.08" stop-color="#008ecb"/><stop offset="0.17" stop-color="#00d5ec"/><stop offset="0.25" stop-color="#17ffe8"/><stop offset="0.33" stop-color="#48ffb8"/><stop offset="0.42" stop-color="#5bffa5"/><stop offset="0.5" stop-color="#69ff97"/><stop offset="0.58" stop-color="#5bffa5"/><stop offset="0.67" stop-color="#48ffb8"/><stop offset="0.75" stop-color="#11ffef"/><stop offset="0.83" stop-color="#00c4e4"/><stop offset="0.92" stop-color="#0078c0"/><stop offset="1" stop-color="#004bae"/></linearGradient>
<linearGradient id="gp369"><stop offset="0" stop-color="#0050b0"/><stop offset="0.08" stop-color="#008dcb"/><stop offset="0.17" stop-color="#00d5ec"/><stop offset="0.25" stop-color="#18ffe7"/><stop offset="0.33" stop-color="#49ffb7"/><stop offset="0.42" stop-color="#5cffa4"/><stop offset="0.5" stop-color="#6aff96"/><stop offset="0.58" stop-color="#5cffa4"/><stop offset="0.67" stop-color="#48ffb8"/><stop offset="0.75" stop-color="#11ffee"/><stop offset="0.83" stop-color="#00c5e4"/><stop offset="0.92" stop-color="#007ac1"/><stop offset="1" stop-color="#004eaf"/></linearGradient>
<linearGradient id="gp370"><stop offset="0" stop-color="#004eaf"/><stop offset="0.08" stop-color="#008dca"/><stop offset="0.17" stop-color="#00d6ec"/><stop offset="0.25" stop-color="#19ffe7"/><stop offset="0.33" stop-color="#4affb6"/><stop offset="0.42" stop-color="#5dffa3"/><stop offset="0.5" stop-color="#6bff95"/><stop offset="0.58" stop-color="#5dffa3"/><stop offset="0.67" stop-color="#49ffb7"/><stop offset="0.75" stop-color="#12ffed"/><stop offset="0.83" stop-color="#00c6e5"/><stop offset="0.92" stop-color="#007cc1"/><stop offset="1" stop-color="#0051b0"/></linearGradient>
<linearGradient id="gp371"><stop offset="0" stop-color="#004caf"/><stop offset="0.08" stop-color="#008cca"/><stop offset="0.17" stop-color="#00d6ec"/><stop offset="0.25" stop-color="#19ffe6"/><stop offset="0.33" stop-color="#4bffb5"/><stop offset="0.42" stop-color="#5effa2"/><stop offset="0.5" stop-color="#6cff94"/><stop offset="0.58" stop-color="#5effa2"/><stop offset="0.67" stop-color="#4affb6"/><stop offset="0.75" stop-color="#13ffed"/><stop offset="0.83" stop-color="#00c7e6"/><stop offset="0.92" stop-color="#007ec2"/><stop offset="1" stop-color="#0054b1"/></linearGradient>
<linearGradient id="gp372"><stop offset="0" stop-color="#004aae"/><stop offset="0.08" stop-color="#008cca"/><stop offset="0.17" stop-color="#00d6ec"/><stop offset="0.25" stop-color="#1affe5"/><stop offset="0.33" stop-color="#4bffb5"/><stop offset="0.42" stop-color="#5fffa1"/><stop offset="0.5" stop-color="#6dff93"/><stop offset="0.58" stop-color="#5fffa1"/><stop offset="0.67" stop-color="#4bffb5"/><stop offset="0.75" stop-color="#13ffec"/><stop offset="0.83" stop-color="#00c8e6"/><stop offset="0.92" stop-color="#007fc3"/><stop offset="1" stop-color="#0057b1"/></linearGradient>
<linearGradient id="gp373"><stop offset="0" stop-color="#0048ae"/><stop offset="0.08" stop-color="#008bca"/><stop offset="0.17" stop-color="#00d6ec"/><stop offset="0.25" stop-color="#1bffe5"/><stop offset="0.33" stop-color="#4cffb4"/><stop offset="0.42" stop-color="#60ffa0"/><stop offset="0.5" stop-color="#6fff91"/><stop offset="0.58" stop-color="#60ffa0"/><stop offset="0.67" stop-color="#4bffb5"/><stop offset="0.75" stop-color="#14ffeb"/><stop offset="0.83" stop-color="#00cae7"/><stop offset="0.92" stop-color="#0081c4"/><stop offset="1" stop-color="#005ab2"/></linearGradient>
<linearGradient id="gp374"><stop offset="0" stop-color="#0046ad"/><stop offset="0.08" stop-color="#008bc9"/><stop offset="0.17" stop-color="#00d7ed"/><stop offset="0.25" stop-color="#1bffe4"/><stop offset="0.33" stop-color="#4dffb3"/><stop offset="0.42" stop-color="#61ff9f"/><stop offset="0.5" stop-color="#70ff90"/><stop offset="0.58" stop-color="#61ff9f"/><stop offset="0.67" stop-color="#4cffb4"/><stop offset="0.75" stop-color="#15ffeb"/><stop offset="0.83" stop-color="#00cbe7"/><stop offset="0.92" stop-color="#0083c5"/><stop offset="1" stop-color="#005db3"/></linearGradient>
<linearGradient id="gp375"><stop offset="0" stop-color="#0044ad"/><stop offset="0.08" stop-color="#008bc9"/><stop offset="0.17" stop-color="#00d7ed"/><stop offset="0.25" stop-color="#1cffe3"/><stop offset="0.33" stop-color="#4effb2"/><stop offset="0.42" stop-color="#62ff9e"/><stop offset="0.5" stop-color="#71ff8f"/><stop offset="0.58" stop-color="#62ff9e"/><stop offset="0.67" stop-color="#4dffb3"/><stop offset="0.75" stop-color="#15ffea"/><stop offset="0.83" stop-color="#00cce8"/><stop offset="0.92" stop-color="#0085c6"/><stop offset="1" stop-color="#0060b3"/></linearGradient>
<linearGradient id="gp376"><stop offset="0" stop-color="#0042ac"/><stop offset="0.08" stop-color="#008ac9"/><stop offset="0.17" stop-color="#00d7ed"/><stop offset="0.25" stop-color="#1dffe3"/><stop offset="0.33" stop-color="#4effb2"/><stop offset="0.42" stop-color="#63ff9d"/><stop offset="0.5" stop-color="#72ff8e"/><stop offset="0.58" stop-color="#63ff9d"/><stop offset="0.67" stop-color="#4effb2"/><stop offset="0.75" stop-color="#16ffe9"/><stop offset="0.83" stop-color="#00cde8"/><stop offset="0.92" stop-color="#0087c7"/><stop offset="1" stop-color="#0063b4"/></linearGradient>
<linearGradient id="gp377"><stop offset="0" stop-color="#0040ac"/><stop offset="0.08" stop-color="#008ac9"/><stop offset="0.17" stop-color="#00d8ed"/><stop offset="0.25" stop-color="#1effe2"/><stop offset="0.33" stop-color="#4fffb1"/><stop offset="0.42" stop-color="#64ff9c"/><stop offset="0.5" stop-color="#73ff8d"/><stop offset="0.58" stop-color="#64ff9c"/><stop offset="0.67" stop-color="#4effb2"/><stop offset="0.75" stop-color="#17ffe9"/><stop offset="0.83" stop-color="#00cee9"/><stop offset="0.92" stop-color="#0088c8"/><stop offset="1" stop-color="#0065b6"/></linearGradient>
<linearGradient id="gp378"><stop offset="0" stop-color="#0041ac"/><stop offset="0.08" stop-color="#008bc9"/><stop offset="0.17" stop-color="#00d8ed"/><stop offset="0.25" stop-color="#1effe1"/><stop offset="0.33" stop-color="#50ffb0"/><stop offset="0.42" stop-color="#65ff9b"/><stop offset="0.5" stop-color="#75ff8b"/><stop offset="0.58" stop-color="#65ff9b"/><stop offset="0.67" stop-color="#4fffb1"/><stop offset="0.75" stop-color="#18ffe8"/><stop offset="0.83" stop-color="#00d0e9"/><stop offset="0.92" stop-color="#008bc9"/><stop offset="1" stop-color="#0069b8"/></linearGradient>
<linearGradient id="gp379"><stop offset="0" stop-color="#0045ad"/><stop offset="0.08" stop-color="#008dca"/><stop offset="0.17" stop-color="#00daee"/><stop offset="0.25" stop-color="#1fffe0"/><stop offset="0.33" stop-color="#51ffaf"/><stop offset="0.42" stop-color="#66ff9a"/><stop offset="0.5" stop-color="#76ff8a"/><stop offset="0.58" stop-color="#66ff9a"/><stop offset="0.67" stop-color="#50ffb0"/><stop offset="0.75" stop-color="#19ffe6"/><stop offset="0.83" stop-color="#00d2eb"/><stop offset="0.92" stop-color="#008ecb"/><stop offset="1" stop-color="#006dba"/></linearGradient>
<linearGradient id="gp380"><stop offset="0" stop-color="#0048ae"/><stop offset="0.08" stop-color="#008fcc"/><stop offset="0.17" stop-color="#00dbef"/><stop offset="0.25" stop-color="#20ffdf"/><stop offset="0.33" stop-color="#52ffae"/><stop offset="0.42" stop-color="#67ff99"/><stop offset="0.5" stop-color="#77ff89"/><stop offset="0.58" stop-color="#67ff99"/><stop offset="0.67" stop-color="#51ffaf"/><stop offset="0.75" stop-color="#1affe5"/><stop offset="0.83" stop-color="#00d5ec"/><stop offset="0.92" stop-color="#0092cd"/><stop offset="1" stop-color="#0071bc"/></linearGradient>
<linearGradient id="gp381"><stop offset="0" stop-color="#004caf"/><stop offset="0.08" stop-color="#0092cd"/><stop offset="0.17" stop-color="#00ddef"/><stop offset="0.25" stop-color="#21ffdf"/><stop offset="0.33" stop-color="#53ffad"/><stop offset="0.42" stop-color="#68ff98"/><stop offset="0.5" stop-color="#78ff88"/><stop offset="0.58" stop-color="#68ff98"/><stop offset="0.67" stop-color="#52ffae"/><stop offset="0.75" stop-color="#1cffe4"/><stop offset="0.83" stop-color="#00d7ed"/><stop offset="0.92" stop-color="#0096cf"/><stop offset="1" stop-color="#0075be"/></linearGradient>
<linearGradient id="gp382"><stop offset="0" stop-color="#0050b0"/><stop offset="0.08" stop-color="#0094ce"/><stop offset="0.17" stop-color="#00def0"/><stop offset="0.25" stop-color="#22ffde"/><stop offset="0.33" stop-color="#54ffac"/><stop offset="0.42" stop-color="#69ff97"/><stop offset="0.5" stop-color="#79ff87"/><stop offset="0.58" stop-color="#69ff97"/><stop offset="0.67" stop-color="#53ffad"/><stop offset="0.75" stop-color="#1dffe3"/><stop offset="0.83" stop-color="#00daee"/><stop offset="0.92" stop-color="#009ad0"/><stop offset="1" stop-color="#0079c0"/></linearGradient>
<linearGradient id="gp383"><stop offset="0" stop-color="#0054b1"/><stop offset="0.08" stop-color="#0097cf"/><stop offset="0.17" stop-color="#00e0f1"/><stop offset="0.25" stop-color="#23ffdd"/><stop offset="0.33" stop-color="#55ffab"/><stop offset="0.42" stop-color="#6aff96"/><stop offset="0.5" stop-color="#7aff86"/><stop offset="0.58" stop-color="#6aff96"/><stop offset="0.67" stop-color="#54ffac"/><stop offset="0.75" stop-color="#1effe1"/><stop offset="0.83" stop-color="#00dcef"/><stop offset="0.92" stop-color="#009ed2"/><stop offset="1" stop-color="#007dc2"/></linearGradient>
<linearGradient id="gp384"><stop offset="0" stop-color="#0057b1"/><stop offset="0.08" stop-color="#0099d0"/><stop offset="0.17" stop-color="#00e1f1"/><stop offset="0.25" stop-color="#23ffdc"/><stop offset="0.33" stop-color="#56ffaa"/><stop offset="0.42" stop-color="#6bff95"/><stop offset="0.5" stop-color="#7bff85"/><stop offset="0.58" stop-color="#6bff95"/><stop offset="0.67" stop-color="#55ffab"/><stop offset="0.75" stop-color="#1fffe0"/><stop offset="0.83" stop-color="#00def0"/><stop offset="0.92" stop-color="#00a1d4"/><stop offset="1" stop-color="#0081c4"/></linearGradient>
<linearGradient id="gp385"><stop offset="0" stop-color="#005bb2"/><stop offset="0.08" stop-color="#009cd1"/><stop offset="0.17" stop-color="#00e2f2"/><stop offset="0.25" stop-color="#24ffdb"/><stop offset="0.33" stop-color="#57ffa9"/><stop offset="0.42" stop-color="#6cff94"/><stop offset="0.5" stop-color="#7cff84"/><stop offset="0.58" stop-color="#6cff94"/><stop offset="0.67" stop-color="#56ffaa"/><stop offset="0.75" stop-color="#21ffdf"/><stop offset="0.83" stop-color="#00e1f1"/><stop offset="0.92" stop-color="#00a5d6"/><stop offset="1" stop-color="#0085c6"/></linearGradient>
<linearGradient id="gp386"><stop offset="0" stop-color="#005db3"/><stop offset="0.08" stop-color="#009dd2"/><stop offset="0.17" stop-color="#00e3f2"/><stop offset="0.25" stop-color="#25ffdb"/><stop offset="0.33" stop-color="#57ffa9"/><stop offset="0.42" stop-color="#6cff94"/><stop offset="0.5" stop-color="#7cff84"/><stop offset="0.58" stop-color="#6cff94"/><stop offset="0.67" stop-color="#57ffa9"/><stop offset="0.75" stop-color="#21ffde"/><stop offset="0.83" stop-color="#00e2f2"/><stop offset="0.92" stop-color="#00a7d7"/><stop offset="1" stop-color="#0087c7"/></linearGradient>
<linearGradient id="gp387"><stop offset="0" stop-color="#005db3"/><stop offset="0.08" stop-color="#009dd2"/><stop offset="0.17" stop-color="#00e3f2"/><stop offset="0.25" stop-color="#25ffdb"/><stop offset="0.33" stop-color="#57ffa9"/><stop offset="0.42" stop-color="#6cff94"/><stop offset="0.5" stop-color="#7cff84"/><stop offset="0.58" stop-color="#6cff94"/><stop offset="0.67" stop-color="#57ffa9"/><stop offset="0.75" stop-color="#21ffde"/><stop offset="0.83" stop-color="#00e2f2"/><stop offset="0.92" stop-color="#00a7d7"/><stop offset="1" stop-color="#0087c7"/></linearGradient>
</defs>
<g clip-path="url(#cp1)"><g filter="url(#bl)">
<rect x="61.1" y="57" width="102.1" height="3.6" fill="url(#gp10)"/>
<rect x="61.1" y="60" width="102.1" height="3.6" fill="url(#gp11)"/>
<rect x="61.1" y="63" width="102.1" height="3.6" fill="url(#gp12)"/>
<rect x="61.1" y="66" width="102.1" height="3.6" fill="url(#gp13)"/>
<rect x="61.1" y="69" width="102.1" height="3.6" fill="url(#gp14)"/>
<rect x="61.1" y="72" width="102.1" height="3.6" fill="url(#gp15)"/>
<rect x="61.1" y="75" width="102.1" height="3.6" fill="url(#gp16)"/>
<rect x="61.1" y="78" width="102.1" height="3.6" fill="url(#gp17)"/>
<rect x="61.1" y="81" width="102.1" height="3.6" fill="url(#gp18)"/>
<rect x="61.1" y="84" width="102.1" height="3.6" fill="url(#gp19)"/>
<rect x="61.1" y="87" width="102.1" height="3.6" fill="url(#gp110)"/>
<rect x="61.1" y="90" width="102.1" height="3.6" fill="url(#gp111)"/>
<rect x="61.1" y="93" width="102.1" height="3.6" fill="url(#gp112)"/>
<rect x="61.1" y="96" width="102.1" height="3.6" fill="url(#gp113)"/>
<rect x="61.1" y="99" width="102.1" height="3.6" fill="url(#gp114)"/>
<rect x="61.1" y="102" width="102.1" height="3.6" fill="url(#gp115)"/>
<rect x="61.1" y="105" width="102.1" height="3.6" fill="url(#gp116)"/>
<rect x="61.1" y="108" width="102.1" height="3.6" fill="url(#gp117)"/>
<rect x="61.1" y="111" width="102.1" height="3.6" fill="url(#gp118)"/>
<rect x="61.1" y="114" width="102.1" height="3.6" fill="url(#gp119)"/>
<rect x="61.1" y="117" width="102.1" height="3.6" fill="url(#gp120)"/>
<rect x="61.1" y="120" width="102.1" height="3.6" fill="url(#gp121)"/>
<rect x="61.1" y="123" width="102.1" height="3.6" fill="url(#gp122)"/>
<rect x="61.1" y="126" width="102.1" height="3.6" fill="url(#gp123)"/>
<rect x="61.1" y="129" width="102.1" height="3.6" fill="url(#gp124)"/>
<rect x="61.1" y="132" width="102.1" height="3.6" fill="url(#gp125)"/>
<rect x="61.1" y="135" width="102.1" height="3.6" fill="url(#gp126)"/>
<rect x="61.1" y="138" width="102.1" height="3.6" fill="url(#gp127)"/>
<rect x="61.1" y="141" width="102.1" height="3.6" fill="url(#gp128)"/>
<rect x="61.1" y="144" width="102.1" height="3.6" fill="url(#gp129)"/>
<rect x="61.1" y="147" width="102.1" height="3.6" fill="url(#gp130)"/>
<rect x="61.1" y="150" width="102.1" height="3.6" fill="url(#gp131)"/>
<rect x="61.1" y="153" width="102.1" height="3.6" fill="url(#gp132)"/>
<rect x="61.1" y="156" width="102.1" height="3.6" fill="url(#gp133)"/>
<rect x="61.1" y="159" width="102.1" height="3.6" fill="url(#gp134)"/>
<rect x="61.1" y="162" width="102.1" height="3.6" fill="url(#gp135)"/>
<rect x="61.1" y="165" width="102.1" height="3.6" fill="url(#gp136)"/>
<rect x="61.1" y="168" width="102.1" height="3.6" fill="url(#gp137)"/>
<rect x="61.1" y="171" width="102.1" height="3.6" fill="url(#gp138)"/>
<rect x="61.1" y="174" width="102.1" height="3.6" fill="url(#gp139)"/>
<rect x="61.1" y="177" width="102.1" height="3.6" fill="url(#gp140)"/>
<rect x="61.1" y="180" width="102.1" height="3.6" fill="url(#gp141)"/>
<rect x="61.1" y="183" width="102.1" height="3.6" fill="url(#gp142)"/>
<rect x="61.1" y="186" width="102.1" height="3.6" fill="url(#gp143)"/>
<rect x="61.1" y="189" width="102.1" height="3.6" fill="url(#gp144)"/>
<rect x="61.1" y="192" width="102.1" height="3.6" fill="url(#gp145)"/>
<rect x="61.1" y="195" width="102.1" height="3.6" fill="url(#gp146)"/>
<rect x="61.1" y="198" width="102.1" height="3.6" fill="url(#gp147)"/>
<rect x="61.1" y="201" width="102.1" height="3.6" fill="url(#gp148)"/>
<rect x="61.1" y="204" width="102.1" height="3.6" fill="url(#gp149)"/>
<rect x="61.1" y="207" width="102.1" height="3.6" fill="url(#gp150)"/>
<rect x="61.1" y="210" width="102.1" height="3.6" fill="url(#gp151)"/>
<rect x="61.1" y="213" width="102.1" height="3.6" fill="url(#gp152)"/>
<rect x="61.1" y="216" width="102.1" height="3.6" fill="url(#gp153)"/>
<rect x="61.1" y="219" width="102.1" height="3.6" fill="url(#gp154)"/>
<rect x="61.1" y="222" width="102.1" height="3.6" fill="url(#gp155)"/>
<rect x="61.1" y="225" width="102.1" height="3.6" fill="url(#gp156)"/>
<rect x="61.1" y="228" width="102.1" height="3.6" fill="url(#gp157)"/>
<rect x="61.1" y="231" width="102.1" height="3.6" fill="url(#gp158)"/>
<rect x="61.1" y="234" width="102.1" height="3.6" fill="url(#gp159)"/>
<rect x="61.1" y="237" width="102.1" height="3.6" fill="url(#gp160)"/>
<rect x="61.1" y="240" width="102.1" height="3.6" fill="url(#gp161)"/>
<rect x="61.1" y="243" width="102.1" height="3.6" fill="url(#gp162)"/>
<rect x="61.1" y="246" width="102.1" height="3.6" fill="url(#gp163)"/>
<rect x="61.1" y="249" width="102.1" height="3.6" fill="url(#gp164)"/>
<rect x="61.1" y="252" width="102.1" height="3.6" fill="url(#gp165)"/>
<rect x="61.1" y="255" width="102.1" height="3.6" fill="url(#gp166)"/>
<rect x="61.1" y="258" width="102.1" height="3.6" fill="url(#gp167)"/>
<rect x="61.1" y="261" width="102.1" height="3.6" fill="url(#gp168)"/>
<rect x="61.1" y="264" width="102.1" height="3.6" fill="url(#gp169)"/>
<rect x="61.1" y="267" width="102.1" height="3.6" fill="url(#gp170)"/>
<rect x="61.1" y="270" width="102.1" height="3.6" fill="url(#gp171)"/>
<rect x="61.1" y="273" width="102.1" height="3.6" fill="url(#gp172)"/>
<rect x="61.1" y="276" width="102.1" height="3.6" fill="url(#gp173)"/>
<rect x="61.1" y="279" width="102.1" height="3.6" fill="url(#gp174)"/>
<rect x="61.1" y="282" width="102.1" height="3.6" fill="url(#gp175)"/>
<rect x="61.1" y="285" width="102.1" height="3.6" fill="url(#gp176)"/>
<rect x="61.1" y="288" width="102.1" height="3.6" fill="url(#gp177)"/>
<rect x="61.1" y="291" width="102.1" height="3.6" fill="url(#gp178)"/>
<rect x="61.1" y="294" width="102.1" height="3.6" fill="url(#gp179)"/>
<rect x="61.1" y="297" width="102.1" height="3.6" fill="url(#gp180)"/>
<rect x="61.1" y="300" width="102.1" height="3.6" fill="url(#gp181)"/>
<rect x="61.1" y="303" width="102.1" height="3.6" fill="url(#gp182)"/>
<rect x="61.1" y="306" width="102.1" height="3.6" fill="url(#gp183)"/>
<rect x="61.1" y="309" width="102.1" height="3.6" fill="url(#gp184)"/>
<rect x="61.1" y="312" width="102.1" height="3.6" fill="url(#gp185)"/>
</g>
</g>
<path d="M76.66 64.25V61.88M83.09 64.25V61.54M89.52 64.25V61.42M95.95 64.25V61.31M102.38 64.25V61.24M108.81 64.25V61.18M115.24 64.25V61.18M121.67 64.25V61.24M128.1 64.25V61.3M134.53 64.25V61.44M140.96 64.25V61.57M147.39 64.25V62.01M153.82 64.25V62.44M70.23 70.64V68.65M76.66 70.64V68.27M83.09 70.64V67.93M89.52 70.64V67.81M95.95 70.64V67.69M102.38 70.64V67.62M108.81 70.64V67.56M115.24 70.64V67.56M121.67 70.64V67.62M128.1 70.64V67.69M134.53 70.64V67.83M140.96 70.64V67.97M147.39 70.64V68.42M153.82 70.64V68.85M160.25 70.64V69.12M63.8 77.03V75.29M70.23 77.03V75.05M76.66 77.03V74.67M83.09 77.03V74.32M89.52 77.03V74.19M95.95 77.03V74.07M102.38 77.03V74M108.81 77.03V73.94M115.24 77.03V73.94M121.67 77.03V74M128.1 77.03V74.07M134.53 77.03V74.22M140.96 77.03V74.36M147.39 77.03V74.83M153.82 77.03V75.27M160.25 77.03V75.53M63.8 83.42V81.7M70.23 83.42V81.46M76.66 83.42V81.07M83.09 83.42V80.7M89.52 83.42V80.58M95.95 83.42V80.45M102.38 83.42V80.38M108.81 83.42V80.32M115.24 83.42V80.32M121.67 83.42V80.38M128.1 83.42V80.45M134.53 83.42V80.6M140.96 83.42V80.76M147.39 83.42V81.24M153.82 83.42V81.69M160.25 83.42V81.93M63.8 89.81V88.11M70.23 89.81V87.86M76.66 89.81V87.47M83.09 89.81V87.09M89.52 89.81V86.96M95.95 89.81V86.83M102.38 89.81V86.76M108.81 89.81V86.71M115.24 89.81V86.7M121.67 89.81V86.76M128.1 89.81V86.83M134.53 89.81V86.99M140.96 89.81V87.16M147.39 89.81V87.64M153.82 89.81V88.09M160.25 89.81V88.33M63.8 96.2V94.51M70.23 96.2V94.26M76.66 96.2V93.86M83.09 96.2V93.48M89.52 96.2V93.35M95.95 96.2V93.21M102.38 96.2V93.15M108.81 96.2V93.09M115.24 96.2V93.09M121.67 96.2V93.14M128.1 96.2V93.21M134.53 96.2V93.38M140.96 96.2V93.54M147.39 96.2V94.02M153.82 96.2V94.47M160.25 96.2V94.71M63.8 102.59V100.91M70.23 102.59V100.65M76.66 102.59V100.26M83.09 102.59V99.87M89.52 102.59V99.74M95.95 102.59V99.6M102.38 102.59V99.53M108.81 102.59V99.47M115.24 102.59V99.47M121.67 102.59V99.53M128.1 102.59V99.59M134.53 102.59V99.76M140.96 102.59V99.92M147.39 102.59V100.4M153.82 102.59V100.85M160.25 102.59V101.09M63.8 108.98V107.31M70.23 108.98V107.05M76.66 108.98V106.65M83.09 108.98V106.26M89.52 108.98V106.12M95.95 108.98V105.98M102.38 108.98V105.91M108.81 108.98V105.86M115.24 108.98V105.85M121.67 108.98V105.91M128.1 108.98V105.98M134.53 108.98V106.14M140.96 108.98V106.31M147.39 108.98V106.78M153.82 108.98V107.23M160.25 108.98V107.47M63.8 115.37V113.72M70.23 115.37V113.45M76.66 115.37V113.05M83.09 115.37V112.65M89.52 115.37V112.51M95.95 115.37V112.37M102.38 115.37V112.3M108.81 115.37V112.24M115.24 115.37V112.24M121.67 115.37V112.29M128.1 115.37V112.36M134.53 115.37V112.53M140.96 115.37V112.69M147.39 115.37V113.17M153.82 115.37V113.62M160.25 115.37V113.85M63.8 121.76V120.12M70.23 121.76V119.85M76.66 121.76V119.44M83.09 121.76V119.04M89.52 121.76V118.89M95.95 121.76V118.75M102.38 121.76V118.68M108.81 121.76V118.62M115.24 121.76V118.62M121.67 121.76V118.68M128.1 121.76V118.75M134.53 121.76V118.91M140.96 121.76V119.07M147.39 121.76V119.55M153.82 121.76V120M160.25 121.76V120.23M63.8 128.15V126.51M70.23 128.15V126.24M76.66 128.15V125.84M83.09 128.15V125.43M89.52 128.15V125.28M95.95 128.15V125.13M102.38 128.15V125.06M108.81 128.15V125M115.24 128.15V125M121.67 128.15V125.06M128.1 128.15V125.13M134.53 128.15V125.29M140.96 128.15V125.45M147.39 128.15V125.92M153.82 128.15V126.37M160.25 128.15V126.59M63.8 134.54V132.9M70.23 134.54V132.63M76.66 134.54V132.22M83.09 134.54V131.82M89.52 134.54V131.67M95.95 134.54V131.51M102.38 134.54V131.44M108.81 134.54V131.37M115.24 134.54V131.37M121.67 134.54V131.43M128.1 134.54V131.51M134.53 134.54V131.67M140.96 134.54V131.83M147.39 134.54V132.28M153.82 134.54V132.72M160.25 134.54V132.93M63.8 140.93V139.28M70.23 140.93V139.01M76.66 140.93V138.61M83.09 140.93V138.21M89.52 140.93V138.05M95.95 140.93V137.89M102.38 140.93V137.81M108.81 140.93V137.74M115.24 140.93V137.74M121.67 140.93V137.81M128.1 140.93V137.89M134.53 140.93V138.05M140.96 140.93V138.21M147.39 140.93V138.64M153.82 140.93V139.07M160.25 140.93V139.26M63.8 147.32V145.66M70.23 147.32V145.39M76.66 147.32V144.99M83.09 147.32V144.6M89.52 147.32V144.43M95.95 147.32V144.27M102.38 147.32V144.19M108.81 147.32V144.12M115.24 147.32V144.11M121.67 147.32V144.19M128.1 147.32V144.27M134.53 147.32V144.43M140.96 147.32V144.59M147.39 147.32V145M153.82 147.32V145.42M160.25 147.32V145.59M63.8 153.71V152M70.23 153.71V151.74M76.66 153.71V151.36M83.09 153.71V150.98M89.52 153.71V150.81M95.95 153.71V150.64M102.38 153.71V150.55M108.81 153.71V150.48M115.24 153.71V150.47M121.67 153.71V150.55M128.1 153.71V150.64M134.53 153.71V150.82M140.96 153.71V151.01M147.39 153.71V151.43M153.82 153.71V151.85M160.25 153.71V152.04M63.8 160.1V158.31M70.23 160.1V158.07M76.66 160.1V157.71M83.09 160.1V157.37M89.52 160.1V157.19M95.95 160.1V157.01M102.38 160.1V156.91M108.81 160.1V156.83M115.24 160.1V156.82M121.67 160.1V156.91M128.1 160.1V157M134.53 160.1V157.22M140.96 160.1V157.44M147.39 160.1V157.92M153.82 160.1V158.35M160.25 160.1V158.56M63.8 166.49V164.62M70.23 166.49V164.4M76.66 166.49V164.06M83.09 166.49V163.76M89.52 166.49V163.56M95.95 166.49V163.37M102.38 166.49V163.27M108.81 166.49V163.18M115.24 166.49V163.18M121.67 166.49V163.26M128.1 166.49V163.37M134.53 166.49V163.62M140.96 166.49V163.88M147.39 166.49V164.4M153.82 166.49V164.85M160.25 166.49V165.09M63.8 172.88V170.94M70.23 172.88V170.72M76.66 172.88V170.42M83.09 172.88V170.15M89.52 172.88V169.94M95.95 172.88V169.74M102.38 172.88V169.63M108.81 172.88V169.53M115.24 172.88V169.53M121.67 172.88V169.63M128.1 172.88V169.75M134.53 172.88V170.02M140.96 172.88V170.29M147.39 172.88V170.83M153.82 172.88V171.29M160.25 172.88V171.53M63.8 179.27V177.27M70.23 179.27V177.04M76.66 179.27V176.78M83.09 179.27V176.53M89.52 179.27V176.32M95.95 179.27V176.1M102.38 179.27V175.99M108.81 179.27V175.89M115.24 179.27V175.89M121.67 179.27V176M128.1 179.27V176.12M134.53 179.27V176.41M140.96 179.27V176.7M147.39 179.27V177.24M153.82 179.27V177.72M160.25 179.27V177.95M63.8 185.66V183.59M70.23 185.66V183.36M76.66 185.66V183.14M83.09 185.66V182.92M89.52 185.66V182.7M95.95 185.66V182.47M102.38 185.66V182.35M108.81 185.66V182.24M115.24 185.66V182.25M121.67 185.66V182.37M128.1 185.66V182.5M134.53 185.66V182.81M140.96 185.66V183.11M147.39 185.66V183.66M153.82 185.66V184.14M160.25 185.66V184.37M63.8 192.05V189.96M70.23 192.05V189.73M76.66 192.05V189.52M83.09 192.05V189.31M89.52 192.05V189.07M95.95 192.05V188.84M102.38 192.05V188.71M108.81 192.05V188.6M115.24 192.05V188.6M121.67 192.05V188.73M128.1 192.05V188.87M134.53 192.05V189.19M140.96 192.05V189.5M147.39 192.05V190.05M153.82 192.05V190.53M160.25 192.05V190.77M63.8 198.44V196.35M70.23 198.44V196.12M76.66 198.44V195.91M83.09 198.44V195.7M89.52 198.44V195.45M95.95 198.44V195.2M102.38 198.44V195.07M108.81 198.44V194.96M115.24 198.44V194.96M121.67 198.44V195.09M128.1 198.44V195.24M134.53 198.44V195.56M140.96 198.44V195.88M147.39 198.44V196.42M153.82 198.44V196.9M160.25 198.44V197.14M63.8 204.83V202.74M70.23 204.83V202.51M76.66 204.83V202.3M83.09 204.83V202.08M89.52 204.83V201.83M95.95 204.83V201.57M102.38 204.83V201.43M108.81 204.83V201.31M115.24 204.83V201.31M121.67 204.83V201.45M128.1 204.83V201.61M134.53 204.83V201.93M140.96 204.83V202.26M147.39 204.83V202.8M153.82 204.83V203.28M160.25 204.83V203.52M63.8 211.22V209.16M70.23 211.22V208.92M76.66 211.22V208.7M83.09 211.22V208.47M89.52 211.22V208.2M95.95 211.22V207.94M102.38 211.22V207.79M108.81 211.22V207.66M115.24 211.22V207.67M121.67 211.22V207.81M128.1 211.22V207.97M134.53 211.22V208.3M140.96 211.22V208.62M147.39 211.22V209.16M153.82 211.22V209.61M160.25 211.22V209.84M63.8 217.61V215.6M70.23 217.61V215.37M76.66 217.61V215.12M83.09 217.61V214.86M89.52 217.61V214.58M95.95 217.61V214.31M102.38 217.61V214.15M108.81 217.61V214.02M115.24 217.61V214.02M121.67 217.61V214.17M128.1 217.61V214.34M134.53 217.61V214.66M140.96 217.61V214.97M147.39 217.61V215.47M153.82 217.61V215.89M160.25 217.61V216.11M63.8 224V222.04M70.23 224V221.82M76.66 224V221.53M83.09 224V221.25M89.52 224V220.96M95.95 224V220.67M102.38 224V220.51M108.81 224V220.37M115.24 224V220.37M121.67 224V220.54M128.1 224V220.72M134.53 224V221.07M140.96 224V221.43M147.39 224V221.92M153.82 224V222.31M160.25 224V222.52M63.8 230.39V228.48M70.23 230.39V228.26M76.66 230.39V227.94M83.09 230.39V227.63M89.52 230.39V227.34M95.95 230.39V227.04M102.38 230.39V226.87M108.81 230.39V226.72M115.24 230.39V226.73M121.67 230.39V226.9M128.1 230.39V227.1M134.53 230.39V227.53M140.96 230.39V227.95M147.39 230.39V228.43M153.82 230.39V228.83M160.25 230.39V229.02M63.8 236.78V234.93M70.23 236.78V234.69M76.66 236.78V234.35M83.09 236.78V234.02M89.52 236.78V233.71M95.95 236.78V233.4M102.38 236.78V233.23M108.81 236.78V233.07M115.24 236.78V233.08M121.67 236.78V233.27M128.1 236.78V233.48M134.53 236.78V233.98M140.96 236.78V234.47M147.39 236.78V234.93M153.82 236.78V235.34M160.25 236.78V235.52M63.8 243.17V241.36M70.23 243.17V241.11M76.66 243.17V240.76M83.09 243.17V240.41M89.52 243.17V240.1M95.95 243.17V239.79M102.38 243.17V239.61M108.81 243.17V239.46M115.24 243.17V239.46M121.67 243.17V239.65M128.1 243.17V239.88M134.53 243.17V240.42M140.96 243.17V240.96M147.39 243.17V241.39M153.82 243.17V241.8M160.25 243.17V241.91M63.8 249.56V247.79M70.23 249.56V247.54M76.66 249.56V247.17M83.09 249.56V246.8M89.52 249.56V246.49M95.95 249.56V246.18M102.38 249.56V246M108.81 249.56V245.85M115.24 249.56V245.85M121.67 249.56V246.04M128.1 249.56V246.27M134.53 249.56V246.85M140.96 249.56V247.44M147.39 249.56V247.84M153.82 249.56V248.24M160.25 249.56V248.3M63.8 255.95V254.2M70.23 255.95V253.94M76.66 255.95V253.57M83.09 255.95V253.18M89.52 255.95V252.87M95.95 255.95V252.56M102.38 255.95V252.38M108.81 255.95V252.22M115.24 255.95V252.23M121.67 255.95V252.42M128.1 255.95V252.65M134.53 255.95V253.23M140.96 255.95V253.82M147.39 255.95V254.22M153.82 255.95V254.61M160.25 255.95V254.69M63.8 262.34V260.58M70.23 262.34V260.32M76.66 262.34V259.94M83.09 262.34V259.56M89.52 262.34V259.24M95.95 262.34V258.93M102.38 262.34V258.75M108.81 262.34V258.59M115.24 262.34V258.6M121.67 262.34V258.78M128.1 262.34V259M134.53 262.34V259.54M140.96 262.34V260.09M147.39 262.34V260.53M153.82 262.34V260.92M160.25 262.34V261.08M63.8 268.73V266.95M70.23 268.73V266.69M76.66 268.73V266.31M83.09 268.73V265.93M89.52 268.73V265.62M95.95 268.73V265.31M102.38 268.73V265.12M108.81 268.73V264.96M115.24 268.73V264.96M121.67 268.73V265.14M128.1 268.73V265.35M134.53 268.73V265.85M140.96 268.73V266.35M147.39 268.73V266.81M153.82 268.73V267.2M160.25 268.73V267.37M63.8 275.12V273.25M70.23 275.12V273.01M76.66 275.12V272.65M83.09 275.12V272.3M89.52 275.12V271.99M95.95 275.12V271.68M102.38 275.12V271.49M108.81 275.12V271.33M115.24 275.12V271.33M121.67 275.12V271.51M128.1 275.12V271.72M134.53 275.12V272.12M140.96 275.12V272.53M147.39 275.12V272.92M153.82 275.12V273.21M160.25 275.12V273.37M63.8 281.51V279.56M70.23 281.51V279.31M76.66 281.51V278.99M83.09 281.51V278.68M89.52 281.51V278.36M95.95 281.51V278.05M102.38 281.51V277.86M108.81 281.51V277.69M115.24 281.51V277.69M121.67 281.51V277.88M128.1 281.51V278.08M134.53 281.51V278.4M140.96 281.51V278.71M147.39 281.51V278.95M153.82 281.51V279.15M160.25 281.51V279.34M63.8 287.9V285.9M70.23 287.9V285.64M76.66 287.9V285.35M83.09 287.9V285.05M89.52 287.9V284.74M95.95 287.9V284.43M102.38 287.9V284.24M108.81 287.9V284.07M115.24 287.9V284.07M121.67 287.9V284.26M128.1 287.9V284.46M134.53 287.9V284.75M140.96 287.9V285.04M147.39 287.9V285.22M153.82 287.9V285.37M160.25 287.9V285.54M63.8 294.29V292.25M70.23 294.29V291.98M76.66 294.29V291.71M83.09 294.29V291.42M89.52 294.29V291.12M95.95 294.29V290.81M102.38 294.29V290.62M108.81 294.29V290.45M115.24 294.29V290.45M121.67 294.29V290.64M128.1 294.29V290.84M134.53 294.29V291.12M140.96 294.29V291.4M147.39 294.29V291.57M153.82 294.29V291.7M160.25 294.29V291.84M70.23 300.68V298.33M76.66 300.68V298.07M83.09 300.68V297.8M89.52 300.68V297.5M95.95 300.68V297.2M102.38 300.68V297.01M108.81 300.68V296.83M115.24 300.68V296.84M121.67 300.68V297.02M128.1 300.68V297.22M134.53 300.68V297.5M140.96 300.68V297.77M147.39 300.68V297.92M153.82 300.68V298.03M160.25 300.68V298.15M76.66 307.07V304.43M83.09 307.07V304.17M89.52 307.07V303.87M95.95 307.07V303.58M102.38 307.07V303.39M108.81 307.07V303.22M115.24 307.07V303.22M121.67 307.07V303.41M128.1 307.07V303.6M134.53 307.07V303.87M140.96 307.07V304.14M147.39 307.07V304.27M153.82 307.07V304.35" stroke="#06120e" stroke-opacity="0.8" stroke-width="1.0" fill="none"/>
<path d="M76.66 60.98l-0.85 1.5h1.7zM83.09 60.64l-0.85 1.5h1.7zM89.52 60.52l-0.85 1.5h1.7zM95.95 60.41l-0.85 1.5h1.7zM102.38 60.34l-0.85 1.5h1.7zM108.81 60.28l-0.85 1.5h1.7zM115.24 60.28l-0.85 1.5h1.7zM121.67 60.34l-0.85 1.5h1.7zM128.1 60.4l-0.85 1.5h1.7zM134.53 60.54l-0.85 1.5h1.7zM140.96 60.67l-0.85 1.5h1.7zM147.39 61.11l-0.84 1.5h1.69zM153.82 61.66l-0.68 1.29h1.35zM70.23 67.8l-0.75 1.42h1.51zM76.66 67.37l-0.85 1.5h1.7zM83.09 67.03l-0.85 1.5h1.7zM89.52 66.91l-0.85 1.5h1.7zM95.95 66.79l-0.85 1.5h1.7zM102.38 66.72l-0.85 1.5h1.7zM108.81 66.66l-0.85 1.5h1.7zM115.24 66.66l-0.85 1.5h1.7zM121.67 66.72l-0.85 1.5h1.7zM128.1 66.79l-0.85 1.5h1.7zM134.53 66.93l-0.85 1.5h1.7zM140.96 67.07l-0.85 1.5h1.7zM147.39 67.52l-0.84 1.5h1.67zM153.82 68.09l-0.67 1.28h1.33zM160.25 68.47l-0.6 1.08h1.2zM63.8 74.55l-0.65 1.24h1.29zM70.23 74.21l-0.75 1.41h1.49zM76.66 73.77l-0.85 1.5h1.7zM83.09 73.42l-0.85 1.5h1.7zM89.52 73.29l-0.85 1.5h1.7zM95.95 73.17l-0.85 1.5h1.7zM102.38 73.1l-0.85 1.5h1.7zM108.81 73.04l-0.85 1.5h1.7zM115.24 73.04l-0.85 1.5h1.7zM121.67 73.1l-0.85 1.5h1.7zM128.1 73.17l-0.85 1.5h1.7zM134.53 73.32l-0.85 1.5h1.7zM140.96 73.46l-0.85 1.5h1.7zM147.39 73.93l-0.83 1.5h1.66zM153.82 74.51l-0.65 1.26h1.31zM160.25 74.88l-0.6 1.07h1.2zM63.8 80.96l-0.64 1.23h1.27zM70.23 80.61l-0.74 1.4h1.48zM76.66 80.17l-0.85 1.5h1.7zM83.09 79.8l-0.85 1.5h1.7zM89.52 79.68l-0.85 1.5h1.7zM95.95 79.55l-0.85 1.5h1.7zM102.38 79.48l-0.85 1.5h1.7zM108.81 79.42l-0.85 1.5h1.7zM115.24 79.42l-0.85 1.5h1.7zM121.67 79.48l-0.85 1.5h1.7zM128.1 79.55l-0.85 1.5h1.7zM134.53 79.7l-0.85 1.5h1.7zM140.96 79.86l-0.85 1.5h1.7zM147.39 80.34l-0.82 1.5h1.65zM153.82 80.94l-0.64 1.24h1.29zM160.25 81.29l-0.6 1.06h1.2zM63.8 87.38l-0.63 1.22h1.26zM70.23 87.02l-0.74 1.39h1.47zM76.66 86.57l-0.85 1.5h1.7zM83.09 86.19l-0.85 1.5h1.7zM89.52 86.06l-0.85 1.5h1.7zM95.95 85.93l-0.85 1.5h1.7zM102.38 85.86l-0.85 1.5h1.7zM108.81 85.81l-0.85 1.5h1.7zM115.24 85.8l-0.85 1.5h1.7zM121.67 85.86l-0.85 1.5h1.7zM128.1 85.93l-0.85 1.5h1.7zM134.53 86.09l-0.85 1.5h1.7zM140.96 86.26l-0.85 1.5h1.7zM147.39 86.74l-0.82 1.5h1.64zM153.82 87.35l-0.64 1.23h1.27zM160.25 87.69l-0.6 1.06h1.2zM63.8 93.78l-0.62 1.21h1.25zM70.23 93.42l-0.73 1.39h1.47zM76.66 92.96l-0.85 1.5h1.7zM83.09 92.58l-0.85 1.5h1.7zM89.52 92.45l-0.85 1.5h1.7zM95.95 92.31l-0.85 1.5h1.7zM102.38 92.25l-0.85 1.5h1.7zM108.81 92.19l-0.85 1.5h1.7zM115.24 92.19l-0.85 1.5h1.7zM121.67 92.24l-0.85 1.5h1.7zM128.1 92.31l-0.85 1.5h1.7zM134.53 92.48l-0.85 1.5h1.7zM140.96 92.64l-0.85 1.5h1.7zM147.39 93.12l-0.82 1.5h1.65zM153.82 93.73l-0.64 1.23h1.28zM160.25 94.07l-0.6 1.06h1.2zM63.8 100.19l-0.62 1.2h1.24zM70.23 99.82l-0.73 1.38h1.46zM76.66 99.36l-0.85 1.5h1.7zM83.09 98.97l-0.85 1.5h1.7zM89.52 98.84l-0.85 1.5h1.7zM95.95 98.7l-0.85 1.5h1.7zM102.38 98.63l-0.85 1.5h1.7zM108.81 98.57l-0.85 1.5h1.7zM115.24 98.57l-0.85 1.5h1.7zM121.67 98.63l-0.85 1.5h1.7zM128.1 98.69l-0.85 1.5h1.7zM134.53 98.86l-0.85 1.5h1.7zM140.96 99.02l-0.85 1.5h1.7zM147.39 99.5l-0.83 1.5h1.65zM153.82 100.11l-0.64 1.24h1.29zM160.25 100.45l-0.6 1.07h1.2zM63.8 106.6l-0.61 1.19h1.23zM70.23 106.23l-0.73 1.38h1.45zM76.66 105.75l-0.85 1.5h1.7zM83.09 105.36l-0.85 1.5h1.7zM89.52 105.22l-0.85 1.5h1.7zM95.95 105.08l-0.85 1.5h1.7zM102.38 105.01l-0.85 1.5h1.7zM108.81 104.96l-0.85 1.5h1.7zM115.24 104.95l-0.85 1.5h1.7zM121.67 105.01l-0.85 1.5h1.7zM128.1 105.08l-0.85 1.5h1.7zM134.53 105.24l-0.85 1.5h1.7zM140.96 105.41l-0.85 1.5h1.7zM147.39 105.88l-0.83 1.5h1.66zM153.82 106.49l-0.65 1.25h1.3zM160.25 106.82l-0.6 1.08h1.2zM63.8 113.01l-0.61 1.18h1.22zM70.23 112.63l-0.72 1.37h1.44zM76.66 112.15l-0.85 1.5h1.7zM83.09 111.75l-0.85 1.5h1.7zM89.52 111.61l-0.85 1.5h1.7zM95.95 111.47l-0.85 1.5h1.7zM102.38 111.4l-0.85 1.5h1.7zM108.81 111.34l-0.85 1.5h1.7zM115.24 111.34l-0.85 1.5h1.7zM121.67 111.39l-0.85 1.5h1.7zM128.1 111.46l-0.85 1.5h1.7zM134.53 111.63l-0.85 1.5h1.7zM140.96 111.79l-0.85 1.5h1.7zM147.39 112.27l-0.83 1.5h1.66zM153.82 112.86l-0.65 1.25h1.3zM160.25 113.2l-0.6 1.08h1.2zM63.8 119.41l-0.6 1.17h1.21zM70.23 119.03l-0.72 1.36h1.44zM76.66 118.54l-0.85 1.5h1.7zM83.09 118.14l-0.85 1.5h1.7zM89.52 117.99l-0.85 1.5h1.7zM95.95 117.85l-0.85 1.5h1.7zM102.38 117.78l-0.85 1.5h1.7zM108.81 117.72l-0.85 1.5h1.7zM115.24 117.72l-0.85 1.5h1.7zM121.67 117.78l-0.85 1.5h1.7zM128.1 117.85l-0.85 1.5h1.7zM134.53 118.01l-0.85 1.5h1.7zM140.96 118.17l-0.85 1.5h1.7zM147.39 118.65l-0.83 1.5h1.67zM153.82 119.24l-0.66 1.26h1.31zM160.25 119.58l-0.6 1.09h1.2zM63.8 125.81l-0.6 1.17h1.2zM70.23 125.42l-0.72 1.36h1.44zM76.66 124.94l-0.85 1.5h1.7zM83.09 124.53l-0.85 1.5h1.7zM89.52 124.38l-0.85 1.5h1.7zM95.95 124.23l-0.85 1.5h1.7zM102.38 124.16l-0.85 1.5h1.7zM108.81 124.1l-0.85 1.5h1.7zM115.24 124.1l-0.85 1.5h1.7zM121.67 124.16l-0.85 1.5h1.7zM128.1 124.23l-0.85 1.5h1.7zM134.53 124.39l-0.85 1.5h1.7zM140.96 124.55l-0.85 1.5h1.7zM147.39 125.02l-0.84 1.5h1.68zM153.82 125.6l-0.66 1.27h1.33zM160.25 125.93l-0.6 1.11h1.2zM63.8 132.19l-0.6 1.17h1.21zM70.23 131.81l-0.72 1.37h1.44zM76.66 131.32l-0.85 1.5h1.7zM83.09 130.92l-0.85 1.5h1.7zM89.52 130.77l-0.85 1.5h1.7zM95.95 130.61l-0.85 1.5h1.7zM102.38 130.54l-0.85 1.5h1.7zM108.81 130.47l-0.85 1.5h1.7zM115.24 130.47l-0.85 1.5h1.7zM121.67 130.53l-0.85 1.5h1.7zM128.1 130.61l-0.85 1.5h1.7zM134.53 130.77l-0.85 1.5h1.7zM140.96 130.93l-0.85 1.5h1.7zM147.39 131.38l-0.85 1.5h1.7zM153.82 131.93l-0.68 1.3h1.36zM160.25 132.24l-0.6 1.15h1.2zM63.8 138.57l-0.61 1.18h1.22zM70.23 138.19l-0.72 1.37h1.45zM76.66 137.71l-0.85 1.5h1.7zM83.09 137.31l-0.85 1.5h1.7zM89.52 137.15l-0.85 1.5h1.7zM95.95 136.99l-0.85 1.5h1.7zM102.38 136.91l-0.85 1.5h1.7zM108.81 136.84l-0.85 1.5h1.7zM115.24 136.84l-0.85 1.5h1.7zM121.67 136.91l-0.85 1.5h1.7zM128.1 136.99l-0.85 1.5h1.7zM134.53 137.15l-0.85 1.5h1.7zM140.96 137.31l-0.85 1.5h1.7zM147.39 137.74l-0.85 1.5h1.7zM153.82 138.27l-0.7 1.33h1.4zM160.25 138.55l-0.62 1.19h1.23zM63.8 144.95l-0.61 1.18h1.22zM70.23 144.57l-0.73 1.38h1.45zM76.66 144.09l-0.85 1.5h1.7zM83.09 143.7l-0.85 1.5h1.7zM89.52 143.53l-0.85 1.5h1.7zM95.95 143.37l-0.85 1.5h1.7zM102.38 143.29l-0.85 1.5h1.7zM108.81 143.22l-0.85 1.5h1.7zM115.24 143.21l-0.85 1.5h1.7zM121.67 143.29l-0.85 1.5h1.7zM128.1 143.37l-0.85 1.5h1.7zM134.53 143.53l-0.85 1.5h1.7zM140.96 143.69l-0.85 1.5h1.7zM147.39 144.1l-0.85 1.5h1.7zM153.82 144.6l-0.72 1.36h1.43zM160.25 144.86l-0.64 1.23h1.28zM63.8 151.27l-0.63 1.22h1.26zM70.23 150.9l-0.74 1.4h1.49zM76.66 150.46l-0.85 1.5h1.7zM83.09 150.08l-0.85 1.5h1.7zM89.52 149.91l-0.85 1.5h1.7zM95.95 149.74l-0.85 1.5h1.7zM102.38 149.65l-0.85 1.5h1.7zM108.81 149.58l-0.85 1.5h1.7zM115.24 149.57l-0.85 1.5h1.7zM121.67 149.65l-0.85 1.5h1.7zM128.1 149.74l-0.85 1.5h1.7zM134.53 149.92l-0.85 1.5h1.7zM140.96 150.11l-0.85 1.5h1.7zM147.39 150.53l-0.85 1.5h1.7zM153.82 151.06l-0.7 1.33h1.39zM160.25 151.32l-0.62 1.19h1.23zM63.8 157.54l-0.67 1.28h1.33zM70.23 157.2l-0.77 1.45h1.54zM76.66 156.81l-0.85 1.5h1.7zM83.09 156.47l-0.85 1.5h1.7zM89.52 156.29l-0.85 1.5h1.7zM95.95 156.11l-0.85 1.5h1.7zM102.38 156.01l-0.85 1.5h1.7zM108.81 155.93l-0.85 1.5h1.7zM115.24 155.92l-0.85 1.5h1.7zM121.67 156.01l-0.85 1.5h1.7zM128.1 156.1l-0.85 1.5h1.7zM134.53 156.32l-0.85 1.5h1.7zM140.96 156.54l-0.85 1.5h1.7zM147.39 157.02l-0.82 1.5h1.65zM153.82 157.6l-0.65 1.25h1.3zM160.25 157.91l-0.6 1.1h1.2zM63.8 163.82l-0.7 1.34h1.4zM70.23 163.5l-0.8 1.49h1.59zM76.66 163.16l-0.85 1.5h1.7zM83.09 162.86l-0.85 1.5h1.7zM89.52 162.66l-0.85 1.5h1.7zM95.95 162.47l-0.85 1.5h1.7zM102.38 162.37l-0.85 1.5h1.7zM108.81 162.28l-0.85 1.5h1.7zM115.24 162.28l-0.85 1.5h1.7zM121.67 162.36l-0.85 1.5h1.7zM128.1 162.47l-0.85 1.5h1.7zM134.53 162.72l-0.85 1.5h1.7zM140.96 162.98l-0.85 1.5h1.7zM147.39 163.51l-0.79 1.49h1.59zM153.82 164.15l-0.6 1.17h1.2zM160.25 164.49l-0.6 1h1.2zM63.8 170.11l-0.73 1.38h1.46zM70.23 169.82l-0.82 1.5h1.64zM76.66 169.52l-0.85 1.5h1.7zM83.09 169.25l-0.85 1.5h1.7zM89.52 169.04l-0.85 1.5h1.7zM95.95 168.84l-0.85 1.5h1.7zM102.38 168.73l-0.85 1.5h1.7zM108.81 168.63l-0.85 1.5h1.7zM115.24 168.63l-0.85 1.5h1.7zM121.67 168.73l-0.85 1.5h1.7zM128.1 168.85l-0.85 1.5h1.7zM134.53 169.12l-0.85 1.5h1.7zM140.96 169.39l-0.85 1.5h1.7zM147.39 169.95l-0.78 1.47h1.56zM153.82 170.61l-0.6 1.13h1.2zM160.25 170.96l-0.6 0.96h1.2zM63.8 176.41l-0.76 1.43h1.52zM70.23 176.14l-0.84 1.5h1.68zM76.66 175.88l-0.85 1.5h1.7zM83.09 175.63l-0.85 1.5h1.7zM89.52 175.42l-0.85 1.5h1.7zM95.95 175.2l-0.85 1.5h1.7zM102.38 175.09l-0.85 1.5h1.7zM108.81 174.99l-0.85 1.5h1.7zM115.24 174.99l-0.85 1.5h1.7zM121.67 175.1l-0.85 1.5h1.7zM128.1 175.22l-0.85 1.5h1.7zM134.53 175.51l-0.85 1.5h1.7zM140.96 175.8l-0.85 1.5h1.7zM147.39 176.37l-0.77 1.45h1.54zM153.82 177.05l-0.6 1.11h1.2zM160.25 177.39l-0.6 0.94h1.2zM63.8 182.71l-0.79 1.48h1.57zM70.23 182.46l-0.85 1.5h1.7zM76.66 182.24l-0.85 1.5h1.7zM83.09 182.02l-0.85 1.5h1.7zM89.52 181.8l-0.85 1.5h1.7zM95.95 181.57l-0.85 1.5h1.7zM102.38 181.45l-0.85 1.5h1.7zM108.81 181.34l-0.85 1.5h1.7zM115.24 181.35l-0.85 1.5h1.7zM121.67 181.47l-0.85 1.5h1.7zM128.1 181.6l-0.85 1.5h1.7zM134.53 181.91l-0.85 1.5h1.7zM140.96 182.21l-0.85 1.5h1.7zM147.39 182.8l-0.76 1.43h1.52zM153.82 183.49l-0.6 1.09h1.2zM160.25 183.82l-0.6 0.92h1.2zM63.8 189.06l-0.8 1.49h1.59zM70.23 188.83l-0.85 1.5h1.7zM76.66 188.62l-0.85 1.5h1.7zM83.09 188.41l-0.85 1.5h1.7zM89.52 188.17l-0.85 1.5h1.7zM95.95 187.94l-0.85 1.5h1.7zM102.38 187.81l-0.85 1.5h1.7zM108.81 187.7l-0.85 1.5h1.7zM115.24 187.7l-0.85 1.5h1.7zM121.67 187.83l-0.85 1.5h1.7zM128.1 187.97l-0.85 1.5h1.7zM134.53 188.29l-0.85 1.5h1.7zM140.96 188.6l-0.85 1.5h1.7zM147.39 189.19l-0.76 1.43h1.52zM153.82 189.88l-0.6 1.09h1.2zM160.25 190.21l-0.6 0.92h1.2zM63.8 195.45l-0.8 1.49h1.59zM70.23 195.22l-0.85 1.5h1.7zM76.66 195.01l-0.85 1.5h1.7zM83.09 194.8l-0.85 1.5h1.7zM89.52 194.55l-0.85 1.5h1.7zM95.95 194.3l-0.85 1.5h1.7zM102.38 194.17l-0.85 1.5h1.7zM108.81 194.06l-0.85 1.5h1.7zM115.24 194.06l-0.85 1.5h1.7zM121.67 194.19l-0.85 1.5h1.7zM128.1 194.34l-0.85 1.5h1.7zM134.53 194.66l-0.85 1.5h1.7zM140.96 194.98l-0.85 1.5h1.7zM147.39 195.56l-0.76 1.44h1.53zM153.82 196.25l-0.6 1.1h1.2zM160.25 196.59l-0.6 0.93h1.2zM63.8 201.84l-0.8 1.49h1.59zM70.23 201.61l-0.85 1.5h1.7zM76.66 201.4l-0.85 1.5h1.7zM83.09 201.18l-0.85 1.5h1.7zM89.52 200.93l-0.85 1.5h1.7zM95.95 200.67l-0.85 1.5h1.7zM102.38 200.53l-0.85 1.5h1.7zM108.81 200.41l-0.85 1.5h1.7zM115.24 200.41l-0.85 1.5h1.7zM121.67 200.55l-0.85 1.5h1.7zM128.1 200.71l-0.85 1.5h1.7zM134.53 201.03l-0.85 1.5h1.7zM140.96 201.36l-0.85 1.5h1.7zM147.39 201.93l-0.77 1.45h1.54zM153.82 202.61l-0.6 1.11h1.2zM160.25 202.96l-0.6 0.93h1.2zM63.8 208.27l-0.78 1.47h1.57zM70.23 208.02l-0.85 1.5h1.7zM76.66 207.8l-0.85 1.5h1.7zM83.09 207.57l-0.85 1.5h1.7zM89.52 207.3l-0.85 1.5h1.7zM95.95 207.04l-0.85 1.5h1.7zM102.38 206.89l-0.85 1.5h1.7zM108.81 206.76l-0.85 1.5h1.7zM115.24 206.77l-0.85 1.5h1.7zM121.67 206.91l-0.85 1.5h1.7zM128.1 207.07l-0.85 1.5h1.7zM134.53 207.4l-0.85 1.5h1.7zM140.96 207.72l-0.85 1.5h1.7zM147.39 208.27l-0.78 1.47h1.57zM153.82 208.91l-0.6 1.15h1.2zM160.25 209.25l-0.6 0.98h1.2zM63.8 214.74l-0.76 1.44h1.52zM70.23 214.47l-0.84 1.5h1.68zM76.66 214.22l-0.85 1.5h1.7zM83.09 213.96l-0.85 1.5h1.7zM89.52 213.68l-0.85 1.5h1.7zM95.95 213.41l-0.85 1.5h1.7zM102.38 213.25l-0.85 1.5h1.7zM108.81 213.12l-0.85 1.5h1.7zM115.24 213.12l-0.85 1.5h1.7zM121.67 213.27l-0.85 1.5h1.7zM128.1 213.44l-0.85 1.5h1.7zM134.53 213.76l-0.85 1.5h1.7zM140.96 214.07l-0.85 1.5h1.7zM147.39 214.57l-0.81 1.5h1.62zM153.82 215.15l-0.64 1.23h1.28zM160.25 215.46l-0.6 1.07h1.2zM63.8 221.2l-0.74 1.4h1.48zM70.23 220.92l-0.83 1.5h1.65zM76.66 220.63l-0.85 1.5h1.7zM83.09 220.35l-0.85 1.5h1.7zM89.52 220.06l-0.85 1.5h1.7zM95.95 219.77l-0.85 1.5h1.7zM102.38 219.61l-0.85 1.5h1.7zM108.81 219.47l-0.85 1.5h1.7zM115.24 219.47l-0.85 1.5h1.7zM121.67 219.64l-0.85 1.5h1.7zM128.1 219.82l-0.85 1.5h1.7zM134.53 220.17l-0.85 1.5h1.7zM140.96 220.53l-0.85 1.5h1.7zM147.39 221.03l-0.79 1.48h1.58zM153.82 221.59l-0.62 1.2h1.24zM160.25 221.89l-0.6 1.06h1.2zM63.8 227.67l-0.72 1.36h1.43zM70.23 227.36l-0.81 1.5h1.62zM76.66 227.04l-0.85 1.5h1.7zM83.09 226.73l-0.85 1.5h1.7zM89.52 226.44l-0.85 1.5h1.7zM95.95 226.14l-0.85 1.5h1.7zM102.38 225.97l-0.85 1.5h1.7zM108.81 225.82l-0.85 1.5h1.7zM115.24 225.83l-0.85 1.5h1.7zM121.67 226l-0.85 1.5h1.7zM128.1 226.2l-0.85 1.5h1.7zM134.53 226.63l-0.85 1.5h1.7zM140.96 227.05l-0.85 1.5h1.7zM147.39 227.58l-0.74 1.4h1.48zM153.82 228.16l-0.6 1.12h1.2zM160.25 228.44l-0.6 0.98h1.2zM63.8 234.13l-0.69 1.32h1.39zM70.23 233.8l-0.79 1.49h1.59zM76.66 233.45l-0.85 1.5h1.7zM83.09 233.12l-0.85 1.5h1.7zM89.52 232.81l-0.85 1.5h1.7zM95.95 232.5l-0.85 1.5h1.7zM102.38 232.33l-0.85 1.5h1.7zM108.81 232.17l-0.85 1.5h1.7zM115.24 232.18l-0.85 1.5h1.7zM121.67 232.37l-0.85 1.5h1.7zM128.1 232.58l-0.85 1.5h1.7zM134.53 233.08l-0.85 1.5h1.7zM140.96 233.57l-0.85 1.5h1.7zM147.39 234.14l-0.69 1.32h1.39zM153.82 234.73l-0.6 1.03h1.2zM160.25 234.98l-0.6 0.9h1.2zM63.8 240.59l-0.68 1.29h1.35zM70.23 240.23l-0.78 1.47h1.56zM76.66 239.86l-0.85 1.5h1.7zM83.09 239.51l-0.85 1.5h1.7zM89.52 239.2l-0.85 1.5h1.7zM95.95 238.89l-0.85 1.5h1.7zM102.38 238.71l-0.85 1.5h1.7zM108.81 238.56l-0.85 1.5h1.7zM115.24 238.56l-0.85 1.5h1.7zM121.67 238.75l-0.85 1.5h1.7zM128.1 238.98l-0.85 1.5h1.7zM134.53 239.52l-0.85 1.5h1.7zM140.96 240.06l-0.83 1.5h1.67zM147.39 240.63l-0.66 1.27h1.33zM153.82 241.21l-0.6 0.98h1.2zM160.25 241.37l-0.6 0.9h1.2zM63.8 247.04l-0.66 1.26h1.31zM70.23 246.67l-0.77 1.44h1.53zM76.66 246.27l-0.85 1.5h1.7zM83.09 245.9l-0.85 1.5h1.7zM89.52 245.59l-0.85 1.5h1.7zM95.95 245.28l-0.85 1.5h1.7zM102.38 245.1l-0.85 1.5h1.7zM108.81 244.95l-0.85 1.5h1.7zM115.24 244.95l-0.85 1.5h1.7zM121.67 245.14l-0.85 1.5h1.7zM128.1 245.37l-0.85 1.5h1.7zM134.53 245.95l-0.85 1.5h1.7zM140.96 246.54l-0.81 1.5h1.61zM147.39 247.11l-0.64 1.23h1.27zM153.82 247.67l-0.6 0.95h1.2zM160.25 247.76l-0.6 0.9h1.2zM63.8 253.45l-0.65 1.25h1.3zM70.23 253.08l-0.76 1.44h1.52zM76.66 252.67l-0.85 1.5h1.7zM83.09 252.28l-0.85 1.5h1.7zM89.52 251.97l-0.85 1.5h1.7zM95.95 251.66l-0.85 1.5h1.7zM102.38 251.48l-0.85 1.5h1.7zM108.81 251.32l-0.85 1.5h1.7zM115.24 251.33l-0.85 1.5h1.7zM121.67 251.52l-0.85 1.5h1.7zM128.1 251.75l-0.85 1.5h1.7zM134.53 252.33l-0.85 1.5h1.7zM140.96 252.92l-0.81 1.5h1.62zM147.39 253.48l-0.64 1.23h1.28zM153.82 254.04l-0.6 0.95h1.2zM160.25 254.15l-0.6 0.9h1.2zM63.8 259.83l-0.65 1.26h1.31zM70.23 259.45l-0.77 1.44h1.53zM76.66 259.04l-0.85 1.5h1.7zM83.09 258.66l-0.85 1.5h1.7zM89.52 258.34l-0.85 1.5h1.7zM95.95 258.03l-0.85 1.5h1.7zM102.38 257.85l-0.85 1.5h1.7zM108.81 257.69l-0.85 1.5h1.7zM115.24 257.7l-0.85 1.5h1.7zM121.67 257.88l-0.85 1.5h1.7zM128.1 258.1l-0.85 1.5h1.7zM134.53 258.64l-0.85 1.5h1.7zM140.96 259.19l-0.85 1.5h1.69zM147.39 259.75l-0.68 1.3h1.36zM153.82 260.31l-0.6 1.01h1.2zM160.25 260.54l-0.6 0.9h1.2zM63.8 266.19l-0.66 1.27h1.33zM70.23 265.82l-0.77 1.46h1.55zM76.66 265.41l-0.85 1.5h1.7zM83.09 265.03l-0.85 1.5h1.7zM89.52 264.72l-0.85 1.5h1.7zM95.95 264.41l-0.85 1.5h1.7zM102.38 264.22l-0.85 1.5h1.7zM108.81 264.06l-0.85 1.5h1.7zM115.24 264.06l-0.85 1.5h1.7zM121.67 264.24l-0.85 1.5h1.7zM128.1 264.45l-0.85 1.5h1.7zM134.53 264.95l-0.85 1.5h1.7zM140.96 265.45l-0.85 1.5h1.7zM147.39 265.98l-0.72 1.37h1.45zM153.82 266.54l-0.6 1.1h1.2zM160.25 266.79l-0.6 0.97h1.2zM63.8 272.45l-0.7 1.33h1.4zM70.23 272.11l-0.8 1.5h1.6zM76.66 271.75l-0.85 1.5h1.7zM83.09 271.4l-0.85 1.5h1.7zM89.52 271.09l-0.85 1.5h1.7zM95.95 270.78l-0.85 1.5h1.7zM102.38 270.59l-0.85 1.5h1.7zM108.81 270.43l-0.85 1.5h1.7zM115.24 270.43l-0.85 1.5h1.7zM121.67 270.61l-0.85 1.5h1.7zM128.1 270.82l-0.85 1.5h1.7zM134.53 271.22l-0.85 1.5h1.7zM140.96 271.63l-0.85 1.5h1.7zM147.39 272.02l-0.83 1.5h1.66zM153.82 272.4l-0.72 1.36h1.43zM160.25 272.62l-0.65 1.25h1.3zM63.8 278.72l-0.74 1.39h1.47zM70.23 278.41l-0.83 1.5h1.66zM76.66 278.09l-0.85 1.5h1.7zM83.09 277.78l-0.85 1.5h1.7zM89.52 277.46l-0.85 1.5h1.7zM95.95 277.15l-0.85 1.5h1.7zM102.38 276.96l-0.85 1.5h1.7zM108.81 276.79l-0.85 1.5h1.7zM115.24 276.79l-0.85 1.5h1.7zM121.67 276.98l-0.85 1.5h1.7zM128.1 277.18l-0.85 1.5h1.7zM134.53 277.5l-0.85 1.5h1.7zM140.96 277.81l-0.85 1.5h1.7zM147.39 278.05l-0.85 1.5h1.7zM153.82 278.25l-0.85 1.5h1.7zM160.25 278.44l-0.82 1.5h1.64zM63.8 285.04l-0.76 1.43h1.52zM70.23 284.74l-0.85 1.5h1.7zM76.66 284.45l-0.85 1.5h1.7zM83.09 284.15l-0.85 1.5h1.7zM89.52 283.84l-0.85 1.5h1.7zM95.95 283.53l-0.85 1.5h1.7zM102.38 283.34l-0.85 1.5h1.7zM108.81 283.17l-0.85 1.5h1.7zM115.24 283.17l-0.85 1.5h1.7zM121.67 283.36l-0.85 1.5h1.7zM128.1 283.56l-0.85 1.5h1.7zM134.53 283.85l-0.85 1.5h1.7zM140.96 284.14l-0.85 1.5h1.7zM147.39 284.32l-0.85 1.5h1.7zM153.82 284.47l-0.85 1.5h1.7zM160.25 284.64l-0.85 1.5h1.7zM63.8 291.38l-0.77 1.46h1.55zM70.23 291.08l-0.85 1.5h1.7zM76.66 290.81l-0.85 1.5h1.7zM83.09 290.52l-0.85 1.5h1.7zM89.52 290.22l-0.85 1.5h1.7zM95.95 289.91l-0.85 1.5h1.7zM102.38 289.72l-0.85 1.5h1.7zM108.81 289.55l-0.85 1.5h1.7zM115.24 289.55l-0.85 1.5h1.7zM121.67 289.74l-0.85 1.5h1.7zM128.1 289.94l-0.85 1.5h1.7zM134.53 290.22l-0.85 1.5h1.7zM140.96 290.5l-0.85 1.5h1.7zM147.39 290.67l-0.85 1.5h1.7zM153.82 290.8l-0.85 1.5h1.7zM160.25 290.94l-0.85 1.5h1.7zM70.23 297.43l-0.85 1.5h1.7zM76.66 297.17l-0.85 1.5h1.7zM83.09 296.9l-0.85 1.5h1.7zM89.52 296.6l-0.85 1.5h1.7zM95.95 296.3l-0.85 1.5h1.7zM102.38 296.11l-0.85 1.5h1.7zM108.81 295.93l-0.85 1.5h1.7zM115.24 295.94l-0.85 1.5h1.7zM121.67 296.12l-0.85 1.5h1.7zM128.1 296.32l-0.85 1.5h1.7zM134.53 296.6l-0.85 1.5h1.7zM140.96 296.87l-0.85 1.5h1.7zM147.39 297.02l-0.85 1.5h1.7zM153.82 297.13l-0.85 1.5h1.7zM160.25 297.25l-0.85 1.5h1.7zM76.66 303.53l-0.85 1.5h1.7zM83.09 303.27l-0.85 1.5h1.7zM89.52 302.97l-0.85 1.5h1.7zM95.95 302.68l-0.85 1.5h1.7zM102.38 302.49l-0.85 1.5h1.7zM108.81 302.32l-0.85 1.5h1.7zM115.24 302.32l-0.85 1.5h1.7zM121.67 302.51l-0.85 1.5h1.7zM128.1 302.7l-0.85 1.5h1.7zM134.53 302.97l-0.85 1.5h1.7zM140.96 303.24l-0.85 1.5h1.7zM147.39 303.37l-0.85 1.5h1.7zM153.82 303.45l-0.85 1.5h1.7z" fill="#06120e" fill-opacity="0.8"/>
<g clip-path="url(#cp2)"><g filter="url(#bl)">
<rect x="245" y="58.1" width="108" height="3.6" fill="url(#gp20)"/>
<rect x="245" y="61.1" width="108" height="3.6" fill="url(#gp21)"/>
<rect x="245" y="64.1" width="108" height="3.6" fill="url(#gp22)"/>
<rect x="245" y="67.1" width="108" height="3.6" fill="url(#gp23)"/>
<rect x="245" y="70.1" width="108" height="3.6" fill="url(#gp24)"/>
<rect x="245" y="73.1" width="108" height="3.6" fill="url(#gp25)"/>
<rect x="245" y="76.1" width="108" height="3.6" fill="url(#gp26)"/>
<rect x="245" y="79.1" width="108" height="3.6" fill="url(#gp27)"/>
<rect x="245" y="82.1" width="108" height="3.6" fill="url(#gp28)"/>
<rect x="245" y="85.1" width="108" height="3.6" fill="url(#gp29)"/>
<rect x="245" y="88.1" width="108" height="3.6" fill="url(#gp210)"/>
<rect x="245" y="91.1" width="108" height="3.6" fill="url(#gp211)"/>
<rect x="245" y="94.1" width="108" height="3.6" fill="url(#gp212)"/>
<rect x="245" y="97.1" width="108" height="3.6" fill="url(#gp213)"/>
<rect x="245" y="100.1" width="108" height="3.6" fill="url(#gp214)"/>
<rect x="245" y="103.1" width="108" height="3.6" fill="url(#gp215)"/>
<rect x="245" y="106.1" width="108" height="3.6" fill="url(#gp216)"/>
<rect x="245" y="109.1" width="108" height="3.6" fill="url(#gp217)"/>
<rect x="245" y="112.1" width="108" height="3.6" fill="url(#gp218)"/>
<rect x="245" y="115.1" width="108" height="3.6" fill="url(#gp219)"/>
<rect x="245" y="118.1" width="108" height="3.6" fill="url(#gp220)"/>
<rect x="245" y="121.1" width="108" height="3.6" fill="url(#gp221)"/>
<rect x="245" y="124.1" width="108" height="3.6" fill="url(#gp222)"/>
<rect x="245" y="127.1" width="108" height="3.6" fill="url(#gp223)"/>
<rect x="245" y="130.1" width="108" height="3.6" fill="url(#gp224)"/>
<rect x="245" y="133.1" width="108" height="3.6" fill="url(#gp225)"/>
<rect x="245" y="136.1" width="108" height="3.6" fill="url(#gp226)"/>
<rect x="245" y="139.1" width="108" height="3.6" fill="url(#gp227)"/>
<rect x="245" y="142.1" width="108" height="3.6" fill="url(#gp228)"/>
<rect x="245" y="145.1" width="108" height="3.6" fill="url(#gp229)"/>
<rect x="245" y="148.1" width="108" height="3.6" fill="url(#gp230)"/>
<rect x="245" y="151.1" width="108" height="3.6" fill="url(#gp231)"/>
<rect x="245" y="154.1" width="108" height="3.6" fill="url(#gp232)"/>
<rect x="245" y="157.1" width="108" height="3.6" fill="url(#gp233)"/>
<rect x="245" y="160.1" width="108" height="3.6" fill="url(#gp234)"/>
<rect x="245" y="163.1" width="108" height="3.6" fill="url(#gp235)"/>
<rect x="245" y="166.1" width="108" height="3.6" fill="url(#gp236)"/>
<rect x="245" y="169.1" width="108" height="3.6" fill="url(#gp237)"/>
<rect x="245" y="172.1" width="108" height="3.6" fill="url(#gp238)"/>
<rect x="245" y="175.1" width="108" height="3.6" fill="url(#gp239)"/>
<rect x="245" y="178.1" width="108" height="3.6" fill="url(#gp240)"/>
<rect x="245" y="181.1" width="108" height="3.6" fill="url(#gp241)"/>
<rect x="245" y="184.1" width="108" height="3.6" fill="url(#gp242)"/>
<rect x="245" y="187.1" width="108" height="3.6" fill="url(#gp243)"/>
<rect x="245" y="190.1" width="108" height="3.6" fill="url(#gp244)"/>
<rect x="245" y="193.1" width="108" height="3.6" fill="url(#gp245)"/>
<rect x="245" y="196.1" width="108" height="3.6" fill="url(#gp246)"/>
<rect x="245" y="199.1" width="108" height="3.6" fill="url(#gp247)"/>
<rect x="245" y="202.1" width="108" height="3.6" fill="url(#gp248)"/>
<rect x="245" y="205.1" width="108" height="3.6" fill="url(#gp249)"/>
<rect x="245" y="208.1" width="108" height="3.6" fill="url(#gp250)"/>
<rect x="245" y="211.1" width="108" height="3.6" fill="url(#gp251)"/>
<rect x="245" y="214.1" width="108" height="3.6" fill="url(#gp252)"/>
<rect x="245" y="217.1" width="108" height="3.6" fill="url(#gp253)"/>
<rect x="245" y="220.1" width="108" height="3.6" fill="url(#gp254)"/>
<rect x="245" y="223.1" width="108" height="3.6" fill="url(#gp255)"/>
<rect x="245" y="226.1" width="108" height="3.6" fill="url(#gp256)"/>
<rect x="245" y="229.1" width="108" height="3.6" fill="url(#gp257)"/>
<rect x="245" y="232.1" width="108" height="3.6" fill="url(#gp258)"/>
<rect x="245" y="235.1" width="108" height="3.6" fill="url(#gp259)"/>
<rect x="245" y="238.1" width="108" height="3.6" fill="url(#gp260)"/>
<rect x="245" y="241.1" width="108" height="3.6" fill="url(#gp261)"/>
<rect x="245" y="244.1" width="108" height="3.6" fill="url(#gp262)"/>
<rect x="245" y="247.1" width="108" height="3.6" fill="url(#gp263)"/>
<rect x="245" y="250.1" width="108" height="3.6" fill="url(#gp264)"/>
<rect x="245" y="253.1" width="108" height="3.6" fill="url(#gp265)"/>
<rect x="245" y="256.1" width="108" height="3.6" fill="url(#gp266)"/>
<rect x="245" y="259.1" width="108" height="3.6" fill="url(#gp267)"/>
<rect x="245" y="262.1" width="108" height="3.6" fill="url(#gp268)"/>
<rect x="245" y="265.1" width="108" height="3.6" fill="url(#gp269)"/>
<rect x="245" y="268.1" width="108" height="3.6" fill="url(#gp270)"/>
<rect x="245" y="271.1" width="108" height="3.6" fill="url(#gp271)"/>
<rect x="245" y="274.1" width="108" height="3.6" fill="url(#gp272)"/>
<rect x="245" y="277.1" width="108" height="3.6" fill="url(#gp273)"/>
<rect x="245" y="280.1" width="108" height="3.6" fill="url(#gp274)"/>
<rect x="245" y="283.1" width="108" height="3.6" fill="url(#gp275)"/>
<rect x="245" y="286.1" width="108" height="3.6" fill="url(#gp276)"/>
<rect x="245" y="289.1" width="108" height="3.6" fill="url(#gp277)"/>
<rect x="245" y="292.1" width="108" height="3.6" fill="url(#gp278)"/>
<rect x="245" y="295.1" width="108" height="3.6" fill="url(#gp279)"/>
<rect x="245" y="298.1" width="108" height="3.6" fill="url(#gp280)"/>
<rect x="245" y="301.1" width="108" height="3.6" fill="url(#gp281)"/>
<rect x="245" y="304.1" width="108" height="3.6" fill="url(#gp282)"/>
<rect x="245" y="307.1" width="108" height="3.6" fill="url(#gp283)"/>
<rect x="245" y="310.1" width="108" height="3.6" fill="url(#gp284)"/>
<rect x="245" y="313.1" width="108" height="3.6" fill="url(#gp285)"/>
</g>
</g>
<path d="M260.54 64.8V61.71M266.91 64.8V60.88M273.28 64.8V60.49M279.65 64.8V60.1M286.02 64.8V59.85M292.39 64.8V59.75M298.76 64.8V59.64M305.13 64.8V59.74M311.5 64.8V59.85M317.87 64.8V60.09M324.24 64.8V60.51M330.61 64.8V60.94M336.98 64.8V61.75M343.35 64.8V62.47M254.17 71.18V68.79M260.54 71.18V68.1M266.91 71.18V67.26M273.28 71.18V66.87M279.65 71.18V66.47M286.02 71.18V66.22M292.39 71.18V66.11M298.76 71.18V66M305.13 71.18V66.1M311.5 71.18V66.21M317.87 71.18V66.45M324.24 71.18V66.89M330.61 71.18V67.32M336.98 71.18V68.15M343.35 71.18V68.89M254.17 77.57V75.19M260.54 77.57V74.49M266.91 77.57V73.65M273.28 77.57V73.24M279.65 77.57V72.84M286.02 77.57V72.58M292.39 77.57V72.47M298.76 77.57V72.37M305.13 77.57V72.47M311.5 77.57V72.57M317.87 77.57V72.82M324.24 77.57V73.26M330.61 77.57V73.7M336.98 77.57V74.56M343.35 77.57V75.31M349.72 77.57V75.86M247.8 83.95V82.13M254.17 83.95V81.59M260.54 83.95V80.88M266.91 83.95V80.03M273.28 83.95V79.62M279.65 83.95V79.2M286.02 83.95V78.94M292.39 83.95V78.84M298.76 83.95V78.73M305.13 83.95V78.83M311.5 83.95V78.94M317.87 83.95V79.19M324.24 83.95V79.64M330.61 83.95V80.09M336.98 83.95V80.96M343.35 83.95V81.74M349.72 83.95V82.31M247.8 90.34V88.55M254.17 90.34V87.98M260.54 90.34V87.27M266.91 90.34V86.42M273.28 90.34V85.99M279.65 90.34V85.57M286.02 90.34V85.31M292.39 90.34V85.2M298.76 90.34V85.1M305.13 90.34V85.19M311.5 90.34V85.3M317.87 90.34V85.55M324.24 90.34V86.01M330.61 90.34V86.47M336.98 90.34V87.36M343.35 90.34V88.16M349.72 90.34V88.75M247.8 96.72V94.95M254.17 96.72V94.37M260.54 96.72V93.66M266.91 96.72V92.8M273.28 96.72V92.37M279.65 96.72V91.94M286.02 96.72V91.67M292.39 96.72V91.57M298.76 96.72V91.46M305.13 96.72V91.56M311.5 96.72V91.66M317.87 96.72V91.92M324.24 96.72V92.39M330.61 96.72V92.85M336.98 96.72V93.75M343.35 96.72V94.56M349.72 96.72V95.15M247.8 103.1V101.34M254.17 103.1V100.76M260.54 103.1V100.04M266.91 103.1V99.18M273.28 103.1V98.74M279.65 103.1V98.31M286.02 103.1V98.04M292.39 103.1V97.93M298.76 103.1V97.82M305.13 103.1V97.92M311.5 103.1V98.03M317.87 103.1V98.29M324.24 103.1V98.76M330.61 103.1V99.24M336.98 103.1V100.13M343.35 103.1V100.94M349.72 103.1V101.52M247.8 109.49V107.73M254.17 109.49V107.14M260.54 109.49V106.43M266.91 109.49V105.57M273.28 109.49V105.12M279.65 109.49V104.68M286.02 109.49V104.4M292.39 109.49V104.3M298.76 109.49V104.19M305.13 109.49V104.29M311.5 109.49V104.39M317.87 109.49V104.66M324.24 109.49V105.14M330.61 109.49V105.62M336.98 109.49V106.52M343.35 109.49V107.32M349.72 109.49V107.9M247.8 115.87V114.13M254.17 115.87V113.52M260.54 115.87V112.81M266.91 115.87V111.95M273.28 115.87V111.5M279.65 115.87V111.04M286.02 115.87V110.77M292.39 115.87V110.66M298.76 115.87V110.55M305.13 115.87V110.65M311.5 115.87V110.76M317.87 115.87V111.03M324.24 115.87V111.51M330.61 115.87V112M336.98 115.87V112.9M343.35 115.87V113.71M349.72 115.87V114.27M247.8 122.26V120.52M254.17 122.26V119.91M260.54 122.26V119.2M266.91 122.26V118.33M273.28 122.26V117.87M279.65 122.26V117.41M286.02 122.26V117.13M292.39 122.26V117.02M298.76 122.26V116.92M305.13 122.26V117.02M311.5 122.26V117.12M317.87 122.26V117.39M324.24 122.26V117.89M330.61 122.26V118.38M336.98 122.26V119.29M343.35 122.26V120.09M349.72 122.26V120.65M247.8 128.64V126.89M254.17 128.64V126.28M260.54 128.64V125.57M266.91 128.64V124.72M273.28 128.64V124.24M279.65 128.64V123.77M286.02 128.64V123.48M292.39 128.64V123.37M298.76 128.64V123.26M305.13 128.64V123.36M311.5 128.64V123.47M317.87 128.64V123.74M324.24 128.64V124.24M330.61 128.64V124.75M336.98 128.64V125.65M343.35 128.64V126.45M349.72 128.64V126.99M247.8 135.02V133.26M254.17 135.02V132.65M260.54 135.02V131.95M266.91 135.02V131.1M273.28 135.02V130.61M279.65 135.02V130.12M286.02 135.02V129.82M292.39 135.02V129.72M298.76 135.02V129.61M305.13 135.02V129.71M311.5 135.02V129.81M317.87 135.02V130.09M324.24 135.02V130.6M330.61 135.02V131.11M336.98 135.02V132.02M343.35 135.02V132.81M349.72 135.02V133.33M247.8 141.41V139.63M254.17 141.41V139.02M260.54 141.41V138.33M266.91 141.41V137.48M273.28 141.41V136.98M279.65 141.41V136.47M286.02 141.41V136.17M292.39 141.41V136.06M298.76 141.41V135.96M305.13 141.41V136.05M311.5 141.41V136.16M317.87 141.41V136.44M324.24 141.41V136.96M330.61 141.41V137.48M336.98 141.41V138.38M343.35 141.41V139.17M349.72 141.41V139.67M247.8 147.79V146M254.17 147.79V145.39M260.54 147.79V144.71M266.91 147.79V143.87M273.28 147.79V143.35M279.65 147.79V142.82M286.02 147.79V142.51M292.39 147.79V142.41M298.76 147.79V142.3M305.13 147.79V142.4M311.5 147.79V142.51M317.87 147.79V142.79M324.24 147.79V143.31M330.61 147.79V143.84M336.98 147.79V144.74M343.35 147.79V145.52M349.72 147.79V146.01M247.8 154.18V152.38M254.17 154.18V151.77M260.54 154.18V151.09M266.91 154.18V150.25M273.28 154.18V149.71M279.65 154.18V149.18M286.02 154.18V148.86M292.39 154.18V148.75M298.76 154.18V148.65M305.13 154.18V148.75M311.5 154.18V148.85M317.87 154.18V149.14M324.24 154.18V149.67M330.61 154.18V150.21M336.98 154.18V151.11M343.35 154.18V151.89M349.72 154.18V152.36M247.8 160.56V158.76M254.17 160.56V158.15M260.54 160.56V157.47M266.91 160.56V156.63M273.28 160.56V156.08M279.65 160.56V155.53M286.02 160.56V155.2M292.39 160.56V155.1M298.76 160.56V154.99M305.13 160.56V155.09M311.5 160.56V155.2M317.87 160.56V155.49M324.24 160.56V156.04M330.61 160.56V156.59M336.98 160.56V157.49M343.35 160.56V158.26M349.72 160.56V158.72M247.8 166.94V165.15M254.17 166.94V164.54M260.54 166.94V163.85M266.91 166.94V163.02M273.28 166.94V162.45M279.65 166.94V161.88M286.02 166.94V161.55M292.39 166.94V161.44M298.76 166.94V161.34M305.13 166.94V161.44M311.5 166.94V161.54M317.87 166.94V161.84M324.24 166.94V162.41M330.61 166.94V162.97M336.98 166.94V163.87M343.35 166.94V164.63M349.72 166.94V165.08M247.8 173.33V171.53M254.17 173.33V170.92M260.54 173.33V170.24M266.91 173.33V169.4M273.28 173.33V168.82M279.65 173.33V168.24M286.02 173.33V167.9M292.39 173.33V167.79M298.76 173.33V167.68M305.13 173.33V167.78M311.5 173.33V167.89M317.87 173.33V168.19M324.24 173.33V168.77M330.61 173.33V169.36M336.98 173.33V170.25M343.35 173.33V171M349.72 173.33V171.44M247.8 179.71V177.91M254.17 179.71V177.3M260.54 179.71V176.62M266.91 179.71V175.78M273.28 179.71V175.19M279.65 179.71V174.59M286.02 179.71V174.24M292.39 179.71V174.14M298.76 179.71V174.03M305.13 179.71V174.13M311.5 179.71V174.23M317.87 179.71V174.55M324.24 179.71V175.14M330.61 179.71V175.74M336.98 179.71V176.63M343.35 179.71V177.37M349.72 179.71V177.81M247.8 186.1V184.29M254.17 186.1V183.68M260.54 186.1V183M266.91 186.1V182.17M273.28 186.1V181.55M279.65 186.1V180.94M286.02 186.1V180.59M292.39 186.1V180.47M298.76 186.1V180.36M305.13 186.1V180.47M311.5 186.1V180.58M317.87 186.1V180.9M324.24 186.1V181.51M330.61 186.1V182.12M336.98 186.1V183.01M343.35 186.1V183.74M349.72 186.1V184.17M247.8 192.48V190.66M254.17 192.48V190.05M260.54 192.48V189.38M266.91 192.48V188.55M273.28 192.48V187.92M279.65 192.48V187.3M286.02 192.48V186.93M292.39 192.48V186.81M298.76 192.48V186.69M305.13 192.48V186.8M311.5 192.48V186.92M317.87 192.48V187.25M324.24 192.48V187.88M330.61 192.48V188.5M336.98 192.48V189.38M343.35 192.48V190.12M349.72 192.48V190.54M247.8 198.86V197.03M254.17 198.86V196.42M260.54 198.86V195.76M266.91 198.86V194.93M273.28 198.86V194.29M279.65 198.86V193.65M286.02 198.86V193.27M292.39 198.86V193.14M298.76 198.86V193.02M305.13 198.86V193.13M311.5 198.86V193.26M317.87 198.86V193.6M324.24 198.86V194.24M330.61 198.86V194.88M336.98 198.86V195.76M343.35 198.86V196.49M349.72 198.86V196.92M247.8 205.25V203.4M254.17 205.25V202.79M260.54 205.25V202.14M266.91 205.25V201.32M273.28 205.25V200.66M279.65 205.25V200M286.02 205.25V199.61M292.39 205.25V199.48M298.76 205.25V199.34M305.13 205.25V199.47M311.5 205.25V199.6M317.87 205.25V199.95M324.24 205.25V200.61M330.61 205.25V201.27M336.98 205.25V202.14M343.35 205.25V202.86M349.72 205.25V203.29M247.8 211.63V209.77M254.17 211.63V209.16M260.54 211.63V208.51M266.91 211.63V207.7M273.28 211.63V207.03M279.65 211.63V206.36M286.02 211.63V205.95M292.39 211.63V205.81M298.76 211.63V205.67M305.13 211.63V205.8M311.5 211.63V205.94M317.87 211.63V206.31M324.24 211.63V206.98M330.61 211.63V207.65M336.98 211.63V208.52M343.35 211.63V209.23M349.72 211.63V209.66M247.8 218.02V216.17M254.17 218.02V215.56M260.54 218.02V214.9M266.91 218.02V214.08M273.28 218.02V213.4M279.65 218.02V212.71M286.02 218.02V212.29M292.39 218.02V212.15M298.76 218.02V212M305.13 218.02V212.13M311.5 218.02V212.28M317.87 218.02V212.66M324.24 218.02V213.34M330.61 218.02V214.03M336.98 218.02V214.89M343.35 218.02V215.59M349.72 218.02V216.01M247.8 224.4V222.56M254.17 224.4V221.96M260.54 224.4V221.29M266.91 224.4V220.47M273.28 224.4V219.76M279.65 224.4V219.06M286.02 224.4V218.64M292.39 224.4V218.48M298.76 224.4V218.32M305.13 224.4V218.47M311.5 224.4V218.62M317.87 224.4V219.01M324.24 224.4V219.71M330.61 224.4V220.41M336.98 224.4V221.26M343.35 224.4V221.95M349.72 224.4V222.37M247.8 230.78V228.96M254.17 230.78V228.35M260.54 230.78V227.68M266.91 230.78V226.85M273.28 230.78V226.13M279.65 230.78V225.42M286.02 230.78V224.98M292.39 230.78V224.81M298.76 230.78V224.65M305.13 230.78V224.8M311.5 230.78V224.97M317.87 230.78V225.36M324.24 230.78V226.08M330.61 230.78V226.8M336.98 230.78V227.64M343.35 230.78V228.31M349.72 230.78V228.73M247.8 237.17V235.36M254.17 237.17V234.75M260.54 237.17V234.07M266.91 237.17V233.23M273.28 237.17V232.5M279.65 237.17V231.77M286.02 237.17V231.32M292.39 237.17V231.15M298.76 237.17V230.98M305.13 237.17V231.14M311.5 237.17V231.31M317.87 237.17V231.71M324.24 237.17V232.45M330.61 237.17V233.18M336.98 237.17V234.01M343.35 237.17V234.67M349.72 237.17V235.09M247.8 243.55V241.77M254.17 243.55V241.15M260.54 243.55V240.47M266.91 243.55V239.62M273.28 243.55V238.87M279.65 243.55V238.12M286.02 243.55V237.66M292.39 243.55V237.48M298.76 243.55V237.3M305.13 243.55V237.47M311.5 243.55V237.65M317.87 243.55V238.07M324.24 243.55V238.81M330.61 243.55V239.55M336.98 243.55V240.38M343.35 243.55V241.03M349.72 243.55V241.44M247.8 249.94V248.22M254.17 249.94V247.57M260.54 249.94V246.86M266.91 249.94V246M273.28 249.94V245.23M279.65 249.94V244.47M286.02 249.94V243.99M292.39 249.94V243.81M298.76 249.94V243.62M305.13 249.94V243.8M311.5 249.94V244M317.87 249.94V244.43M324.24 249.94V245.17M330.61 249.94V245.92M336.98 249.94V246.74M343.35 249.94V247.38M349.72 249.94V247.79M247.8 256.32V254.67M254.17 256.32V253.98M260.54 256.32V253.26M266.91 256.32V252.38M273.28 256.32V251.6M279.65 256.32V250.81M286.02 256.32V250.33M292.39 256.32V250.13M298.76 256.32V249.93M305.13 256.32V250.13M311.5 256.32V250.35M317.87 256.32V250.79M324.24 256.32V251.53M330.61 256.32V252.28M336.98 256.32V253.1M343.35 256.32V253.73M349.72 256.32V254.15M247.8 262.7V261.12M254.17 262.7V260.4M260.54 262.7V259.66M266.91 262.7V258.76M273.28 262.7V257.96M279.65 262.7V257.16M286.02 262.7V256.66M292.39 262.7V256.45M298.76 262.7V256.25M305.13 262.7V256.47M311.5 262.7V256.7M317.87 262.7V257.15M324.24 262.7V257.89M330.61 262.7V258.64M336.98 262.7V259.46M343.35 262.7V260.09M349.72 262.7V260.5M247.8 269.09V267.58M254.17 269.09V266.83M260.54 269.09V266.07M266.91 269.09V265.15M273.28 269.09V264.33M279.65 269.09V263.52M286.02 269.09V263.01M292.39 269.09V262.79M298.76 269.09V262.58M305.13 269.09V262.81M311.5 269.09V263.06M317.87 269.09V263.52M324.24 269.09V264.26M330.61 269.09V265.01M336.98 269.09V265.82M343.35 269.09V266.44M349.72 269.09V266.85M247.8 275.47V274.09M254.17 275.47V273.29M260.54 275.47V272.49M266.91 275.47V271.53M273.28 275.47V270.72M279.65 275.47V269.9M286.02 275.47V269.39M292.39 275.47V269.16M298.76 275.47V268.93M305.13 275.47V269.18M311.5 275.47V269.44M317.87 275.47V269.9M324.24 275.47V270.65M330.61 275.47V271.39M336.98 275.47V272.19M343.35 275.47V272.78M349.72 275.47V273.19M247.8 281.86V280.59M254.17 281.86V279.75M260.54 281.86V278.91M266.91 281.86V277.92M273.28 281.86V277.1M279.65 281.86V276.29M286.02 281.86V275.77M292.39 281.86V275.53M298.76 281.86V275.29M305.13 281.86V275.54M311.5 281.86V275.82M317.87 281.86V276.29M324.24 281.86V277.03M330.61 281.86V277.77M336.98 281.86V278.56M343.35 281.86V279.13M349.72 281.86V279.53M247.8 288.24V286.98M254.17 288.24V286.18M260.54 288.24V285.32M266.91 288.24V284.29M273.28 288.24V283.48M279.65 288.24V282.67M286.02 288.24V282.14M292.39 288.24V281.89M298.76 288.24V281.64M305.13 288.24V281.9M311.5 288.24V282.19M317.87 288.24V282.66M324.24 288.24V283.41M330.61 288.24V284.15M336.98 288.24V284.92M343.35 288.24V285.47M349.72 288.24V285.87M254.17 294.62V292.52M260.54 294.62V291.66M266.91 294.62V290.64M273.28 294.62V289.82M279.65 294.62V289.01M286.02 294.62V288.48M292.39 294.62V288.24M298.76 294.62V287.99M305.13 294.62V288.25M311.5 294.62V288.53M317.87 294.62V289.01M324.24 294.62V289.75M330.61 294.62V290.5M336.98 294.62V291.27M343.35 294.62V291.81M254.17 301.01V298.85M260.54 301.01V298.01M266.91 301.01V296.98M273.28 301.01V296.17M279.65 301.01V295.36M286.02 301.01V294.83M292.39 301.01V294.58M298.76 301.01V294.33M305.13 301.01V294.6M311.5 301.01V294.88M317.87 301.01V295.36M324.24 301.01V296.1M330.61 301.01V296.84M336.98 301.01V297.6M343.35 301.01V298.14M266.91 307.39V303.31M273.28 307.39V302.52M279.65 307.39V301.73M286.02 307.39V301.21M292.39 307.39V300.96M298.76 307.39V300.71M305.13 307.39V300.97M311.5 307.39V301.26M317.87 307.39V301.73M324.24 307.39V302.48M330.61 307.39V303.22" stroke="#06120e" stroke-opacity="0.88" stroke-width="1.1" fill="none"/>
<path d="M260.54 60.39l-1.22 2.21h2.45zM266.91 59.44l-1.35 2.4h2.7zM273.28 59.05l-1.35 2.4h2.7zM279.65 58.66l-1.35 2.4h2.7zM286.02 58.41l-1.35 2.4h2.7zM292.39 58.31l-1.35 2.4h2.7zM298.76 58.2l-1.35 2.4h2.7zM305.13 58.3l-1.35 2.4h2.7zM311.5 58.41l-1.35 2.4h2.7zM317.87 58.65l-1.35 2.4h2.7zM324.24 59.07l-1.35 2.4h2.7zM330.61 59.5l-1.35 2.4h2.7zM336.98 60.44l-1.21 2.18h2.41zM343.35 61.47l-0.9 1.67h1.8zM254.17 67.77l-0.93 1.71h1.85zM260.54 66.78l-1.22 2.2h2.44zM266.91 65.82l-1.35 2.4h2.7zM273.28 65.43l-1.35 2.4h2.7zM279.65 65.03l-1.35 2.4h2.7zM286.02 64.78l-1.35 2.4h2.7zM292.39 64.67l-1.35 2.4h2.7zM298.76 64.56l-1.35 2.4h2.7zM305.13 64.66l-1.35 2.4h2.7zM311.5 64.77l-1.35 2.4h2.7zM317.87 65.01l-1.35 2.4h2.7zM324.24 65.45l-1.35 2.4h2.7zM330.61 65.88l-1.35 2.4h2.7zM336.98 66.86l-1.2 2.16h2.4zM343.35 67.91l-0.88 1.64h1.77zM254.17 74.17l-0.92 1.7h1.84zM260.54 73.17l-1.22 2.2h2.44zM266.91 72.21l-1.35 2.4h2.7zM273.28 71.8l-1.35 2.4h2.7zM279.65 71.4l-1.35 2.4h2.7zM286.02 71.14l-1.35 2.4h2.7zM292.39 71.03l-1.35 2.4h2.7zM298.76 70.93l-1.35 2.4h2.7zM305.13 71.03l-1.35 2.4h2.7zM311.5 71.13l-1.35 2.4h2.7zM317.87 71.38l-1.35 2.4h2.7zM324.24 71.82l-1.35 2.4h2.7zM330.61 72.26l-1.35 2.4h2.7zM336.98 73.27l-1.19 2.15h2.38zM343.35 74.35l-0.87 1.61h1.73zM349.72 75.13l-0.63 1.22h1.26zM247.8 81.35l-0.68 1.3h1.36zM254.17 80.57l-0.91 1.69h1.83zM260.54 79.57l-1.22 2.19h2.43zM266.91 78.59l-1.35 2.4h2.7zM273.28 78.18l-1.35 2.4h2.7zM279.65 77.76l-1.35 2.4h2.7zM286.02 77.5l-1.35 2.4h2.7zM292.39 77.4l-1.35 2.4h2.7zM298.76 77.29l-1.35 2.4h2.7zM305.13 77.39l-1.35 2.4h2.7zM311.5 77.5l-1.35 2.4h2.7zM317.87 77.75l-1.35 2.4h2.7zM324.24 78.2l-1.35 2.4h2.7zM330.61 78.65l-1.35 2.4h2.7zM336.98 79.68l-1.18 2.14h2.37zM343.35 80.79l-0.85 1.58h1.7zM349.72 81.6l-0.6 1.17h1.21zM247.8 87.78l-0.67 1.28h1.33zM254.17 86.98l-0.91 1.68h1.82zM260.54 85.96l-1.21 2.19h2.42zM266.91 84.98l-1.35 2.4h2.7zM273.28 84.55l-1.35 2.4h2.7zM279.65 84.13l-1.35 2.4h2.7zM286.02 83.87l-1.35 2.4h2.7zM292.39 83.76l-1.35 2.4h2.7zM298.76 83.66l-1.35 2.4h2.7zM305.13 83.75l-1.35 2.4h2.7zM311.5 83.86l-1.35 2.4h2.7zM317.87 84.11l-1.35 2.4h2.7zM324.24 84.57l-1.35 2.4h2.7zM330.61 85.03l-1.35 2.4h2.7zM336.98 86.09l-1.17 2.12h2.35zM343.35 87.23l-0.83 1.55h1.66zM349.72 88.07l-0.6 1.13h1.2zM247.8 94.19l-0.66 1.27h1.32zM254.17 93.37l-0.91 1.68h1.81zM260.54 92.35l-1.21 2.19h2.42zM266.91 91.36l-1.35 2.4h2.7zM273.28 90.93l-1.35 2.4h2.7zM279.65 90.5l-1.35 2.4h2.7zM286.02 90.23l-1.35 2.4h2.7zM292.39 90.13l-1.35 2.4h2.7zM298.76 90.02l-1.35 2.4h2.7zM305.13 90.12l-1.35 2.4h2.7zM311.5 90.22l-1.35 2.4h2.7zM317.87 90.48l-1.35 2.4h2.7zM324.24 90.95l-1.35 2.4h2.7zM330.61 91.41l-1.35 2.4h2.7zM336.98 92.48l-1.17 2.12h2.35zM343.35 93.63l-0.83 1.55h1.66zM349.72 94.47l-0.6 1.12h1.2zM247.8 100.59l-0.66 1.26h1.31zM254.17 99.75l-0.91 1.68h1.81zM260.54 98.73l-1.21 2.19h2.42zM266.91 97.74l-1.35 2.4h2.7zM273.28 97.3l-1.35 2.4h2.7zM279.65 96.87l-1.35 2.4h2.7zM286.02 96.6l-1.35 2.4h2.7zM292.39 96.49l-1.35 2.4h2.7zM298.76 96.38l-1.35 2.4h2.7zM305.13 96.48l-1.35 2.4h2.7zM311.5 96.59l-1.35 2.4h2.7zM317.87 96.85l-1.35 2.4h2.7zM324.24 97.32l-1.35 2.4h2.7zM330.61 97.8l-1.35 2.4h2.7zM336.98 98.86l-1.17 2.12h2.35zM343.35 100.01l-0.83 1.55h1.66zM349.72 100.84l-0.6 1.13h1.2zM247.8 106.98l-0.65 1.25h1.3zM254.17 106.13l-0.91 1.68h1.81zM260.54 105.12l-1.21 2.19h2.42zM266.91 104.13l-1.35 2.4h2.7zM273.28 103.68l-1.35 2.4h2.7zM279.65 103.24l-1.35 2.4h2.7zM286.02 102.96l-1.35 2.4h2.7zM292.39 102.86l-1.35 2.4h2.7zM298.76 102.75l-1.35 2.4h2.7zM305.13 102.85l-1.35 2.4h2.7zM311.5 102.95l-1.35 2.4h2.7zM317.87 103.22l-1.35 2.4h2.7zM324.24 103.7l-1.35 2.4h2.7zM330.61 104.18l-1.35 2.4h2.7zM336.98 105.25l-1.17 2.12h2.35zM343.35 106.4l-0.83 1.55h1.66zM349.72 107.22l-0.6 1.14h1.2zM247.8 113.38l-0.65 1.25h1.29zM254.17 112.52l-0.91 1.68h1.81zM260.54 111.5l-1.21 2.19h2.42zM266.91 110.51l-1.35 2.4h2.7zM273.28 110.06l-1.35 2.4h2.7zM279.65 109.6l-1.35 2.4h2.7zM286.02 109.33l-1.35 2.4h2.7zM292.39 109.22l-1.35 2.4h2.7zM298.76 109.11l-1.35 2.4h2.7zM305.13 109.21l-1.35 2.4h2.7zM311.5 109.32l-1.35 2.4h2.7zM317.87 109.59l-1.35 2.4h2.7zM324.24 110.07l-1.35 2.4h2.7zM330.61 110.56l-1.35 2.4h2.7zM336.98 111.63l-1.17 2.12h2.35zM343.35 112.78l-0.83 1.55h1.66zM349.72 113.59l-0.6 1.14h1.2zM247.8 119.78l-0.64 1.24h1.29zM254.17 118.9l-0.91 1.68h1.81zM260.54 117.88l-1.21 2.19h2.42zM266.91 116.89l-1.35 2.4h2.7zM273.28 116.43l-1.35 2.4h2.7zM279.65 115.97l-1.35 2.4h2.7zM286.02 115.69l-1.35 2.4h2.7zM292.39 115.58l-1.35 2.4h2.7zM298.76 115.48l-1.35 2.4h2.7zM305.13 115.58l-1.35 2.4h2.7zM311.5 115.68l-1.35 2.4h2.7zM317.87 115.95l-1.35 2.4h2.7zM324.24 116.45l-1.35 2.4h2.7zM330.61 116.94l-1.35 2.4h2.7zM336.98 118.01l-1.17 2.12h2.35zM343.35 119.16l-0.83 1.55h1.66zM349.72 119.96l-0.6 1.15h1.2zM247.8 126.14l-0.65 1.25h1.3zM254.17 125.27l-0.91 1.69h1.82zM260.54 124.26l-1.21 2.19h2.43zM266.91 123.28l-1.35 2.4h2.7zM273.28 122.8l-1.35 2.4h2.7zM279.65 122.33l-1.35 2.4h2.7zM286.02 122.04l-1.35 2.4h2.7zM292.39 121.93l-1.35 2.4h2.7zM298.76 121.82l-1.35 2.4h2.7zM305.13 121.92l-1.35 2.4h2.7zM311.5 122.03l-1.35 2.4h2.7zM317.87 122.3l-1.35 2.4h2.7zM324.24 122.8l-1.35 2.4h2.7zM330.61 123.31l-1.35 2.4h2.7zM336.98 124.37l-1.18 2.14h2.36zM343.35 125.51l-0.84 1.57h1.68zM349.72 126.28l-0.61 1.18h1.22zM247.8 132.51l-0.66 1.26h1.31zM254.17 131.63l-0.92 1.7h1.84zM260.54 130.63l-1.22 2.2h2.43zM266.91 129.66l-1.35 2.4h2.7zM273.28 129.17l-1.35 2.4h2.7zM279.65 128.68l-1.35 2.4h2.7zM286.02 128.38l-1.35 2.4h2.7zM292.39 128.28l-1.35 2.4h2.7zM298.76 128.17l-1.35 2.4h2.7zM305.13 128.27l-1.35 2.4h2.7zM311.5 128.37l-1.35 2.4h2.7zM317.87 128.65l-1.35 2.4h2.7zM324.24 129.16l-1.35 2.4h2.7zM330.61 129.67l-1.35 2.4h2.7zM336.98 130.73l-1.19 2.15h2.38zM343.35 131.86l-0.85 1.58h1.7zM349.72 132.6l-0.63 1.21h1.25zM247.8 138.87l-0.66 1.27h1.32zM254.17 138l-0.92 1.71h1.85zM260.54 137.01l-1.22 2.2h2.44zM266.91 136.04l-1.35 2.4h2.7zM273.28 135.54l-1.35 2.4h2.7zM279.65 135.03l-1.35 2.4h2.7zM286.02 134.73l-1.35 2.4h2.7zM292.39 134.62l-1.35 2.4h2.7zM298.76 134.52l-1.35 2.4h2.7zM305.13 134.61l-1.35 2.4h2.7zM311.5 134.72l-1.35 2.4h2.7zM317.87 135l-1.35 2.4h2.7zM324.24 135.52l-1.35 2.4h2.7zM330.61 136.04l-1.35 2.4h2.7zM336.98 137.08l-1.2 2.16h2.4zM343.35 138.2l-0.86 1.6h1.72zM349.72 138.92l-0.65 1.24h1.29zM247.8 145.24l-0.67 1.28h1.33zM254.17 144.36l-0.93 1.71h1.86zM260.54 143.38l-1.22 2.2h2.44zM266.91 142.43l-1.35 2.4h2.7zM273.28 141.91l-1.35 2.4h2.7zM279.65 141.38l-1.35 2.4h2.7zM286.02 141.07l-1.35 2.4h2.7zM292.39 140.97l-1.35 2.4h2.7zM298.76 140.86l-1.35 2.4h2.7zM305.13 140.96l-1.35 2.4h2.7zM311.5 141.07l-1.35 2.4h2.7zM317.87 141.35l-1.35 2.4h2.7zM324.24 141.87l-1.35 2.4h2.7zM330.61 142.4l-1.35 2.4h2.7zM336.98 143.44l-1.21 2.18h2.41zM343.35 144.55l-0.87 1.62h1.74zM349.72 145.25l-0.66 1.27h1.33zM247.8 151.61l-0.67 1.28h1.34zM254.17 150.74l-0.93 1.72h1.86zM260.54 149.76l-1.22 2.21h2.45zM266.91 148.81l-1.35 2.4h2.7zM273.28 148.27l-1.35 2.4h2.7zM279.65 147.74l-1.35 2.4h2.7zM286.02 147.42l-1.35 2.4h2.7zM292.39 147.31l-1.35 2.4h2.7zM298.76 147.21l-1.35 2.4h2.7zM305.13 147.31l-1.35 2.4h2.7zM311.5 147.41l-1.35 2.4h2.7zM317.87 147.7l-1.35 2.4h2.7zM324.24 148.23l-1.35 2.4h2.7zM330.61 148.77l-1.35 2.4h2.7zM336.98 149.8l-1.21 2.19h2.42zM343.35 150.9l-0.88 1.64h1.76zM349.72 151.58l-0.68 1.3h1.36zM247.8 157.99l-0.67 1.28h1.34zM254.17 157.12l-0.93 1.72h1.86zM260.54 156.15l-1.22 2.21h2.45zM266.91 155.19l-1.35 2.4h2.7zM273.28 154.64l-1.35 2.4h2.7zM279.65 154.09l-1.35 2.4h2.7zM286.02 153.76l-1.35 2.4h2.7zM292.39 153.66l-1.35 2.4h2.7zM298.76 153.55l-1.35 2.4h2.7zM305.13 153.65l-1.35 2.4h2.7zM311.5 153.76l-1.35 2.4h2.7zM317.87 154.05l-1.35 2.4h2.7zM324.24 154.6l-1.35 2.4h2.7zM330.61 155.15l-1.35 2.4h2.7zM336.98 156.18l-1.21 2.19h2.43zM343.35 157.27l-0.89 1.64h1.77zM349.72 157.93l-0.69 1.31h1.38zM247.8 164.37l-0.67 1.28h1.34zM254.17 163.5l-0.93 1.72h1.86zM260.54 162.53l-1.22 2.21h2.45zM266.91 161.58l-1.35 2.4h2.7zM273.28 161.01l-1.35 2.4h2.7zM279.65 160.44l-1.35 2.4h2.7zM286.02 160.11l-1.35 2.4h2.7zM292.39 160l-1.35 2.4h2.7zM298.76 159.9l-1.35 2.4h2.7zM305.13 160l-1.35 2.4h2.7zM311.5 160.1l-1.35 2.4h2.7zM317.87 160.4l-1.35 2.4h2.7zM324.24 160.97l-1.35 2.4h2.7zM330.61 161.53l-1.35 2.4h2.7zM336.98 162.55l-1.22 2.2h2.43zM343.35 163.64l-0.89 1.65h1.78zM349.72 164.28l-0.7 1.33h1.4zM247.8 170.76l-0.67 1.28h1.34zM254.17 169.89l-0.93 1.72h1.86zM260.54 168.91l-1.22 2.21h2.45zM266.91 167.96l-1.35 2.4h2.7zM273.28 167.38l-1.35 2.4h2.7zM279.65 166.8l-1.35 2.4h2.7zM286.02 166.46l-1.35 2.4h2.7zM292.39 166.35l-1.35 2.4h2.7zM298.76 166.24l-1.35 2.4h2.7zM305.13 166.34l-1.35 2.4h2.7zM311.5 166.45l-1.35 2.4h2.7zM317.87 166.75l-1.35 2.4h2.7zM324.24 167.33l-1.35 2.4h2.7zM330.61 167.92l-1.35 2.4h2.7zM336.98 168.93l-1.22 2.2h2.44zM343.35 170l-0.9 1.66h1.79zM349.72 170.64l-0.71 1.35h1.41zM247.8 177.14l-0.67 1.28h1.34zM254.17 176.27l-0.93 1.72h1.86zM260.54 175.3l-1.22 2.21h2.45zM266.91 174.34l-1.35 2.4h2.7zM273.28 173.75l-1.35 2.4h2.7zM279.65 173.15l-1.35 2.4h2.7zM286.02 172.8l-1.35 2.4h2.7zM292.39 172.7l-1.35 2.4h2.7zM298.76 172.59l-1.35 2.4h2.7zM305.13 172.69l-1.35 2.4h2.7zM311.5 172.79l-1.35 2.4h2.7zM317.87 173.11l-1.35 2.4h2.7zM324.24 173.7l-1.35 2.4h2.7zM330.61 174.3l-1.35 2.4h2.7zM336.98 175.3l-1.22 2.2h2.44zM343.35 176.37l-0.9 1.67h1.81zM349.72 176.99l-0.72 1.36h1.43zM247.8 183.51l-0.67 1.29h1.35zM254.17 182.64l-0.94 1.73h1.87zM260.54 181.68l-1.23 2.21h2.45zM266.91 180.73l-1.35 2.4h2.7zM273.28 180.11l-1.35 2.4h2.7zM279.65 179.5l-1.35 2.4h2.7zM286.02 179.15l-1.35 2.4h2.7zM292.39 179.03l-1.35 2.4h2.7zM298.76 178.92l-1.35 2.4h2.7zM305.13 179.03l-1.35 2.4h2.7zM311.5 179.14l-1.35 2.4h2.7zM317.87 179.46l-1.35 2.4h2.7zM324.24 180.07l-1.35 2.4h2.7zM330.61 180.68l-1.35 2.4h2.7zM336.98 181.68l-1.22 2.21h2.45zM343.35 182.74l-0.91 1.68h1.82zM349.72 183.35l-0.72 1.37h1.45zM247.8 189.88l-0.68 1.3h1.36zM254.17 189.01l-0.94 1.74h1.88zM260.54 188.05l-1.23 2.21h2.46zM266.91 187.11l-1.35 2.4h2.7zM273.28 186.48l-1.35 2.4h2.7zM279.65 185.86l-1.35 2.4h2.7zM286.02 185.49l-1.35 2.4h2.7zM292.39 185.37l-1.35 2.4h2.7zM298.76 185.25l-1.35 2.4h2.7zM305.13 185.36l-1.35 2.4h2.7zM311.5 185.48l-1.35 2.4h2.7zM317.87 185.81l-1.35 2.4h2.7zM324.24 186.44l-1.35 2.4h2.7zM330.61 187.06l-1.35 2.4h2.7zM336.98 188.06l-1.23 2.21h2.45zM343.35 189.1l-0.91 1.69h1.83zM349.72 189.72l-0.73 1.38h1.46zM247.8 196.24l-0.69 1.31h1.37zM254.17 195.37l-0.95 1.74h1.89zM260.54 194.43l-1.23 2.22h2.46zM266.91 193.49l-1.35 2.4h2.7zM273.28 192.85l-1.35 2.4h2.7zM279.65 192.21l-1.35 2.4h2.7zM286.02 191.83l-1.35 2.4h2.7zM292.39 191.7l-1.35 2.4h2.7zM298.76 191.58l-1.35 2.4h2.7zM305.13 191.69l-1.35 2.4h2.7zM311.5 191.82l-1.35 2.4h2.7zM317.87 192.16l-1.35 2.4h2.7zM324.24 192.8l-1.35 2.4h2.7zM330.61 193.44l-1.35 2.4h2.7zM336.98 194.43l-1.23 2.22h2.46zM343.35 195.47l-0.92 1.7h1.84zM349.72 196.08l-0.74 1.39h1.47zM247.8 202.61l-0.69 1.32h1.38zM254.17 201.74l-0.95 1.75h1.9zM260.54 200.8l-1.23 2.22h2.47zM266.91 199.88l-1.35 2.4h2.7zM273.28 199.22l-1.35 2.4h2.7zM279.65 198.56l-1.35 2.4h2.7zM286.02 198.17l-1.35 2.4h2.7zM292.39 198.04l-1.35 2.4h2.7zM298.76 197.9l-1.35 2.4h2.7zM305.13 198.03l-1.35 2.4h2.7zM311.5 198.16l-1.35 2.4h2.7zM317.87 198.51l-1.35 2.4h2.7zM324.24 199.17l-1.35 2.4h2.7zM330.61 199.83l-1.35 2.4h2.7zM336.98 200.81l-1.23 2.22h2.46zM343.35 201.84l-0.92 1.71h1.85zM349.72 202.44l-0.74 1.4h1.48zM247.8 208.97l-0.7 1.33h1.39zM254.17 208.11l-0.96 1.76h1.92zM260.54 207.18l-1.24 2.23h2.47zM266.91 206.26l-1.35 2.4h2.7zM273.28 205.59l-1.35 2.4h2.7zM279.65 204.92l-1.35 2.4h2.7zM286.02 204.51l-1.35 2.4h2.7zM292.39 204.37l-1.35 2.4h2.7zM298.76 204.23l-1.35 2.4h2.7zM305.13 204.36l-1.35 2.4h2.7zM311.5 204.5l-1.35 2.4h2.7zM317.87 204.87l-1.35 2.4h2.7zM324.24 205.54l-1.35 2.4h2.7zM330.61 206.21l-1.35 2.4h2.7zM336.98 207.18l-1.23 2.22h2.47zM343.35 208.2l-0.93 1.72h1.86zM349.72 208.81l-0.75 1.41h1.49zM247.8 215.37l-0.69 1.32h1.38zM254.17 214.51l-0.95 1.76h1.91zM260.54 213.57l-1.23 2.22h2.47zM266.91 212.64l-1.35 2.4h2.7zM273.28 211.96l-1.35 2.4h2.7zM279.65 211.27l-1.35 2.4h2.7zM286.02 210.85l-1.35 2.4h2.7zM292.39 210.71l-1.35 2.4h2.7zM298.76 210.56l-1.35 2.4h2.7zM305.13 210.69l-1.35 2.4h2.7zM311.5 210.84l-1.35 2.4h2.7zM317.87 211.22l-1.35 2.4h2.7zM324.24 211.9l-1.35 2.4h2.7zM330.61 212.59l-1.35 2.4h2.7zM336.98 213.55l-1.24 2.23h2.48zM343.35 214.55l-0.94 1.73h1.88zM349.72 215.16l-0.76 1.43h1.52zM247.8 221.78l-0.69 1.31h1.37zM254.17 220.91l-0.95 1.75h1.89zM260.54 219.96l-1.23 2.22h2.46zM266.91 219.03l-1.35 2.4h2.7zM273.28 218.32l-1.35 2.4h2.7zM279.65 217.62l-1.35 2.4h2.7zM286.02 217.2l-1.35 2.4h2.7zM292.39 217.04l-1.35 2.4h2.7zM298.76 216.88l-1.35 2.4h2.7zM305.13 217.03l-1.35 2.4h2.7zM311.5 217.18l-1.35 2.4h2.7zM317.87 217.57l-1.35 2.4h2.7zM324.24 218.27l-1.35 2.4h2.7zM330.61 218.97l-1.35 2.4h2.7zM336.98 219.92l-1.24 2.24h2.49zM343.35 220.9l-0.95 1.75h1.9zM349.72 221.5l-0.77 1.45h1.54zM247.8 228.18l-0.68 1.3h1.36zM254.17 227.31l-0.94 1.74h1.88zM260.54 226.35l-1.23 2.21h2.46zM266.91 225.41l-1.35 2.4h2.7zM273.28 224.69l-1.35 2.4h2.7zM279.65 223.98l-1.35 2.4h2.7zM286.02 223.54l-1.35 2.4h2.7zM292.39 223.37l-1.35 2.4h2.7zM298.76 223.21l-1.35 2.4h2.7zM305.13 223.36l-1.35 2.4h2.7zM311.5 223.53l-1.35 2.4h2.7zM317.87 223.92l-1.35 2.4h2.7zM324.24 224.64l-1.35 2.4h2.7zM330.61 225.36l-1.35 2.4h2.7zM336.98 226.29l-1.25 2.25h2.5zM343.35 227.25l-0.96 1.77h1.92zM349.72 227.85l-0.78 1.47h1.56zM247.8 234.58l-0.68 1.29h1.35zM254.17 233.71l-0.94 1.73h1.87zM260.54 232.75l-1.23 2.21h2.45zM266.91 231.79l-1.35 2.4h2.7zM273.28 231.06l-1.35 2.4h2.7zM279.65 230.33l-1.35 2.4h2.7zM286.02 229.88l-1.35 2.4h2.7zM292.39 229.71l-1.35 2.4h2.7zM298.76 229.54l-1.35 2.4h2.7zM305.13 229.7l-1.35 2.4h2.7zM311.5 229.87l-1.35 2.4h2.7zM317.87 230.27l-1.35 2.4h2.7zM324.24 231.01l-1.35 2.4h2.7zM330.61 231.74l-1.35 2.4h2.7zM336.98 232.65l-1.25 2.26h2.51zM343.35 233.6l-0.97 1.79h1.94zM349.72 234.19l-0.79 1.49h1.58zM247.8 241.01l-0.66 1.27h1.33zM254.17 240.12l-0.93 1.72h1.86zM260.54 239.14l-1.22 2.2h2.45zM266.91 238.18l-1.35 2.4h2.7zM273.28 237.43l-1.35 2.4h2.7zM279.65 236.68l-1.35 2.4h2.7zM286.02 236.22l-1.35 2.4h2.7zM292.39 236.04l-1.35 2.4h2.7zM298.76 235.86l-1.35 2.4h2.7zM305.13 236.03l-1.35 2.4h2.7zM311.5 236.21l-1.35 2.4h2.7zM317.87 236.63l-1.35 2.4h2.7zM324.24 237.37l-1.35 2.4h2.7zM330.61 238.11l-1.35 2.4h2.7zM336.98 239.02l-1.26 2.27h2.52zM343.35 239.94l-0.98 1.8h1.96zM349.72 240.54l-0.8 1.51h1.61zM247.8 247.48l-0.64 1.23h1.27zM254.17 246.55l-0.92 1.69h1.83zM260.54 245.55l-1.22 2.19h2.43zM266.91 244.56l-1.35 2.4h2.7zM273.28 243.79l-1.35 2.4h2.7zM279.65 243.03l-1.35 2.4h2.7zM286.02 242.55l-1.35 2.4h2.7zM292.39 242.37l-1.35 2.4h2.7zM298.76 242.18l-1.35 2.4h2.7zM305.13 242.36l-1.35 2.4h2.7zM311.5 242.56l-1.35 2.4h2.7zM317.87 242.99l-1.35 2.4h2.7zM324.24 243.73l-1.35 2.4h2.7zM330.61 244.48l-1.35 2.4h2.7zM336.98 245.37l-1.27 2.28h2.54zM343.35 246.28l-1 1.83h1.99zM349.72 246.88l-0.82 1.53h1.64zM247.8 253.96l-0.61 1.18h1.22zM254.17 252.98l-0.9 1.67h1.81zM260.54 251.95l-1.21 2.18h2.42zM266.91 250.94l-1.35 2.4h2.7zM273.28 250.16l-1.35 2.4h2.7zM279.65 249.37l-1.35 2.4h2.7zM286.02 248.89l-1.35 2.4h2.7zM292.39 248.69l-1.35 2.4h2.7zM298.76 248.49l-1.35 2.4h2.7zM305.13 248.69l-1.35 2.4h2.7zM311.5 248.91l-1.35 2.4h2.7zM317.87 249.35l-1.35 2.4h2.7zM324.24 250.09l-1.35 2.4h2.7zM330.61 250.84l-1.35 2.4h2.7zM336.98 251.72l-1.28 2.3h2.56zM343.35 252.62l-1.01 1.85h2.02zM349.72 253.21l-0.83 1.55h1.66zM247.8 260.44l-0.6 1.13h1.2zM254.17 259.41l-0.89 1.65h1.78zM260.54 258.36l-1.2 2.17h2.41zM266.91 257.32l-1.35 2.4h2.7zM273.28 256.52l-1.35 2.4h2.7zM279.65 255.72l-1.35 2.4h2.7zM286.02 255.22l-1.35 2.4h2.7zM292.39 255.01l-1.35 2.4h2.7zM298.76 254.81l-1.35 2.4h2.7zM305.13 255.03l-1.35 2.4h2.7zM311.5 255.26l-1.35 2.4h2.7zM317.87 255.71l-1.35 2.4h2.7zM324.24 256.45l-1.35 2.4h2.7zM330.61 257.2l-1.35 2.4h2.7zM336.98 258.07l-1.29 2.32h2.58zM343.35 258.96l-1.02 1.87h2.04zM349.72 259.55l-0.85 1.58h1.69zM247.8 266.94l-0.6 1.07h1.2zM254.17 265.86l-0.87 1.62h1.74zM260.54 264.78l-1.19 2.16h2.39zM266.91 263.71l-1.35 2.4h2.7zM273.28 262.89l-1.35 2.4h2.7zM279.65 262.08l-1.35 2.4h2.7zM286.02 261.57l-1.35 2.4h2.7zM292.39 261.35l-1.35 2.4h2.7zM298.76 261.14l-1.35 2.4h2.7zM305.13 261.37l-1.35 2.4h2.7zM311.5 261.62l-1.35 2.4h2.7zM317.87 262.08l-1.35 2.4h2.7zM324.24 262.82l-1.35 2.4h2.7zM330.61 263.57l-1.35 2.4h2.7zM336.98 264.42l-1.3 2.33h2.6zM343.35 265.3l-1.04 1.89h2.07zM349.72 265.89l-0.86 1.6h1.72zM247.8 273.5l-0.6 0.99h1.2zM254.17 272.35l-0.84 1.56h1.67zM260.54 271.21l-1.18 2.13h2.36zM266.91 270.09l-1.35 2.4h2.7zM273.28 269.28l-1.35 2.4h2.7zM279.65 268.46l-1.35 2.4h2.7zM286.02 267.95l-1.35 2.4h2.7zM292.39 267.72l-1.35 2.4h2.7zM298.76 267.49l-1.35 2.4h2.7zM305.13 267.74l-1.35 2.4h2.7zM311.5 268l-1.35 2.4h2.7zM317.87 268.46l-1.35 2.4h2.7zM324.24 269.21l-1.35 2.4h2.7zM330.61 269.95l-1.35 2.4h2.7zM336.98 270.78l-1.31 2.34h2.61zM343.35 271.63l-1.05 1.92h2.1zM349.72 272.21l-0.88 1.63h1.76zM247.8 280.05l-0.6 0.9h1.2zM254.17 278.84l-0.8 1.51h1.61zM260.54 277.65l-1.16 2.1h2.32zM266.91 276.48l-1.35 2.4h2.7zM273.28 275.66l-1.35 2.4h2.7zM279.65 274.85l-1.35 2.4h2.7zM286.02 274.33l-1.35 2.4h2.7zM292.39 274.09l-1.35 2.4h2.7zM298.76 273.85l-1.35 2.4h2.7zM305.13 274.1l-1.35 2.4h2.7zM311.5 274.38l-1.35 2.4h2.7zM317.87 274.85l-1.35 2.4h2.7zM324.24 275.59l-1.35 2.4h2.7zM330.61 276.33l-1.35 2.4h2.7zM336.98 277.14l-1.31 2.36h2.63zM343.35 277.96l-1.07 1.95h2.14zM349.72 278.54l-0.9 1.66h1.79zM247.8 286.44l-0.6 0.9h1.2zM254.17 285.3l-0.78 1.47h1.56zM260.54 284.07l-1.15 2.09h2.3zM266.91 282.85l-1.35 2.4h2.7zM273.28 282.04l-1.35 2.4h2.7zM279.65 281.23l-1.35 2.4h2.7zM286.02 280.7l-1.35 2.4h2.7zM292.39 280.45l-1.35 2.4h2.7zM298.76 280.2l-1.35 2.4h2.7zM305.13 280.46l-1.35 2.4h2.7zM311.5 280.75l-1.35 2.4h2.7zM317.87 281.22l-1.35 2.4h2.7zM324.24 281.97l-1.35 2.4h2.7zM330.61 282.71l-1.35 2.4h2.7zM336.98 283.5l-1.32 2.37h2.65zM343.35 284.29l-1.09 1.98h2.17zM349.72 284.86l-0.91 1.69h1.83zM254.17 291.61l-0.8 1.51h1.61zM260.54 290.4l-1.17 2.11h2.34zM266.91 289.2l-1.35 2.4h2.7zM273.28 288.38l-1.35 2.4h2.7zM279.65 287.57l-1.35 2.4h2.7zM286.02 287.04l-1.35 2.4h2.7zM292.39 286.8l-1.35 2.4h2.7zM298.76 286.55l-1.35 2.4h2.7zM305.13 286.81l-1.35 2.4h2.7zM311.5 287.09l-1.35 2.4h2.7zM317.87 287.57l-1.35 2.4h2.7zM324.24 288.31l-1.35 2.4h2.7zM330.61 289.06l-1.35 2.4h2.7zM336.98 289.83l-1.34 2.4h2.68zM343.35 290.6l-1.11 2.01h2.21zM254.17 297.92l-0.83 1.54h1.65zM260.54 296.72l-1.19 2.14h2.37zM266.91 295.54l-1.35 2.4h2.7zM273.28 294.73l-1.35 2.4h2.7zM279.65 293.92l-1.35 2.4h2.7zM286.02 293.39l-1.35 2.4h2.7zM292.39 293.14l-1.35 2.4h2.7zM298.76 292.89l-1.35 2.4h2.7zM305.13 293.16l-1.35 2.4h2.7zM311.5 293.44l-1.35 2.4h2.7zM317.87 293.92l-1.35 2.4h2.7zM324.24 294.66l-1.35 2.4h2.7zM330.61 295.4l-1.35 2.4h2.7zM336.98 296.16l-1.35 2.4h2.7zM343.35 296.91l-1.13 2.05h2.26zM266.91 301.87l-1.35 2.4h2.7zM273.28 301.08l-1.35 2.4h2.7zM279.65 300.29l-1.35 2.4h2.7zM286.02 299.77l-1.35 2.4h2.7zM292.39 299.52l-1.35 2.4h2.7zM298.76 299.27l-1.35 2.4h2.7zM305.13 299.53l-1.35 2.4h2.7zM311.5 299.82l-1.35 2.4h2.7zM317.87 300.29l-1.35 2.4h2.7zM324.24 301.04l-1.35 2.4h2.7zM330.61 301.78l-1.35 2.4h2.7z" fill="#06120e" fill-opacity="0.92"/>
<g clip-path="url(#cp3)"><g filter="url(#bl)">
<rect x="433.1" y="56.1" width="103.7" height="3.6" fill="url(#gp30)"/>
<rect x="433.1" y="59.1" width="103.7" height="3.6" fill="url(#gp31)"/>
<rect x="433.1" y="62.1" width="103.7" height="3.6" fill="url(#gp32)"/>
<rect x="433.1" y="65.1" width="103.7" height="3.6" fill="url(#gp33)"/>
<rect x="433.1" y="68.1" width="103.7" height="3.6" fill="url(#gp34)"/>
<rect x="433.1" y="71.1" width="103.7" height="3.6" fill="url(#gp35)"/>
<rect x="433.1" y="74.1" width="103.7" height="3.6" fill="url(#gp36)"/>
<rect x="433.1" y="77.1" width="103.7" height="3.6" fill="url(#gp37)"/>
<rect x="433.1" y="80.1" width="103.7" height="3.6" fill="url(#gp38)"/>
<rect x="433.1" y="83.1" width="103.7" height="3.6" fill="url(#gp39)"/>
<rect x="433.1" y="86.1" width="103.7" height="3.6" fill="url(#gp310)"/>
<rect x="433.1" y="89.1" width="103.7" height="3.6" fill="url(#gp311)"/>
<rect x="433.1" y="92.1" width="103.7" height="3.6" fill="url(#gp312)"/>
<rect x="433.1" y="95.1" width="103.7" height="3.6" fill="url(#gp313)"/>
<rect x="433.1" y="98.1" width="103.7" height="3.6" fill="url(#gp314)"/>
<rect x="433.1" y="101.1" width="103.7" height="3.6" fill="url(#gp315)"/>
<rect x="433.1" y="104.1" width="103.7" height="3.6" fill="url(#gp316)"/>
<rect x="433.1" y="107.1" width="103.7" height="3.6" fill="url(#gp317)"/>
<rect x="433.1" y="110.1" width="103.7" height="3.6" fill="url(#gp318)"/>
<rect x="433.1" y="113.1" width="103.7" height="3.6" fill="url(#gp319)"/>
<rect x="433.1" y="116.1" width="103.7" height="3.6" fill="url(#gp320)"/>
<rect x="433.1" y="119.1" width="103.7" height="3.6" fill="url(#gp321)"/>
<rect x="433.1" y="122.1" width="103.7" height="3.6" fill="url(#gp322)"/>
<rect x="433.1" y="125.1" width="103.7" height="3.6" fill="url(#gp323)"/>
<rect x="433.1" y="128.1" width="103.7" height="3.6" fill="url(#gp324)"/>
<rect x="433.1" y="131.1" width="103.7" height="3.6" fill="url(#gp325)"/>
<rect x="433.1" y="134.1" width="103.7" height="3.6" fill="url(#gp326)"/>
<rect x="433.1" y="137.1" width="103.7" height="3.6" fill="url(#gp327)"/>
<rect x="433.1" y="140.1" width="103.7" height="3.6" fill="url(#gp328)"/>
<rect x="433.1" y="143.1" width="103.7" height="3.6" fill="url(#gp329)"/>
<rect x="433.1" y="146.1" width="103.7" height="3.6" fill="url(#gp330)"/>
<rect x="433.1" y="149.1" width="103.7" height="3.6" fill="url(#gp331)"/>
<rect x="433.1" y="152.1" width="103.7" height="3.6" fill="url(#gp332)"/>
<rect x="433.1" y="155.1" width="103.7" height="3.6" fill="url(#gp333)"/>
<rect x="433.1" y="158.1" width="103.7" height="3.6" fill="url(#gp334)"/>
<rect x="433.1" y="161.1" width="103.7" height="3.6" fill="url(#gp335)"/>
<rect x="433.1" y="164.1" width="103.7" height="3.6" fill="url(#gp336)"/>
<rect x="433.1" y="167.1" width="103.7" height="3.6" fill="url(#gp337)"/>
<rect x="433.1" y="170.1" width="103.7" height="3.6" fill="url(#gp338)"/>
<rect x="433.1" y="173.1" width="103.7" height="3.6" fill="url(#gp339)"/>
<rect x="433.1" y="176.1" width="103.7" height="3.6" fill="url(#gp340)"/>
<rect x="433.1" y="179.1" width="103.7" height="3.6" fill="url(#gp341)"/>
<rect x="433.1" y="182.1" width="103.7" height="3.6" fill="url(#gp342)"/>
<rect x="433.1" y="185.1" width="103.7" height="3.6" fill="url(#gp343)"/>
<rect x="433.1" y="188.1" width="103.7" height="3.6" fill="url(#gp344)"/>
<rect x="433.1" y="191.1" width="103.7" height="3.6" fill="url(#gp345)"/>
<rect x="433.1" y="194.1" width="103.7" height="3.6" fill="url(#gp346)"/>
<rect x="433.1" y="197.1" width="103.7" height="3.6" fill="url(#gp347)"/>
<rect x="433.1" y="200.1" width="103.7" height="3.6" fill="url(#gp348)"/>
<rect x="433.1" y="203.1" width="103.7" height="3.6" fill="url(#gp349)"/>
<rect x="433.1" y="206.1" width="103.7" height="3.6" fill="url(#gp350)"/>
<rect x="433.1" y="209.1" width="103.7" height="3.6" fill="url(#gp351)"/>
<rect x="433.1" y="212.1" width="103.7" height="3.6" fill="url(#gp352)"/>
<rect x="433.1" y="215.1" width="103.7" height="3.6" fill="url(#gp353)"/>
<rect x="433.1" y="218.1" width="103.7" height="3.6" fill="url(#gp354)"/>
<rect x="433.1" y="221.1" width="103.7" height="3.6" fill="url(#gp355)"/>
<rect x="433.1" y="224.1" width="103.7" height="3.6" fill="url(#gp356)"/>
<rect x="433.1" y="227.1" width="103.7" height="3.6" fill="url(#gp357)"/>
<rect x="433.1" y="230.1" width="103.7" height="3.6" fill="url(#gp358)"/>
<rect x="433.1" y="233.1" width="103.7" height="3.6" fill="url(#gp359)"/>
<rect x="433.1" y="236.1" width="103.7" height="3.6" fill="url(#gp360)"/>
<rect x="433.1" y="239.1" width="103.7" height="3.6" fill="url(#gp361)"/>
<rect x="433.1" y="242.1" width="103.7" height="3.6" fill="url(#gp362)"/>
<rect x="433.1" y="245.1" width="103.7" height="3.6" fill="url(#gp363)"/>
<rect x="433.1" y="248.1" width="103.7" height="3.6" fill="url(#gp364)"/>
<rect x="433.1" y="251.1" width="103.7" height="3.6" fill="url(#gp365)"/>
<rect x="433.1" y="254.1" width="103.7" height="3.6" fill="url(#gp366)"/>
<rect x="433.1" y="257.1" width="103.7" height="3.6" fill="url(#gp367)"/>
<rect x="433.1" y="260.1" width="103.7" height="3.6" fill="url(#gp368)"/>
<rect x="433.1" y="263.1" width="103.7" height="3.6" fill="url(#gp369)"/>
<rect x="433.1" y="266.1" width="103.7" height="3.6" fill="url(#gp370)"/>
<rect x="433.1" y="269.1" width="103.7" height="3.6" fill="url(#gp371)"/>
<rect x="433.1" y="272.1" width="103.7" height="3.6" fill="url(#gp372)"/>
<rect x="433.1" y="275.1" width="103.7" height="3.6" fill="url(#gp373)"/>
<rect x="433.1" y="278.1" width="103.7" height="3.6" fill="url(#gp374)"/>
<rect x="433.1" y="281.1" width="103.7" height="3.6" fill="url(#gp375)"/>
<rect x="433.1" y="284.1" width="103.7" height="3.6" fill="url(#gp376)"/>
<rect x="433.1" y="287.1" width="103.7" height="3.6" fill="url(#gp377)"/>
<rect x="433.1" y="290.1" width="103.7" height="3.6" fill="url(#gp378)"/>
<rect x="433.1" y="293.1" width="103.7" height="3.6" fill="url(#gp379)"/>
<rect x="433.1" y="296.1" width="103.7" height="3.6" fill="url(#gp380)"/>
<rect x="433.1" y="299.1" width="103.7" height="3.6" fill="url(#gp381)"/>
<rect x="433.1" y="302.1" width="103.7" height="3.6" fill="url(#gp382)"/>
<rect x="433.1" y="305.1" width="103.7" height="3.6" fill="url(#gp383)"/>
<rect x="433.1" y="308.1" width="103.7" height="3.6" fill="url(#gp384)"/>
<rect x="433.1" y="311.1" width="103.7" height="3.6" fill="url(#gp385)"/>
<rect x="433.1" y="314.1" width="103.7" height="3.6" fill="url(#gp386)"/>
<rect x="433.1" y="317.1" width="103.7" height="3.6" fill="url(#gp387)"/>
</g>
</g>
<path d="M448.82 62.6V59.41M455.33 62.6V58.84M461.84 62.6V58.5M468.35 62.6V58.17M474.86 62.6V58.03M481.37 62.6V57.92M487.88 62.6V57.9M494.39 62.6V58.01M500.9 62.6V58.14M507.41 62.6V58.51M513.92 62.6V58.88M520.43 62.6V59.48M526.94 62.6V60.1M442.31 69.12V66.44M448.82 69.12V65.93M455.33 69.12V65.35M461.84 69.12V65.02M468.35 69.12V64.68M474.86 69.12V64.53M481.37 69.12V64.42M487.88 69.12V64.41M494.39 69.12V64.52M500.9 69.12V64.65M507.41 69.12V65.02M513.92 69.12V65.4M520.43 69.12V66.01M526.94 69.12V66.63M533.45 69.12V67.26M435.8 75.64V73.49M442.31 75.64V72.96M448.82 75.64V72.45M455.33 75.64V71.87M461.84 75.64V71.53M468.35 75.64V71.19M474.86 75.64V71.04M481.37 75.64V70.93M487.88 75.64V70.92M494.39 75.64V71.03M500.9 75.64V71.15M507.41 75.64V71.53M513.92 75.64V71.91M520.43 75.64V72.54M526.94 75.64V73.17M533.45 75.64V73.79M435.8 82.16V80.01M442.31 82.16V79.48M448.82 82.16V78.97M455.33 82.16V78.39M461.84 82.16V78.04M468.35 82.16V77.69M474.86 82.16V77.54M481.37 82.16V77.43M487.88 82.16V77.42M494.39 82.16V77.53M500.9 82.16V77.66M507.41 82.16V78.05M513.92 82.16V78.43M520.43 82.16V79.06M526.94 82.16V79.71M533.45 82.16V80.32M435.8 88.68V86.53M442.31 88.68V86M448.82 88.68V85.49M455.33 88.68V84.91M461.84 88.68V84.55M468.35 88.68V84.2M474.86 88.68V84.05M481.37 88.68V83.94M487.88 88.68V83.93M494.39 88.68V84.04M500.9 88.68V84.17M507.41 88.68V84.56M513.92 88.68V84.95M520.43 88.68V85.59M526.94 88.68V86.25M533.45 88.68V86.86M435.8 95.2V93.05M442.31 95.2V92.52M448.82 95.2V92.01M455.33 95.2V91.43M461.84 95.2V91.07M468.35 95.2V90.71M474.86 95.2V90.55M481.37 95.2V90.44M487.88 95.2V90.43M494.39 95.2V90.54M500.9 95.2V90.67M507.41 95.2V91.07M513.92 95.2V91.47M520.43 95.2V92.12M526.94 95.2V92.78M533.45 95.2V93.39M435.8 101.72V99.57M442.31 101.72V99.04M448.82 101.72V98.53M455.33 101.72V97.95M461.84 101.72V97.58M468.35 101.72V97.21M474.86 101.72V97.06M481.37 101.72V96.95M487.88 101.72V96.94M494.39 101.72V97.05M500.9 101.72V97.18M507.41 101.72V97.58M513.92 101.72V97.99M520.43 101.72V98.65M526.94 101.72V99.32M533.45 101.72V99.93M435.8 108.24V106.09M442.31 108.24V105.56M448.82 108.24V105.04M455.33 108.24V104.46M461.84 108.24V104.08M468.35 108.24V103.71M474.86 108.24V103.56M481.37 108.24V103.45M487.88 108.24V103.44M494.39 108.24V103.55M500.9 108.24V103.67M507.41 108.24V104.08M513.92 108.24V104.49M520.43 108.24V105.16M526.94 108.24V105.83M533.45 108.24V106.43M435.8 114.76V112.61M442.31 114.76V112.08M448.82 114.76V111.56M455.33 114.76V110.96M461.84 114.76V110.59M468.35 114.76V110.21M474.86 114.76V110.05M481.37 114.76V109.94M487.88 114.76V109.93M494.39 114.76V110.04M500.9 114.76V110.17M507.41 114.76V110.59M513.92 114.76V111M520.43 114.76V111.67M526.94 114.76V112.33M533.45 114.76V112.93M435.8 121.28V119.13M442.31 121.28V118.6M448.82 121.28V118.07M455.33 121.28V117.47M461.84 121.28V117.09M468.35 121.28V116.71M474.86 121.28V116.55M481.37 121.28V116.44M487.88 121.28V116.43M494.39 121.28V116.54M500.9 121.28V116.67M507.41 121.28V117.09M513.92 121.28V117.51M520.43 121.28V118.17M526.94 121.28V118.84M533.45 121.28V119.42M435.8 127.8V125.65M442.31 127.8V125.12M448.82 127.8V124.59M455.33 127.8V123.98M461.84 127.8V123.59M468.35 127.8V123.2M474.86 127.8V123.05M481.37 127.8V122.94M487.88 127.8V122.93M494.39 127.8V123.04M500.9 127.8V123.17M507.41 127.8V123.59M513.92 127.8V124.02M520.43 127.8V124.68M526.94 127.8V125.34M533.45 127.8V125.92M435.8 134.32V132.17M442.31 134.32V131.64M448.82 134.32V131.1M455.33 134.32V130.49M461.84 134.32V130.09M468.35 134.32V129.7M474.86 134.32V129.55M481.37 134.32V129.43M487.88 134.32V129.42M494.39 134.32V129.53M500.9 134.32V129.66M507.41 134.32V130.09M513.92 134.32V130.52M520.43 134.32V131.19M526.94 134.32V131.85M533.45 134.32V132.42M435.8 140.84V138.69M442.31 140.84V138.16M448.82 140.84V137.62M455.33 140.84V136.99M461.84 140.84V136.6M468.35 140.84V136.2M474.86 140.84V136.04M481.37 140.84V135.93M487.88 140.84V135.92M494.39 140.84V136.03M500.9 140.84V136.16M507.41 140.84V136.6M513.92 140.84V137.03M520.43 140.84V137.7M526.94 140.84V138.35M533.45 140.84V138.92M435.8 147.36V145.21M442.31 147.36V144.68M448.82 147.36V144.13M455.33 147.36V143.5M461.84 147.36V143.1M468.35 147.36V142.7M474.86 147.36V142.54M481.37 147.36V142.43M487.88 147.36V142.42M494.39 147.36V142.53M500.9 147.36V142.66M507.41 147.36V143.1M513.92 147.36V143.54M520.43 147.36V144.21M526.94 147.36V144.86M533.45 147.36V145.42M435.8 153.88V151.73M442.31 153.88V151.2M448.82 153.88V150.65M455.33 153.88V150.01M461.84 153.88V149.6M468.35 153.88V149.19M474.86 153.88V149.03M481.37 153.88V148.92M487.88 153.88V148.91M494.39 153.88V149.02M500.9 153.88V149.15M507.41 153.88V149.6M513.92 153.88V150.05M520.43 153.88V150.74M526.94 153.88V151.4M533.45 153.88V151.97M435.8 160.4V158.25M442.31 160.4V157.72M448.82 160.4V157.17M455.33 160.4V156.53M461.84 160.4V156.1M468.35 160.4V155.67M474.86 160.4V155.5M481.37 160.4V155.39M487.88 160.4V155.38M494.39 160.4V155.49M500.9 160.4V155.63M507.41 160.4V156.11M513.92 160.4V156.58M520.43 160.4V157.31M526.94 160.4V158.03M533.45 160.4V158.65M435.8 166.92V164.77M442.31 166.92V164.24M448.82 166.92V163.69M455.33 166.92V163.04M461.84 166.92V162.59M468.35 166.92V162.14M474.86 166.92V161.98M481.37 166.92V161.87M487.88 166.92V161.86M494.39 166.92V161.97M500.9 166.92V162.1M507.41 166.92V162.61M513.92 166.92V163.12M520.43 166.92V163.89M526.94 166.92V164.67M533.45 166.92V165.33M435.8 173.44V171.29M442.31 173.44V170.76M448.82 173.44V170.21M455.33 173.44V169.56M461.84 173.44V169.09M468.35 173.44V168.62M474.86 173.44V168.45M481.37 173.44V168.34M487.88 173.44V168.33M494.39 173.44V168.44M500.9 173.44V168.58M507.41 173.44V169.11M513.92 173.44V169.65M520.43 173.44V170.47M526.94 173.44V171.3M533.45 173.44V172M435.8 179.96V177.81M442.31 179.96V177.28M448.82 179.96V176.73M455.33 179.96V176.07M461.84 179.96V175.59M468.35 179.96V175.1M474.86 179.96V174.93M481.37 179.96V174.82M487.88 179.96V174.81M494.39 179.96V174.92M500.9 179.96V175.06M507.41 179.96V175.62M513.92 179.96V176.19M520.43 179.96V177.05M526.94 179.96V177.95M533.45 179.96V178.68M435.8 186.48V184.33M442.31 186.48V183.8M448.82 186.48V183.25M455.33 186.48V182.59M461.84 186.48V182.09M468.35 186.48V181.58M474.86 186.48V181.41M481.37 186.48V181.3M487.88 186.48V181.29M494.39 186.48V181.4M500.9 186.48V181.54M507.41 186.48V182.14M513.92 186.48V182.74M520.43 186.48V183.64M526.94 186.48V184.62M533.45 186.48V185.22M435.8 193V190.85M442.31 193V190.32M448.82 193V189.77M455.33 193V189.11M461.84 193V188.59M468.35 193V188.07M474.86 193V187.89M481.37 193V187.78M487.88 193V187.77M494.39 193V187.88M500.9 193V188.02M507.41 193V188.65M513.92 193V189.28M520.43 193V190.21M526.94 193V191.23M533.45 193V191.74M435.8 199.52V197.37M442.31 199.52V196.84M448.82 199.52V196.29M455.33 199.52V195.62M461.84 199.52V195.09M468.35 199.52V194.55M474.86 199.52V194.36M481.37 199.52V194.23M487.88 199.52V194.22M494.39 199.52V194.35M500.9 199.52V194.51M507.41 199.52V195.13M513.92 199.52V195.76M520.43 199.52V196.66M526.94 199.52V197.61M533.45 199.52V198.26M435.8 206.04V203.89M442.31 206.04V203.36M448.82 206.04V202.81M455.33 206.04V202.14M461.84 206.04V201.59M468.35 206.04V201.04M474.86 206.04V200.83M481.37 206.04V200.68M487.88 206.04V200.67M494.39 206.04V200.81M500.9 206.04V200.99M507.41 206.04V201.61M513.92 206.04V202.24M520.43 206.04V203.11M526.94 206.04V203.99M533.45 206.04V204.64M435.8 212.56V210.42M442.31 212.56V209.88M448.82 212.56V209.32M455.33 212.56V208.64M461.84 212.56V208.08M468.35 212.56V207.51M474.86 212.56V207.29M481.37 212.56V207.14M487.88 212.56V207.12M494.39 212.56V207.28M500.9 212.56V207.46M507.41 212.56V208.1M513.92 212.56V208.73M520.43 212.56V209.59M526.94 212.56V210.44M533.45 212.56V211.06M435.8 219.08V216.95M442.31 219.08V216.4M448.82 219.08V215.83M455.33 219.08V215.13M461.84 219.08V214.56M468.35 219.08V213.99M474.86 219.08V213.76M481.37 219.08V213.6M487.88 219.08V213.58M494.39 219.08V213.74M500.9 219.08V213.94M507.41 219.08V214.58M513.92 219.08V215.23M520.43 219.08V216.07M526.94 219.08V216.9M533.45 219.08V217.5M435.8 225.6V223.48M442.31 225.6V222.92M448.82 225.6V222.34M455.33 225.6V221.63M461.84 225.6V221.05M468.35 225.6V220.47M474.86 225.6V220.23M481.37 225.6V220.05M487.88 225.6V220.03M494.39 225.6V220.21M500.9 225.6V220.41M507.41 225.6V221.07M513.92 225.6V221.72M520.43 225.6V222.56M526.94 225.6V223.36M533.45 225.6V223.94M435.8 232.12V230.01M442.31 232.12V229.43M448.82 232.12V228.85M455.33 232.12V228.12M461.84 232.12V227.53M468.35 232.12V226.94M474.86 232.12V226.69M481.37 232.12V226.51M487.88 232.12V226.49M494.39 232.12V226.67M500.9 232.12V226.89M507.41 232.12V227.55M513.92 232.12V228.21M520.43 232.12V229.05M526.94 232.12V229.82M533.45 232.12V230.38M435.8 238.64V236.55M442.31 238.64V235.97M448.82 238.64V235.38M455.33 238.64V234.64M461.84 238.64V234.03M468.35 238.64V233.43M474.86 238.64V233.17M481.37 238.64V232.98M487.88 238.64V232.96M494.39 238.64V233.15M500.9 238.64V233.37M507.41 238.64V234.05M513.92 238.64V234.73M520.43 238.64V235.56M526.94 238.64V236.32M533.45 238.64V236.86M435.8 245.16V243.08M442.31 245.16V242.5M448.82 245.16V241.91M455.33 245.16V241.15M461.84 245.16V240.53M468.35 245.16V239.91M474.86 245.16V239.64M481.37 245.16V239.44M487.88 245.16V239.42M494.39 245.16V239.62M500.9 245.16V239.85M507.41 245.16V240.55M513.92 245.16V241.24M520.43 245.16V242.07M526.94 245.16V242.82M533.45 245.16V243.35M435.8 251.68V249.62M442.31 251.68V249.03M448.82 251.68V248.43M455.33 251.68V247.67M461.84 251.68V247.03M468.35 251.68V246.39M474.86 251.68V246.12M481.37 251.68V245.91M487.88 251.68V245.89M494.39 251.68V246.1M500.9 251.68V246.34M507.41 251.68V247.05M513.92 251.68V247.76M520.43 251.68V248.58M526.94 251.68V249.31M533.45 251.68V249.83M435.8 258.2V256.15M442.31 258.2V255.56M448.82 258.2V254.96M455.33 258.2V254.19M461.84 258.2V253.53M468.35 258.2V252.88M474.86 258.2V252.59M481.37 258.2V252.38M487.88 258.2V252.35M494.39 258.2V252.57M500.9 258.2V252.82M507.41 258.2V253.55M513.92 258.2V254.27M520.43 258.2V255.09M526.94 258.2V255.81M533.45 258.2V256.32M435.8 264.72V262.69M442.31 264.72V262.1M448.82 264.72V261.48M455.33 264.72V260.7M461.84 264.72V260.03M468.35 264.72V259.36M474.86 264.72V259.07M481.37 264.72V258.84M487.88 264.72V258.82M494.39 264.72V259.05M500.9 264.72V259.3M507.41 264.72V260.04M513.92 264.72V260.78M520.43 264.72V261.59M526.94 264.72V262.3M533.45 264.72V262.79M435.8 271.24V269.25M442.31 271.24V268.63M448.82 271.24V268M455.33 271.24V267.19M461.84 271.24V266.52M468.35 271.24V265.85M474.86 271.24V265.54M481.37 271.24V265.31M487.88 271.24V265.29M494.39 271.24V265.52M500.9 271.24V265.78M507.41 271.24V266.53M513.92 271.24V267.28M520.43 271.24V268.09M526.94 271.24V268.77M533.45 271.24V269.24M435.8 277.76V275.81M442.31 277.76V275.16M448.82 277.76V274.51M455.33 277.76V273.69M461.84 277.76V273.01M468.35 277.76V272.33M474.86 277.76V272.02M481.37 277.76V271.78M487.88 277.76V271.75M494.39 277.76V271.99M500.9 277.76V272.27M507.41 277.76V273.02M513.92 277.76V273.78M520.43 277.76V274.58M526.94 277.76V275.24M533.45 277.76V275.69M435.8 284.28V282.37M442.31 284.28V281.69M448.82 284.28V281.03M455.33 284.28V280.19M461.84 284.28V279.5M468.35 284.28V278.81M474.86 284.28V278.49M481.37 284.28V278.24M487.88 284.28V278.22M494.39 284.28V278.47M500.9 284.28V278.75M507.41 284.28V279.51M513.92 284.28V280.28M520.43 284.28V281.07M526.94 284.28V281.71M533.45 284.28V282.14M435.8 290.8V288.93M442.31 290.8V288.22M448.82 290.8V287.55M455.33 290.8V286.69M461.84 290.8V285.99M468.35 290.8V285.3M474.86 290.8V284.97M481.37 290.8V284.71M487.88 290.8V284.69M494.39 290.8V284.94M500.9 290.8V285.23M507.41 290.8V286M513.92 290.8V286.77M520.43 290.8V287.56M526.94 290.8V288.18M533.45 290.8V288.59M435.8 297.32V295.39M442.31 297.32V294.69M448.82 297.32V294.04M455.33 297.32V293.19M461.84 297.32V292.48M468.35 297.32V291.77M474.86 297.32V291.44M481.37 297.32V291.18M487.88 297.32V291.16M494.39 297.32V291.41M500.9 297.32V291.7M507.41 297.32V292.48M513.92 297.32V293.25M520.43 297.32V294.03M526.94 297.32V294.62M533.45 297.32V295.01M442.31 303.84V301.15M448.82 303.84V300.52M455.33 303.84V299.68M461.84 303.84V298.96M468.35 303.84V298.24M474.86 303.84V297.91M481.37 303.84V297.65M487.88 303.84V297.63M494.39 303.84V297.89M500.9 303.84V298.18M507.41 303.84V298.95M513.92 303.84V299.72M520.43 303.84V300.5M526.94 303.84V301.05M533.45 303.84V301.42M448.82 310.36V307M455.33 310.36V306.17M461.84 310.36V305.45M468.35 310.36V304.72M474.86 310.36V304.38M481.37 310.36V304.13M487.88 310.36V304.1M494.39 310.36V304.36M500.9 310.36V304.65M507.41 310.36V305.42M513.92 310.36V306.2M520.43 310.36V306.94M526.94 310.36V307.47" stroke="#06120e" stroke-opacity="0.88" stroke-width="1.1" fill="none"/>
<path d="M448.82 58.04l-1.27 2.28h2.54zM455.33 57.4l-1.35 2.4h2.7zM461.84 57.06l-1.35 2.4h2.7zM468.35 56.73l-1.35 2.4h2.7zM474.86 56.59l-1.35 2.4h2.7zM481.37 56.48l-1.35 2.4h2.7zM487.88 56.46l-1.35 2.4h2.7zM494.39 56.57l-1.35 2.4h2.7zM500.9 56.7l-1.35 2.4h2.7zM507.41 57.07l-1.35 2.4h2.7zM513.92 57.44l-1.35 2.4h2.7zM520.43 58.15l-1.24 2.23h2.47zM526.94 59.02l-0.97 1.79h1.95zM442.31 65.3l-1.05 1.91h2.09zM448.82 64.56l-1.27 2.28h2.54zM455.33 63.91l-1.35 2.4h2.7zM461.84 63.58l-1.35 2.4h2.7zM468.35 63.24l-1.35 2.4h2.7zM474.86 63.09l-1.35 2.4h2.7zM481.37 62.98l-1.35 2.4h2.7zM487.88 62.97l-1.35 2.4h2.7zM494.39 63.08l-1.35 2.4h2.7zM500.9 63.21l-1.35 2.4h2.7zM507.41 63.58l-1.35 2.4h2.7zM513.92 63.96l-1.35 2.4h2.7zM520.43 64.68l-1.23 2.22h2.47zM526.94 65.57l-0.97 1.78h1.93zM533.45 66.46l-0.7 1.33h1.4zM435.8 72.57l-0.82 1.53h1.64zM442.31 71.82l-1.05 1.91h2.09zM448.82 71.08l-1.27 2.28h2.54zM455.33 70.43l-1.35 2.4h2.7zM461.84 70.09l-1.35 2.4h2.7zM468.35 69.75l-1.35 2.4h2.7zM474.86 69.6l-1.35 2.4h2.7zM481.37 69.49l-1.35 2.4h2.7zM487.88 69.48l-1.35 2.4h2.7zM494.39 69.59l-1.35 2.4h2.7zM500.9 69.71l-1.35 2.4h2.7zM507.41 70.09l-1.35 2.4h2.7zM513.92 70.47l-1.35 2.4h2.7zM520.43 71.21l-1.23 2.22h2.46zM526.94 72.11l-0.96 1.76h1.92zM533.45 73l-0.69 1.32h1.39zM435.8 79.09l-0.82 1.53h1.64zM442.31 78.34l-1.05 1.91h2.09zM448.82 77.6l-1.27 2.28h2.54zM455.33 76.95l-1.35 2.4h2.7zM461.84 76.6l-1.35 2.4h2.7zM468.35 76.25l-1.35 2.4h2.7zM474.86 76.1l-1.35 2.4h2.7zM481.37 75.99l-1.35 2.4h2.7zM487.88 75.98l-1.35 2.4h2.7zM494.39 76.09l-1.35 2.4h2.7zM500.9 76.22l-1.35 2.4h2.7zM507.41 76.61l-1.35 2.4h2.7zM513.92 76.99l-1.35 2.4h2.7zM520.43 77.74l-1.23 2.21h2.45zM526.94 78.66l-0.95 1.75h1.9zM533.45 79.54l-0.69 1.31h1.37zM435.8 85.61l-0.82 1.53h1.64zM442.31 84.86l-1.05 1.91h2.09zM448.82 84.12l-1.27 2.28h2.54zM455.33 83.47l-1.35 2.4h2.7zM461.84 83.11l-1.35 2.4h2.7zM468.35 82.76l-1.35 2.4h2.7zM474.86 82.61l-1.35 2.4h2.7zM481.37 82.5l-1.35 2.4h2.7zM487.88 82.49l-1.35 2.4h2.7zM494.39 82.6l-1.35 2.4h2.7zM500.9 82.73l-1.35 2.4h2.7zM507.41 83.12l-1.35 2.4h2.7zM513.92 83.51l-1.35 2.4h2.7zM520.43 84.27l-1.22 2.21h2.45zM526.94 85.2l-0.94 1.74h1.89zM533.45 86.08l-0.68 1.3h1.36zM435.8 92.13l-0.82 1.53h1.64zM442.31 91.38l-1.05 1.91h2.09zM448.82 90.64l-1.27 2.28h2.54zM455.33 89.99l-1.35 2.4h2.7zM461.84 89.63l-1.35 2.4h2.7zM468.35 89.27l-1.35 2.4h2.7zM474.86 89.11l-1.35 2.4h2.7zM481.37 89l-1.35 2.4h2.7zM487.88 88.99l-1.35 2.4h2.7zM494.39 89.1l-1.35 2.4h2.7zM500.9 89.23l-1.35 2.4h2.7zM507.41 89.63l-1.35 2.4h2.7zM513.92 90.03l-1.35 2.4h2.7zM520.43 90.8l-1.22 2.2h2.44zM526.94 91.75l-0.94 1.73h1.87zM533.45 92.62l-0.68 1.29h1.35zM435.8 98.65l-0.82 1.53h1.64zM442.31 97.9l-1.05 1.91h2.09zM448.82 97.16l-1.27 2.28h2.54zM455.33 96.51l-1.35 2.4h2.7zM461.84 96.14l-1.35 2.4h2.7zM468.35 95.77l-1.35 2.4h2.7zM474.86 95.62l-1.35 2.4h2.7zM481.37 95.51l-1.35 2.4h2.7zM487.88 95.5l-1.35 2.4h2.7zM494.39 95.61l-1.35 2.4h2.7zM500.9 95.74l-1.35 2.4h2.7zM507.41 96.14l-1.35 2.4h2.7zM513.92 96.55l-1.35 2.4h2.7zM520.43 97.33l-1.22 2.2h2.43zM526.94 98.29l-0.93 1.71h1.86zM533.45 99.16l-0.67 1.28h1.34zM435.8 105.17l-0.82 1.53h1.64zM442.31 104.42l-1.05 1.91h2.09zM448.82 103.67l-1.27 2.28h2.54zM455.33 103.02l-1.35 2.4h2.7zM461.84 102.64l-1.35 2.4h2.7zM468.35 102.27l-1.35 2.4h2.7zM474.86 102.12l-1.35 2.4h2.7zM481.37 102.01l-1.35 2.4h2.7zM487.88 102l-1.35 2.4h2.7zM494.39 102.11l-1.35 2.4h2.7zM500.9 102.23l-1.35 2.4h2.7zM507.41 102.64l-1.35 2.4h2.7zM513.92 103.05l-1.35 2.4h2.7zM520.43 103.83l-1.22 2.2h2.44zM526.94 104.8l-0.93 1.72h1.87zM533.45 105.65l-0.68 1.3h1.35zM435.8 111.69l-0.82 1.53h1.64zM442.31 110.93l-1.05 1.91h2.1zM448.82 110.19l-1.27 2.29h2.54zM455.33 109.52l-1.35 2.4h2.7zM461.84 109.15l-1.35 2.4h2.7zM468.35 108.77l-1.35 2.4h2.7zM474.86 108.61l-1.35 2.4h2.7zM481.37 108.5l-1.35 2.4h2.7zM487.88 108.49l-1.35 2.4h2.7zM494.39 108.6l-1.35 2.4h2.7zM500.9 108.73l-1.35 2.4h2.7zM507.41 109.15l-1.35 2.4h2.7zM513.92 109.56l-1.35 2.4h2.7zM520.43 110.34l-1.23 2.21h2.45zM526.94 111.29l-0.94 1.73h1.88zM533.45 112.14l-0.69 1.31h1.37zM435.8 118.21l-0.82 1.53h1.64zM442.31 117.45l-1.05 1.91h2.1zM448.82 116.7l-1.27 2.29h2.55zM455.33 116.03l-1.35 2.4h2.7zM461.84 115.65l-1.35 2.4h2.7zM468.35 115.27l-1.35 2.4h2.7zM474.86 115.11l-1.35 2.4h2.7zM481.37 115l-1.35 2.4h2.7zM487.88 114.99l-1.35 2.4h2.7zM494.39 115.1l-1.35 2.4h2.7zM500.9 115.23l-1.35 2.4h2.7zM507.41 115.65l-1.35 2.4h2.7zM513.92 116.07l-1.35 2.4h2.7zM520.43 116.84l-1.23 2.22h2.46zM526.94 117.79l-0.95 1.74h1.89zM533.45 118.63l-0.7 1.33h1.39zM435.8 124.73l-0.82 1.53h1.64zM442.31 123.97l-1.05 1.91h2.1zM448.82 123.21l-1.28 2.29h2.55zM455.33 122.54l-1.35 2.4h2.7zM461.84 122.15l-1.35 2.4h2.7zM468.35 121.76l-1.35 2.4h2.7zM474.86 121.61l-1.35 2.4h2.7zM481.37 121.5l-1.35 2.4h2.7zM487.88 121.49l-1.35 2.4h2.7zM494.39 121.6l-1.35 2.4h2.7zM500.9 121.73l-1.35 2.4h2.7zM507.41 122.15l-1.35 2.4h2.7zM513.92 122.58l-1.35 2.4h2.7zM520.43 123.35l-1.24 2.23h2.47zM526.94 124.29l-0.95 1.75h1.91zM533.45 125.12l-0.7 1.34h1.41zM435.8 131.25l-0.82 1.53h1.64zM442.31 130.49l-1.05 1.91h2.1zM448.82 129.73l-1.28 2.3h2.56zM455.33 129.05l-1.35 2.4h2.7zM461.84 128.65l-1.35 2.4h2.7zM468.35 128.26l-1.35 2.4h2.7zM474.86 128.11l-1.35 2.4h2.7zM481.37 127.99l-1.35 2.4h2.7zM487.88 127.98l-1.35 2.4h2.7zM494.39 128.09l-1.35 2.4h2.7zM500.9 128.22l-1.35 2.4h2.7zM507.41 128.65l-1.35 2.4h2.7zM513.92 129.08l-1.35 2.4h2.7zM520.43 129.85l-1.24 2.23h2.48zM526.94 130.79l-0.96 1.77h1.92zM533.45 131.61l-0.71 1.36h1.43zM435.8 137.77l-0.82 1.53h1.64zM442.31 137.01l-1.05 1.91h2.1zM448.82 136.24l-1.28 2.3h2.56zM455.33 135.55l-1.35 2.4h2.7zM461.84 135.16l-1.35 2.4h2.7zM468.35 134.76l-1.35 2.4h2.7zM474.86 134.6l-1.35 2.4h2.7zM481.37 134.49l-1.35 2.4h2.7zM487.88 134.48l-1.35 2.4h2.7zM494.39 134.59l-1.35 2.4h2.7zM500.9 134.72l-1.35 2.4h2.7zM507.41 135.16l-1.35 2.4h2.7zM513.92 135.59l-1.35 2.4h2.7zM520.43 136.36l-1.25 2.24h2.49zM526.94 137.29l-0.97 1.78h1.93zM533.45 138.1l-0.72 1.37h1.44zM435.8 144.29l-0.82 1.53h1.64zM442.31 143.53l-1.05 1.91h2.1zM448.82 142.75l-1.28 2.3h2.56zM455.33 142.06l-1.35 2.4h2.7zM461.84 141.66l-1.35 2.4h2.7zM468.35 141.26l-1.35 2.4h2.7zM474.86 141.1l-1.35 2.4h2.7zM481.37 140.99l-1.35 2.4h2.7zM487.88 140.98l-1.35 2.4h2.7zM494.39 141.09l-1.35 2.4h2.7zM500.9 141.22l-1.35 2.4h2.7zM507.41 141.66l-1.35 2.4h2.7zM513.92 142.1l-1.35 2.4h2.7zM520.43 142.86l-1.25 2.25h2.5zM526.94 143.79l-0.97 1.79h1.94zM533.45 144.59l-0.73 1.38h1.46zM435.8 150.81l-0.82 1.53h1.64zM442.31 150.05l-1.05 1.91h2.1zM448.82 149.27l-1.28 2.31h2.57zM455.33 148.57l-1.35 2.4h2.7zM461.84 148.16l-1.35 2.4h2.7zM468.35 147.75l-1.35 2.4h2.7zM474.86 147.59l-1.35 2.4h2.7zM481.37 147.48l-1.35 2.4h2.7zM487.88 147.47l-1.35 2.4h2.7zM494.39 147.58l-1.35 2.4h2.7zM500.9 147.71l-1.35 2.4h2.7zM507.41 148.16l-1.35 2.4h2.7zM513.92 148.61l-1.35 2.4h2.7zM520.43 149.39l-1.25 2.24h2.49zM526.94 150.34l-0.96 1.77h1.93zM533.45 151.15l-0.72 1.36h1.44zM435.8 157.33l-0.82 1.53h1.64zM442.31 156.57l-1.05 1.91h2.1zM448.82 155.79l-1.28 2.31h2.57zM455.33 155.09l-1.35 2.4h2.7zM461.84 154.66l-1.35 2.4h2.7zM468.35 154.23l-1.35 2.4h2.7zM474.86 154.06l-1.35 2.4h2.7zM481.37 153.95l-1.35 2.4h2.7zM487.88 153.94l-1.35 2.4h2.7zM494.39 154.05l-1.35 2.4h2.7zM500.9 154.19l-1.35 2.4h2.7zM507.41 154.67l-1.35 2.4h2.7zM513.92 155.14l-1.35 2.4h2.7zM520.43 155.99l-1.22 2.2h2.44zM526.94 157.02l-0.91 1.69h1.83zM533.45 157.9l-0.65 1.25h1.3zM435.8 163.85l-0.82 1.53h1.64zM442.31 163.09l-1.05 1.91h2.1zM448.82 162.31l-1.28 2.31h2.57zM455.33 161.6l-1.35 2.4h2.7zM461.84 161.15l-1.35 2.4h2.7zM468.35 160.7l-1.35 2.4h2.7zM474.86 160.54l-1.35 2.4h2.7zM481.37 160.43l-1.35 2.4h2.7zM487.88 160.42l-1.35 2.4h2.7zM494.39 160.53l-1.35 2.4h2.7zM500.9 160.66l-1.35 2.4h2.7zM507.41 161.17l-1.35 2.4h2.7zM513.92 161.68l-1.35 2.4h2.7zM520.43 162.59l-1.2 2.16h2.4zM526.94 163.7l-0.86 1.61h1.73zM533.45 164.64l-0.6 1.14h1.2zM435.8 170.37l-0.82 1.53h1.64zM442.31 169.61l-1.05 1.91h2.1zM448.82 168.83l-1.28 2.31h2.57zM455.33 168.12l-1.35 2.4h2.7zM461.84 167.65l-1.35 2.4h2.7zM468.35 167.18l-1.35 2.4h2.7zM474.86 167.01l-1.35 2.4h2.7zM481.37 166.9l-1.35 2.4h2.7zM487.88 166.89l-1.35 2.4h2.7zM494.39 167l-1.35 2.4h2.7zM500.9 167.14l-1.35 2.4h2.7zM507.41 167.67l-1.35 2.4h2.7zM513.92 168.21l-1.35 2.4h2.7zM520.43 169.19l-1.17 2.12h2.35zM526.94 170.39l-0.82 1.53h1.63zM533.45 171.39l-0.6 1.03h1.2zM435.8 176.89l-0.82 1.53h1.64zM442.31 176.13l-1.05 1.91h2.1zM448.82 175.35l-1.28 2.31h2.57zM455.33 174.63l-1.35 2.4h2.7zM461.84 174.15l-1.35 2.4h2.7zM468.35 173.66l-1.35 2.4h2.7zM474.86 173.49l-1.35 2.4h2.7zM481.37 173.38l-1.35 2.4h2.7zM487.88 173.37l-1.35 2.4h2.7zM494.39 173.48l-1.35 2.4h2.7zM500.9 173.62l-1.35 2.4h2.7zM507.41 174.18l-1.35 2.4h2.7zM513.92 174.75l-1.35 2.4h2.7zM520.43 175.8l-1.15 2.08h2.29zM526.94 177.09l-0.76 1.43h1.52zM533.45 178.12l-0.6 0.92h1.2zM435.8 183.41l-0.82 1.53h1.64zM442.31 182.65l-1.05 1.91h2.1zM448.82 181.87l-1.28 2.31h2.57zM455.33 181.15l-1.35 2.4h2.7zM461.84 180.65l-1.35 2.4h2.7zM468.35 180.14l-1.35 2.4h2.7zM474.86 179.97l-1.35 2.4h2.7zM481.37 179.86l-1.35 2.4h2.7zM487.88 179.85l-1.35 2.4h2.7zM494.39 179.96l-1.35 2.4h2.7zM500.9 180.1l-1.35 2.4h2.7zM507.41 180.7l-1.35 2.4h2.7zM513.92 181.3l-1.35 2.4h2.7zM520.43 182.43l-1.12 2.03h2.23zM526.94 183.82l-0.7 1.33h1.4zM533.45 184.68l-0.6 0.9h1.2zM435.8 189.93l-0.82 1.53h1.64zM442.31 189.17l-1.05 1.91h2.1zM448.82 188.39l-1.28 2.31h2.57zM455.33 187.67l-1.35 2.4h2.7zM461.84 187.15l-1.35 2.4h2.7zM468.35 186.63l-1.35 2.4h2.7zM474.86 186.45l-1.35 2.4h2.7zM481.37 186.34l-1.35 2.4h2.7zM487.88 186.33l-1.35 2.4h2.7zM494.39 186.44l-1.35 2.4h2.7zM500.9 186.58l-1.35 2.4h2.7zM507.41 187.21l-1.35 2.4h2.7zM513.92 187.84l-1.35 2.4h2.7zM520.43 189.02l-1.09 1.99h2.19zM526.94 190.48l-0.66 1.26h1.31zM533.45 191.2l-0.6 0.9h1.2zM435.8 196.45l-0.82 1.53h1.64zM442.31 195.69l-1.05 1.91h2.1zM448.82 194.91l-1.28 2.31h2.57zM455.33 194.18l-1.35 2.4h2.7zM461.84 193.65l-1.35 2.4h2.7zM468.35 193.11l-1.35 2.4h2.7zM474.86 192.92l-1.35 2.4h2.7zM481.37 192.79l-1.35 2.4h2.7zM487.88 192.78l-1.35 2.4h2.7zM494.39 192.91l-1.35 2.4h2.7zM500.9 193.07l-1.35 2.4h2.7zM507.41 193.69l-1.35 2.4h2.7zM513.92 194.32l-1.35 2.4h2.7zM520.43 195.44l-1.13 2.04h2.25zM526.94 196.79l-0.72 1.36h1.44zM533.45 197.72l-0.6 0.9h1.2zM435.8 202.97l-0.82 1.53h1.64zM442.31 202.21l-1.05 1.91h2.1zM448.82 201.43l-1.28 2.31h2.57zM455.33 200.7l-1.35 2.4h2.7zM461.84 200.15l-1.35 2.4h2.7zM468.35 199.6l-1.35 2.4h2.7zM474.86 199.39l-1.35 2.4h2.7zM481.37 199.24l-1.35 2.4h2.7zM487.88 199.23l-1.35 2.4h2.7zM494.39 199.37l-1.35 2.4h2.7zM500.9 199.55l-1.35 2.4h2.7zM507.41 200.17l-1.35 2.4h2.7zM513.92 200.8l-1.35 2.4h2.7zM520.43 201.85l-1.16 2.1h2.31zM526.94 203.11l-0.78 1.47h1.56zM533.45 204.04l-0.6 1h1.2zM435.8 209.51l-0.82 1.53h1.63zM442.31 208.73l-1.05 1.92h2.1zM448.82 207.94l-1.29 2.31h2.57zM455.33 207.2l-1.35 2.4h2.7zM461.84 206.64l-1.35 2.4h2.7zM468.35 206.07l-1.35 2.4h2.7zM474.86 205.85l-1.35 2.4h2.7zM481.37 205.7l-1.35 2.4h2.7zM487.88 205.68l-1.35 2.4h2.7zM494.39 205.84l-1.35 2.4h2.7zM500.9 206.02l-1.35 2.4h2.7zM507.41 206.66l-1.35 2.4h2.7zM513.92 207.29l-1.35 2.4h2.7zM520.43 208.31l-1.17 2.12h2.35zM526.94 209.53l-0.81 1.52h1.62zM533.45 210.42l-0.6 1.07h1.2zM435.8 216.04l-0.81 1.52h1.62zM442.31 215.25l-1.05 1.92h2.1zM448.82 214.44l-1.29 2.32h2.58zM455.33 213.69l-1.35 2.4h2.7zM461.84 213.12l-1.35 2.4h2.7zM468.35 212.55l-1.35 2.4h2.7zM474.86 212.32l-1.35 2.4h2.7zM481.37 212.16l-1.35 2.4h2.7zM487.88 212.14l-1.35 2.4h2.7zM494.39 212.3l-1.35 2.4h2.7zM500.9 212.5l-1.35 2.4h2.7zM507.41 213.14l-1.35 2.4h2.7zM513.92 213.79l-1.35 2.4h2.7zM520.43 214.79l-1.19 2.15h2.38zM526.94 215.96l-0.83 1.56h1.67zM533.45 216.82l-0.6 1.13h1.2zM435.8 222.58l-0.81 1.51h1.61zM442.31 221.77l-1.05 1.92h2.1zM448.82 220.95l-1.3 2.33h2.59zM455.33 220.19l-1.35 2.4h2.7zM461.84 219.61l-1.35 2.4h2.7zM468.35 219.03l-1.35 2.4h2.7zM474.86 218.79l-1.35 2.4h2.7zM481.37 218.61l-1.35 2.4h2.7zM487.88 218.59l-1.35 2.4h2.7zM494.39 218.77l-1.35 2.4h2.7zM500.9 218.97l-1.35 2.4h2.7zM507.41 219.63l-1.35 2.4h2.7zM513.92 220.28l-1.35 2.4h2.7zM520.43 221.26l-1.2 2.17h2.4zM526.94 222.4l-0.86 1.6h1.72zM533.45 223.23l-0.61 1.19h1.22zM435.8 229.11l-0.8 1.5h1.6zM442.31 228.28l-1.05 1.92h2.1zM448.82 227.46l-1.3 2.33h2.6zM455.33 226.68l-1.35 2.4h2.7zM461.84 226.09l-1.35 2.4h2.7zM468.35 225.5l-1.35 2.4h2.7zM474.86 225.25l-1.35 2.4h2.7zM481.37 225.07l-1.35 2.4h2.7zM487.88 225.05l-1.35 2.4h2.7zM494.39 225.23l-1.35 2.4h2.7zM500.9 225.45l-1.35 2.4h2.7zM507.41 226.11l-1.35 2.4h2.7zM513.92 226.77l-1.35 2.4h2.7zM520.43 227.73l-1.22 2.19h2.43zM526.94 228.84l-0.88 1.64h1.77zM533.45 229.63l-0.65 1.25h1.3zM435.8 235.65l-0.8 1.49h1.59zM442.31 234.82l-1.05 1.91h2.09zM448.82 233.98l-1.3 2.33h2.59zM455.33 233.2l-1.35 2.4h2.7zM461.84 232.59l-1.35 2.4h2.7zM468.35 231.99l-1.35 2.4h2.7zM474.86 231.73l-1.35 2.4h2.7zM481.37 231.54l-1.35 2.4h2.7zM487.88 231.52l-1.35 2.4h2.7zM494.39 231.71l-1.35 2.4h2.7zM500.9 231.93l-1.35 2.4h2.7zM507.41 232.61l-1.35 2.4h2.7zM513.92 233.29l-1.35 2.4h2.7zM520.43 234.24l-1.22 2.2h2.44zM526.94 235.32l-0.89 1.66h1.79zM533.45 236.1l-0.66 1.27h1.33zM435.8 242.19l-0.79 1.48h1.58zM442.31 241.36l-1.04 1.9h2.08zM448.82 240.51l-1.29 2.32h2.59zM455.33 239.71l-1.35 2.4h2.7zM461.84 239.09l-1.35 2.4h2.7zM468.35 238.47l-1.35 2.4h2.7zM474.86 238.2l-1.35 2.4h2.7zM481.37 238l-1.35 2.4h2.7zM487.88 237.98l-1.35 2.4h2.7zM494.39 238.18l-1.35 2.4h2.7zM500.9 238.41l-1.35 2.4h2.7zM507.41 239.11l-1.35 2.4h2.7zM513.92 239.8l-1.35 2.4h2.7zM520.43 240.75l-1.22 2.21h2.45zM526.94 241.81l-0.9 1.67h1.81zM533.45 242.57l-0.68 1.3h1.35zM435.8 248.73l-0.78 1.47h1.57zM442.31 247.9l-1.03 1.89h2.07zM448.82 247.04l-1.29 2.32h2.59zM455.33 246.23l-1.35 2.4h2.7zM461.84 245.59l-1.35 2.4h2.7zM468.35 244.95l-1.35 2.4h2.7zM474.86 244.68l-1.35 2.4h2.7zM481.37 244.47l-1.35 2.4h2.7zM487.88 244.45l-1.35 2.4h2.7zM494.39 244.66l-1.35 2.4h2.7zM500.9 244.9l-1.35 2.4h2.7zM507.41 245.61l-1.35 2.4h2.7zM513.92 246.32l-1.35 2.4h2.7zM520.43 247.25l-1.23 2.21h2.46zM526.94 248.3l-0.91 1.69h1.83zM533.45 249.04l-0.69 1.32h1.38zM435.8 255.27l-0.78 1.47h1.56zM442.31 254.43l-1.03 1.88h2.06zM448.82 253.57l-1.29 2.32h2.58zM455.33 252.75l-1.35 2.4h2.7zM461.84 252.09l-1.35 2.4h2.7zM468.35 251.44l-1.35 2.4h2.7zM474.86 251.15l-1.35 2.4h2.7zM481.37 250.94l-1.35 2.4h2.7zM487.88 250.91l-1.35 2.4h2.7zM494.39 251.13l-1.35 2.4h2.7zM500.9 251.38l-1.35 2.4h2.7zM507.41 252.11l-1.35 2.4h2.7zM513.92 252.83l-1.35 2.4h2.7zM520.43 253.76l-1.23 2.22h2.46zM526.94 254.78l-0.92 1.71h1.85zM533.45 255.51l-0.71 1.35h1.41zM435.8 261.82l-0.77 1.45h1.54zM442.31 260.97l-1.02 1.87h2.05zM448.82 260.09l-1.29 2.32h2.58zM455.33 259.26l-1.35 2.4h2.7zM461.84 258.59l-1.35 2.4h2.7zM468.35 257.92l-1.35 2.4h2.7zM474.86 257.63l-1.35 2.4h2.7zM481.37 257.4l-1.35 2.4h2.7zM487.88 257.38l-1.35 2.4h2.7zM494.39 257.61l-1.35 2.4h2.7zM500.9 257.86l-1.35 2.4h2.7zM507.41 258.6l-1.35 2.4h2.7zM513.92 259.34l-1.35 2.4h2.7zM520.43 260.26l-1.24 2.23h2.48zM526.94 261.26l-0.94 1.73h1.88zM533.45 261.96l-0.73 1.38h1.46zM435.8 268.4l-0.75 1.42h1.5zM442.31 267.51l-1.02 1.87h2.04zM448.82 266.61l-1.29 2.32h2.58zM455.33 265.75l-1.35 2.4h2.7zM461.84 265.08l-1.35 2.4h2.7zM468.35 264.41l-1.35 2.4h2.7zM474.86 264.1l-1.35 2.4h2.7zM481.37 263.87l-1.35 2.4h2.7zM487.88 263.85l-1.35 2.4h2.7zM494.39 264.08l-1.35 2.4h2.7zM500.9 264.34l-1.35 2.4h2.7zM507.41 265.09l-1.35 2.4h2.7zM513.92 265.84l-1.35 2.4h2.7zM520.43 266.74l-1.25 2.25h2.5zM526.94 267.71l-0.96 1.77h1.92zM533.45 268.38l-0.76 1.43h1.52zM435.8 274.98l-0.73 1.39h1.47zM442.31 274.04l-1.01 1.86h2.03zM448.82 273.12l-1.29 2.32h2.58zM455.33 272.25l-1.35 2.4h2.7zM461.84 271.57l-1.35 2.4h2.7zM468.35 270.89l-1.35 2.4h2.7zM474.86 270.58l-1.35 2.4h2.7zM481.37 270.34l-1.35 2.4h2.7zM487.88 270.31l-1.35 2.4h2.7zM494.39 270.55l-1.35 2.4h2.7zM500.9 270.83l-1.35 2.4h2.7zM507.41 271.58l-1.35 2.4h2.7zM513.92 272.34l-1.35 2.4h2.7zM520.43 273.22l-1.26 2.27h2.53zM526.94 274.16l-0.98 1.8h1.96zM533.45 274.8l-0.79 1.48h1.58zM435.8 281.56l-0.72 1.36h1.43zM442.31 280.58l-1.01 1.85h2.02zM448.82 279.64l-1.29 2.32h2.59zM455.33 278.75l-1.35 2.4h2.7zM461.84 278.06l-1.35 2.4h2.7zM468.35 277.37l-1.35 2.4h2.7zM474.86 277.05l-1.35 2.4h2.7zM481.37 276.8l-1.35 2.4h2.7zM487.88 276.78l-1.35 2.4h2.7zM494.39 277.03l-1.35 2.4h2.7zM500.9 277.31l-1.35 2.4h2.7zM507.41 278.07l-1.35 2.4h2.7zM513.92 278.84l-1.35 2.4h2.7zM520.43 279.7l-1.27 2.29h2.55zM526.94 280.61l-1 1.84h2zM533.45 281.22l-0.82 1.53h1.64zM435.8 288.14l-0.7 1.33h1.4zM442.31 287.12l-1 1.84h2.01zM448.82 286.15l-1.29 2.32h2.59zM455.33 285.25l-1.35 2.4h2.7zM461.84 284.55l-1.35 2.4h2.7zM468.35 283.86l-1.35 2.4h2.7zM474.86 283.53l-1.35 2.4h2.7zM481.37 283.27l-1.35 2.4h2.7zM487.88 283.25l-1.35 2.4h2.7zM494.39 283.5l-1.35 2.4h2.7zM500.9 283.79l-1.35 2.4h2.7zM507.41 284.56l-1.35 2.4h2.7zM513.92 285.33l-1.35 2.4h2.7zM520.43 286.18l-1.29 2.31h2.57zM526.94 287.06l-1.02 1.87h2.04zM533.45 287.64l-0.85 1.58h1.7zM435.8 294.56l-0.73 1.38h1.45zM442.31 293.57l-1.03 1.88h2.05zM448.82 292.63l-1.31 2.34h2.61zM455.33 291.75l-1.35 2.4h2.7zM461.84 291.04l-1.35 2.4h2.7zM468.35 290.33l-1.35 2.4h2.7zM474.86 290l-1.35 2.4h2.7zM481.37 289.74l-1.35 2.4h2.7zM487.88 289.72l-1.35 2.4h2.7zM494.39 289.97l-1.35 2.4h2.7zM500.9 290.26l-1.35 2.4h2.7zM507.41 291.04l-1.35 2.4h2.7zM513.92 291.81l-1.35 2.4h2.7zM520.43 292.62l-1.31 2.35h2.62zM526.94 293.46l-1.06 1.93h2.12zM533.45 294.01l-0.89 1.65h1.78zM442.31 300l-1.05 1.92h2.11zM448.82 299.1l-1.32 2.37h2.65zM455.33 298.24l-1.35 2.4h2.7zM461.84 297.52l-1.35 2.4h2.7zM468.35 296.8l-1.35 2.4h2.7zM474.86 296.47l-1.35 2.4h2.7zM481.37 296.21l-1.35 2.4h2.7zM487.88 296.19l-1.35 2.4h2.7zM494.39 296.45l-1.35 2.4h2.7zM500.9 296.74l-1.35 2.4h2.7zM507.41 297.51l-1.35 2.4h2.7zM513.92 298.28l-1.35 2.4h2.7zM520.43 299.06l-1.33 2.39h2.67zM526.94 299.85l-1.1 2h2.2zM533.45 300.38l-0.94 1.73h1.88zM448.82 305.56l-1.34 2.4h2.68zM455.33 304.73l-1.35 2.4h2.7zM461.84 304.01l-1.35 2.4h2.7zM468.35 303.28l-1.35 2.4h2.7zM474.86 302.94l-1.35 2.4h2.7zM481.37 302.69l-1.35 2.4h2.7zM487.88 302.66l-1.35 2.4h2.7zM494.39 302.92l-1.35 2.4h2.7zM500.9 303.21l-1.35 2.4h2.7zM507.41 303.98l-1.35 2.4h2.7zM513.92 304.76l-1.35 2.4h2.7zM520.43 305.5l-1.35 2.4h2.7zM526.94 306.24l-1.14 2.06h2.27z" fill="#06120e" fill-opacity="0.92"/>
<line x1="61.1" y1="151.2" x2="163.2" y2="151.2" stroke="#f5574a" stroke-width="3.6" stroke-dasharray="3.6 3.4"/>
<line x1="245.8" y1="151.2" x2="353" y2="151.2" stroke="#f5574a" stroke-width="3.6" stroke-dasharray="3.6 3.4"/>
<line x1="432.8" y1="151.2" x2="536.8" y2="151.2" stroke="#f5574a" stroke-width="3.6" stroke-dasharray="3.6 3.4"/>
<path d="M245.6 290V309.3H265" stroke="#000" stroke-width="1.7" fill="none"/>
<path d="M245.6 284.4L241.8 291.2H249.4Z" fill="#000"/>
<path d="M271 309.3L264.2 305.5V313.1Z" fill="#000"/>
<text x="224.6" y="296.5" font-size="21" font-style="italic">y</text>
<text x="253.5" y="332.5" font-size="21" font-style="italic">x</text>
<text x="-1.5" y="17.4" font-size="32" font-weight="bold">a</text>
<text x="-1.3" y="390.5" font-size="32" font-weight="bold">b</text>
<text x="90.2" y="46.7" font-size="21.5">1 bar</text>
<text x="274.4" y="46.7" font-size="21.5">3 bar</text>
<text x="460.0" y="46.7" font-size="21.5">5 bar</text>
<text transform="translate(49.1 228) rotate(-90)" font-size="21.5">Wall (electrode)</text>
<text transform="translate(190.1 227.4) rotate(-90)" font-size="21.5">Wall (electrode)</text>
<text x="353.5" y="129.9" font-size="21.5" font-style="italic">Line-of-</text>
<text x="354.3" y="155.5" font-size="21.5" font-style="italic">interest</text>
<text x="81" y="352.8" font-size="21.5">1 mm</text>
<rect x="97.1" y="361.2" width="25.6" height="5.3" fill="#000"/>
<text x="268.7" y="352.8" font-size="21.5">1 mm</text>
<rect x="285.1" y="361.2" width="25.6" height="5.3" fill="#000"/>
<text x="455.2" y="352.8" font-size="21.5">1 mm</text>
<rect x="471.8" y="361.2" width="25.6" height="5.3" fill="#000"/>
<defs><linearGradient id="cbg" x1="0" y1="0" x2="0" y2="1"><stop offset="0" stop-color="#ff0000"/><stop offset="0.11" stop-color="#ff6400"/><stop offset="0.21" stop-color="#ffb400"/><stop offset="0.31" stop-color="#ffff00"/><stop offset="0.39" stop-color="#c8ff38"/><stop offset="0.49" stop-color="#80ff80"/><stop offset="0.58" stop-color="#40ffc0"/><stop offset="0.66" stop-color="#00ffff"/><stop offset="0.72" stop-color="#00c4e4"/><stop offset="0.78" stop-color="#0090cc"/><stop offset="0.84" stop-color="#0062b4"/><stop offset="0.89" stop-color="#0030a8"/><stop offset="0.94" stop-color="#00009a"/><stop offset="0.98" stop-color="#000060"/><stop offset="1" stop-color="#00003e"/></linearGradient></defs>
<rect x="579.9" y="30.9" width="27.1" height="304.7" fill="#5a5a5a"/>
<rect x="584.6" y="35.4" width="17.7" height="295.3" fill="url(#cbg)"/>
<path d="M607 335.1h5.3M607 317.48h5.3M607 299.86h5.3M607 282.24h5.3M607 264.62h5.3M607 247h5.3M607 229.38h5.3M607 211.76h5.3M607 194.14h5.3M607 176.52h5.3M607 158.9h5.3M607 141.28h5.3M607 123.66h5.3M607 106.04h5.3M607 88.42h5.3M607 70.8h5.3M607 53.18h5.3M607 35.56h5.3" stroke="#a0a0a0" stroke-width="1.1"/>
<text x="618.6" y="42.56" font-size="20.5">17</text>
<text x="618.6" y="77.8" font-size="20.5">15</text>
<text x="618.6" y="113.04" font-size="20.5">13</text>
<text x="618.6" y="148.28" font-size="20.5">11</text>
<text x="621.2" y="183.52" font-size="20.5">9</text>
<text x="621.2" y="218.76" font-size="20.5">7</text>
<text x="621.2" y="254" font-size="20.5">5</text>
<text x="621.2" y="289.24" font-size="20.5">3</text>
<text x="621.2" y="324.48" font-size="20.5">1</text>
<text transform="translate(680.9 262) rotate(-90)" font-size="20.9">Velocity (mm s<tspan dx="1.2" dy="-6" font-size="15">-1</tspan><tspan dy="6">)</tspan></text>
<rect x="88.8" y="397.37" width="516.5" height="265.43" fill="none" stroke="#000" stroke-width="1.8"/>
<path d="M88.8 662.8v8.5M88.8 397.37v8.5M140.45 662.8v4.2M140.45 397.37v4.2M192.1 662.8v8.5M192.1 397.37v8.5M243.75 662.8v4.2M243.75 397.37v4.2M295.4 662.8v8.5M295.4 397.37v8.5M347.05 662.8v4.2M347.05 397.37v4.2M398.7 662.8v8.5M398.7 397.37v8.5M450.35 662.8v4.2M450.35 397.37v4.2M502 662.8v8.5M502 397.37v8.5M553.65 662.8v4.2M553.65 397.37v4.2M605.3 662.8v8.5M605.3 397.37v8.5M88.8 662.8h-8.5M605.3 662.8h-8.5M88.8 638.67h-4.5M605.3 638.67h-4.5M88.8 614.54h-8.5M605.3 614.54h-8.5M88.8 590.41h-4.5M605.3 590.41h-4.5M88.8 566.28h-8.5M605.3 566.28h-8.5M88.8 542.15h-4.5M605.3 542.15h-4.5M88.8 518.02h-8.5M605.3 518.02h-8.5M88.8 493.89h-4.5M605.3 493.89h-4.5M88.8 469.76h-8.5M605.3 469.76h-8.5M88.8 445.63h-4.5M605.3 445.63h-4.5M88.8 421.5h-8.5M605.3 421.5h-8.5M88.8 397.37h-4.5M605.3 397.37h-4.5" stroke="#000" stroke-width="1.8" fill="none"/>
<text x="88.8" y="691.9" font-size="19" text-anchor="middle">0.0</text>
<text x="192.1" y="691.9" font-size="19" text-anchor="middle">0.2</text>
<text x="295.4" y="691.9" font-size="19" text-anchor="middle">0.4</text>
<text x="398.7" y="691.9" font-size="19" text-anchor="middle">0.6</text>
<text x="502" y="691.9" font-size="19" text-anchor="middle">0.8</text>
<text x="605.3" y="691.9" font-size="19" text-anchor="middle">1.0</text>
<text x="74.2" y="669.6" font-size="19" text-anchor="end">2</text>
<text x="74.2" y="621.34" font-size="19" text-anchor="end">4</text>
<text x="74.2" y="573.08" font-size="19" text-anchor="end">6</text>
<text x="74.2" y="524.82" font-size="19" text-anchor="end">8</text>
<text x="74.2" y="476.56" font-size="19" text-anchor="end">10</text>
<text x="74.2" y="428.3" font-size="19" text-anchor="end">12</text>
<polyline points="105.33,633.6 134.48,590.41 163.63,550.6 192.78,516.81 221.93,492.2 251.08,472.17 280.24,458.9 309.39,449.49 338.54,443.94 367.69,443.46 396.84,448.53 425.99,460.11 455.14,478.93 484.29,504.27 513.45,534.91 542.6,571.35 571.75,618.4" fill="none" stroke="#1d4563" stroke-width="3.2" stroke-linejoin="round" stroke-linecap="round"/>
<polyline points="105.33,629.98 134.48,589.2 163.63,551.32 192.78,518.99 221.93,492.2 251.08,466.14 280.24,448.04 309.39,437.91 338.54,435.74 367.69,438.87 396.84,446.6 425.99,459.87 455.14,478.93 484.29,504.27 513.45,536.84 542.6,574.97 571.75,627.81" fill="none" stroke="#c1003b" stroke-width="3.2" stroke-linejoin="round" stroke-linecap="round"/>
<polyline points="105.33,626.12 134.48,584.38 163.63,549.39 192.78,520.19 221.93,495.1 251.08,472.66 280.24,456.73 309.39,446.6 338.54,441.05 367.69,440.8 396.84,448.28 425.99,460.83 455.14,481.82 484.29,510.3 513.45,544.8 542.6,584.62 571.75,636.02" fill="none" stroke="#fc8a3b" stroke-width="3.2" stroke-linejoin="round" stroke-linecap="round"/>
<text x="100.2" y="423.1" font-size="18.8">Pressure (bar)</text>
<line x1="100.6" y1="439.7" x2="142.5" y2="439.7" stroke="#1d4563" stroke-width="3.3" stroke-linecap="round"/>
<text x="147.3" y="446.2" font-size="19">1</text>
<line x1="100.6" y1="462.7" x2="142.5" y2="462.7" stroke="#c1003b" stroke-width="3.3" stroke-linecap="round"/>
<text x="147.3" y="469.2" font-size="19">3</text>
<line x1="100.6" y1="485.8" x2="142.5" y2="485.8" stroke="#fc8a3b" stroke-width="3.3" stroke-linecap="round"/>
<text x="147.3" y="492.3" font-size="19">5</text>
<text x="303.8" y="737.3" font-size="25"><tspan font-style="italic">x</tspan> / <tspan font-style="italic">L</tspan><tspan font-size="17" dy="6">x</tspan><tspan dy="-6"> (-)</tspan></text>
<text transform="translate(29 591.5) rotate(-90)" font-size="25"><tspan font-weight="bold">u</tspan><tspan font-size="17" dy="6">y</tspan><tspan dy="-6"> (mm s</tspan><tspan font-size="17" dy="-11.5">-1</tspan><tspan dy="11.5">)</tspan></text>
</svg></body></html>
